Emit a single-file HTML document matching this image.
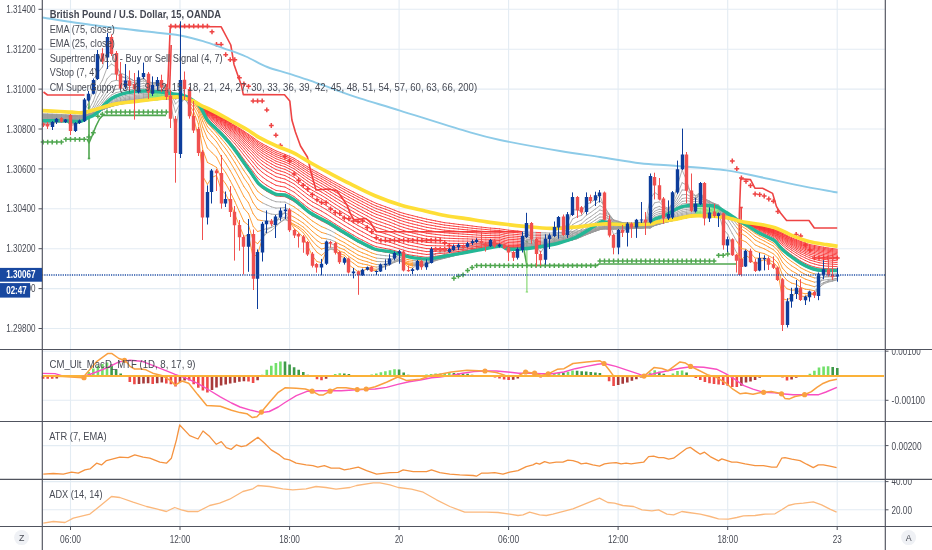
<!DOCTYPE html>
<html><head><meta charset="utf-8"><title>GBPUSD chart</title>
<style>html,body{margin:0;padding:0;background:#fff}body{width:932px;height:550px;overflow:hidden}</style>
</head><body>
<svg width="932" height="550" viewBox="0 0 932 550" style="display:block;font-family:'Liberation Sans',sans-serif">
<rect width="932" height="550" fill="#fff"/>
<path d="M70.5 0V526 M180.0 0V526 M289.6 0V526 M399.1 0V526 M508.6 0V526 M618.1 0V526 M727.7 0V526 M837.2 0V526 M42.0 9.3H885.0 M42.0 49.2H885.0 M42.0 89.1H885.0 M42.0 129.0H885.0 M42.0 168.9H885.0 M42.0 208.8H885.0 M42.0 248.7H885.0 M42.0 288.6H885.0 M42.0 328.5H885.0 M42.0 351.2H885.0 M42.0 400.3H885.0 M42.0 445.6H885.0 M42.0 481.6H885.0 M42.0 509.8H885.0" stroke="#e3ecf3" stroke-width="1.1" fill="none"/>
<path d="M43.5 92.0 L47.5 95.0 L84.5 95.0" stroke="#ee4444" stroke-width="1.6" fill="none" stroke-linejoin="round"/>
<path d="M166.5 97.0 L167.5 92.0 L170.3 26.5 L221.2 26.8 L230.8 45.0 L234.0 64.4 L241.5 85.8 L243.3 94.6 L284.5 94.8 L289.8 100.9 L291.9 120.0 L295.4 132.0 L300.5 146.0 L307.4 157.0 L310.9 171.8 L316.0 190.0 L328.2 189.0 L336.8 190.8 L342.0 197.7 L347.0 205.0 L350.4 213.6 L353.8 219.7 L365.9 218.5 L370.2 222.3 L376.3 231.8 L522.0 231.8" stroke="#ee4444" stroke-width="1.6" fill="none" stroke-linejoin="round"/>
<path d="M171.2 45.0 L169.5 92.0" stroke="#ee4444" stroke-width="1.6" fill="none" stroke-linejoin="round"/>
<path d="M65.0 116.2 L78.5 116.2" stroke="#ee4444" stroke-width="1.6" fill="none" stroke-linejoin="round"/>
<path d="M739.0 275.0 L739.3 215.0 L740.7 178.7 L750.5 179.6 L754.9 188.2 L762.6 188.2 L772.6 193.4 L776.4 206.4 L779.7 212.0 L786.6 220.5 L809.0 220.5 L814.3 228.0 L837.2 228.0" stroke="#ee4444" stroke-width="1.6" fill="none" stroke-linejoin="round"/>
<path d="M741.2 207.5 L741.0 275.0" stroke="#ee4444" stroke-width="1.6" fill="none" stroke-linejoin="round"/>
<path d="M739.8 207.5 L742.8 207.5" stroke="#ee4444" stroke-width="1.6" fill="none" stroke-linejoin="round"/>
<path d="M89.0 94.0 L89.0 158.5" stroke="#4fa64f" stroke-width="1.6" fill="none" stroke-linejoin="round"/>
<path d="M87.8 158.5 L90.2 158.5" stroke="#4fa64f" stroke-width="1.6" fill="none" stroke-linejoin="round"/>
<path d="M87.0 139.0 L89.0 143.0 L92.0 136.0 L96.0 126.0 L99.5 119.0 L102.6 115.4 L166.0 115.4" stroke="#4fa64f" stroke-width="1.6" fill="none" stroke-linejoin="round"/>
<path d="M524.0 250.0 L526.9 265.5 L597.0 265.5 L599.0 264.0 L736.0 264.0" stroke="#4fa64f" stroke-width="1.6" fill="none" stroke-linejoin="round"/>
<path d="M526.9 241.5V292M525.7 292h2.4" stroke="#7fd66a" stroke-width="1.1" fill="none"/>
<circle cx="89" cy="108" r="1.4" fill="#4fa64f"/>
<circle cx="526.9" cy="242" r="1.4" fill="#4fa64f"/>
<path d="M168.5 26.2h4.8M170.9 23.8v4.8M173.1 26.2h4.8M175.5 23.8v4.8M177.6 26.2h4.8M180.0 23.8v4.8M182.2 26.2h4.8M184.6 23.8v4.8M186.8 26.2h4.8M189.2 23.8v4.8M191.3 26.2h4.8M193.7 23.8v4.8M195.9 26.2h4.8M198.3 23.8v4.8M200.5 26.2h4.8M202.9 23.8v4.8M205.0 26.2h4.8M207.4 23.8v4.8M209.6 31.8h4.8M212.0 29.4v4.8M214.1 44.4h4.8M216.5 42.0v4.8M218.7 44.4h4.8M221.1 42.0v4.8M223.3 54.7h4.8M225.7 52.3v4.8M227.8 59.7h4.8M230.2 57.3v4.8M232.4 59.7h4.8M234.8 57.3v4.8M237.0 77.7h4.8M239.4 75.3v4.8M241.5 84.0h4.8M243.9 81.6v4.8M246.1 86.3h4.8M248.5 83.9v4.8M250.7 100.9h4.8M253.1 98.5v4.8M255.2 100.9h4.8M257.6 98.5v4.8M259.8 100.9h4.8M262.2 98.5v4.8M264.4 109.9h4.8M266.8 107.5v4.8M268.9 125.5h4.8M271.3 123.1v4.8M273.5 135.2h4.8M275.9 132.8v4.8M278.0 145.6h4.8M280.4 143.2v4.8M282.6 156.6h4.8M285.0 154.2v4.8M287.2 161.0h4.8M289.6 158.6v4.8M291.7 173.9h4.8M294.1 171.5v4.8M296.3 180.5h4.8M298.7 178.1v4.8M300.9 185.3h4.8M303.3 182.9v4.8M305.4 189.0h4.8M307.8 186.6v4.8M310.0 194.6h4.8M312.4 192.2v4.8M314.6 199.8h4.8M317.0 197.4v4.8M319.1 202.6h4.8M321.5 200.2v4.8M323.7 202.6h4.8M326.1 200.2v4.8M328.2 209.0h4.8M330.6 206.6v4.8M332.8 212.5h4.8M335.2 210.1v4.8M337.4 213.5h4.8M339.8 211.1v4.8M341.9 218.0h4.8M344.3 215.6v4.8M346.5 218.8h4.8M348.9 216.4v4.8M351.1 220.9h4.8M353.5 218.5v4.8M355.6 221.4h4.8M358.0 219.0v4.8M360.2 220.9h4.8M362.6 218.5v4.8M364.8 227.5h4.8M367.2 225.1v4.8M369.3 231.8h4.8M371.7 229.4v4.8M373.9 237.8h4.8M376.3 235.4v4.8M378.5 240.4h4.8M380.9 238.0v4.8M383.0 240.4h4.8M385.4 238.0v4.8M387.6 240.4h4.8M390.0 238.0v4.8M392.1 240.4h4.8M394.5 238.0v4.8M396.7 240.4h4.8M399.1 238.0v4.8M401.3 240.4h4.8M403.7 238.0v4.8M405.8 240.4h4.8M408.2 238.0v4.8M410.4 240.4h4.8M412.8 238.0v4.8M415.0 240.4h4.8M417.4 238.0v4.8M419.5 240.4h4.8M421.9 238.0v4.8M424.1 240.4h4.8M426.5 238.0v4.8M428.7 240.4h4.8M431.1 238.0v4.8M433.2 240.4h4.8M435.6 238.0v4.8M437.8 240.4h4.8M440.2 238.0v4.8M442.3 242.7h4.8M444.7 240.3v4.8M446.9 245.6h4.8M449.3 243.2v4.8M729.9 161.0h4.8M732.3 158.6v4.8M734.4 168.7h4.8M736.8 166.3v4.8M739.0 177.9h4.8M741.4 175.5v4.8M743.6 181.3h4.8M746.0 178.9v4.8M748.1 185.6h4.8M750.5 183.2v4.8M752.7 194.0h4.8M755.1 191.6v4.8M757.3 194.6h4.8M759.7 192.2v4.8M761.8 196.0h4.8M764.2 193.6v4.8M766.4 199.0h4.8M768.8 196.6v4.8M771.0 201.2h4.8M773.4 198.8v4.8M775.5 211.5h4.8M777.9 209.1v4.8M793.8 234.5h4.8M796.2 232.1v4.8M798.3 236.0h4.8M800.7 233.6v4.8M802.9 245.0h4.8M805.3 242.6v4.8M807.5 250.0h4.8M809.9 247.6v4.8M812.0 257.9h4.8M814.4 255.5v4.8M816.6 257.9h4.8M819.0 255.5v4.8M821.2 257.9h4.8M823.6 255.5v4.8M825.7 257.9h4.8M828.1 255.5v4.8M830.3 257.9h4.8M832.7 255.5v4.8M834.9 257.9h4.8M837.3 255.5v4.8" stroke="#ee4444" stroke-width="1.5" fill="none"/><path d="M433.2 249.5h4.8M435.6 247.1v4.8M437.8 249.5h4.8M440.2 247.1v4.8M442.3 249.5h4.8M444.7 247.1v4.8" stroke="#ee4444" stroke-width="1.5" fill="none"/><path d="M40.7 142.1h4.8M43.1 139.7v4.8M45.3 142.1h4.8M47.7 139.7v4.8M49.8 142.1h4.8M52.2 139.7v4.8M54.4 142.1h4.8M56.8 139.7v4.8M59.0 142.1h4.8M61.4 139.7v4.8M63.5 139.3h4.8M65.9 136.9v4.8M68.1 139.3h4.8M70.5 136.9v4.8M72.7 139.3h4.8M75.1 136.9v4.8M77.2 139.3h4.8M79.6 136.9v4.8M81.8 139.3h4.8M84.2 136.9v4.8M86.4 137.0h4.8M88.8 134.6v4.8M90.9 132.8h4.8M93.3 130.4v4.8M95.5 116.2h4.8M97.9 113.8v4.8M100.0 114.2h4.8M102.4 111.8v4.8M104.6 112.0h4.8M107.0 109.6v4.8M109.2 112.0h4.8M111.6 109.6v4.8M113.7 112.0h4.8M116.1 109.6v4.8M118.3 112.0h4.8M120.7 109.6v4.8M122.9 112.0h4.8M125.3 109.6v4.8M127.4 112.0h4.8M129.8 109.6v4.8M132.0 112.0h4.8M134.4 109.6v4.8M136.6 112.0h4.8M139.0 109.6v4.8M141.1 112.0h4.8M143.5 109.6v4.8M145.7 112.0h4.8M148.1 109.6v4.8M150.3 112.0h4.8M152.7 109.6v4.8M154.8 112.0h4.8M157.2 109.6v4.8M159.4 112.0h4.8M161.8 109.6v4.8M163.9 112.0h4.8M166.3 109.6v4.8M451.5 278.3h4.8M453.9 275.9v4.8M456.0 276.2h4.8M458.4 273.8v4.8M460.6 274.8h4.8M463.0 272.4v4.8M465.2 270.4h4.8M467.6 268.0v4.8M469.7 267.5h4.8M472.1 265.1v4.8M474.3 265.6h4.8M476.7 263.2v4.8M478.9 265.6h4.8M481.3 263.2v4.8M483.4 265.6h4.8M485.8 263.2v4.8M488.0 265.6h4.8M490.4 263.2v4.8M492.6 265.6h4.8M495.0 263.2v4.8M497.1 265.6h4.8M499.5 263.2v4.8M501.7 265.6h4.8M504.1 263.2v4.8M506.2 265.6h4.8M508.6 263.2v4.8M510.8 265.6h4.8M513.2 263.2v4.8M515.4 265.6h4.8M517.8 263.2v4.8M519.9 265.6h4.8M522.3 263.2v4.8M524.5 265.6h4.8M526.9 263.2v4.8M529.1 265.6h4.8M531.5 263.2v4.8M533.6 265.6h4.8M536.0 263.2v4.8M538.2 265.6h4.8M540.6 263.2v4.8M542.8 265.6h4.8M545.2 263.2v4.8M547.3 265.6h4.8M549.7 263.2v4.8M551.9 265.6h4.8M554.3 263.2v4.8M556.4 265.6h4.8M558.8 263.2v4.8M561.0 265.6h4.8M563.4 263.2v4.8M565.6 265.6h4.8M568.0 263.2v4.8M570.1 265.6h4.8M572.5 263.2v4.8M574.7 265.6h4.8M577.1 263.2v4.8M579.3 265.6h4.8M581.7 263.2v4.8M583.8 265.6h4.8M586.2 263.2v4.8M588.4 265.6h4.8M590.8 263.2v4.8M593.0 265.6h4.8M595.4 263.2v4.8M597.5 260.9h4.8M599.9 258.5v4.8M602.1 260.9h4.8M604.5 258.5v4.8M606.7 260.9h4.8M609.1 258.5v4.8M611.2 260.9h4.8M613.6 258.5v4.8M615.8 260.9h4.8M618.2 258.5v4.8M620.3 260.9h4.8M622.7 258.5v4.8M624.9 260.9h4.8M627.3 258.5v4.8M629.5 260.9h4.8M631.9 258.5v4.8M634.0 260.9h4.8M636.4 258.5v4.8M638.6 260.9h4.8M641.0 258.5v4.8M643.2 260.9h4.8M645.6 258.5v4.8M647.7 260.9h4.8M650.1 258.5v4.8M652.3 260.9h4.8M654.7 258.5v4.8M656.9 260.9h4.8M659.3 258.5v4.8M661.4 260.9h4.8M663.8 258.5v4.8M666.0 260.9h4.8M668.4 258.5v4.8M670.5 260.9h4.8M672.9 258.5v4.8M675.1 260.9h4.8M677.5 258.5v4.8M679.7 260.9h4.8M682.1 258.5v4.8M684.2 260.9h4.8M686.6 258.5v4.8M688.8 260.9h4.8M691.2 258.5v4.8M693.4 260.9h4.8M695.8 258.5v4.8M697.9 260.9h4.8M700.3 258.5v4.8M702.5 260.9h4.8M704.9 258.5v4.8M707.1 260.9h4.8M709.5 258.5v4.8M711.6 260.9h4.8M714.0 258.5v4.8M716.2 255.3h4.8M718.6 252.9v4.8M720.8 255.3h4.8M723.2 252.9v4.8M725.3 254.0h4.8M727.7 251.6v4.8" stroke="#4fa64f" stroke-width="1.5" fill="none"/>
<path d="M43.1 124.3L47.7 125.4M47.7 125.4L52.2 123.7M52.2 123.7L56.8 121.2M56.8 121.2L61.4 121.5M61.4 121.5L65.9 120.5M65.9 120.5L70.5 125.7M70.5 125.7L75.1 124.4M75.1 124.4L79.6 122.4M79.6 122.4L84.2 110.9M84.2 110.9L88.8 102.3M88.8 102.3L93.3 91.1M93.3 91.1L97.9 72.6M97.9 72.6L102.4 67.0M102.4 67.0L107.0 52.0M107.0 52.0L111.6 53.0M111.6 53.0L116.1 63.8M116.1 63.8L120.7 76.1M120.7 76.1L125.3 78.2M125.3 78.2L129.8 82.1M129.8 82.1L134.4 85.5M134.4 85.5L139.0 81.4M139.0 81.4L143.5 77.2M143.5 77.2L148.1 85.0M148.1 85.0L152.7 85.1M152.7 85.1L157.2 82.5M157.2 82.5L161.8 85.1M161.8 85.1L166.3 91.2M166.3 91.2L170.9 104.9M170.9 104.9L175.5 128.8M175.5 128.8L180.0 104.4M180.0 104.4L184.6 96.8M184.6 96.8L189.2 106.6M262.2 239.1L266.8 230.0M266.8 230.0L271.3 227.1M271.3 227.1L275.9 221.8M275.9 221.8L280.4 216.1M280.4 216.1L285.0 212.8M285.0 212.8L289.6 221.5M326.1 252.0L330.6 247.8M330.6 247.8L335.2 250.3M376.3 270.6L380.9 267.6M380.9 267.6L385.4 265.6M385.4 265.6L390.0 262.1M390.0 262.1L394.5 257.6M394.5 257.6L399.1 254.5M399.1 254.5L403.7 262.6M412.8 268.1L417.4 264.6M421.9 265.9L426.5 264.2M426.5 264.2L431.1 256.7M431.1 256.7L435.6 253.7M435.6 253.7L440.2 252.3M440.2 252.3L444.7 251.6M444.7 251.6L449.3 250.3M449.3 250.3L453.9 248.1M453.9 248.1L458.4 246.4M458.4 246.4L463.0 246.9M463.0 246.9L467.6 245.1M467.6 245.1L472.1 243.2M472.1 243.2L476.7 241.5M476.7 241.5L481.3 242.4M481.3 242.4L485.8 244.4M485.8 244.4L490.4 242.2M490.4 242.2L495.0 244.3M495.0 244.3L499.5 244.3M499.5 244.3L504.1 246.3M504.1 246.3L508.6 249.4M508.6 249.4L513.2 253.5M513.2 253.5L517.8 251.2M517.8 251.2L522.3 243.7M522.3 243.7L526.9 233.4M526.9 233.4L531.5 236.5M531.5 236.5L536.0 245.3M536.0 245.3L540.6 252.7M540.6 252.7L545.2 245.7M545.2 245.7L549.7 240.5M549.7 240.5L554.3 233.7M554.3 233.7L558.8 225.4M558.8 225.4L563.4 230.2M563.4 230.2L568.0 222.2M568.0 222.2L572.5 209.7M572.5 209.7L577.1 210.0M577.1 210.0L581.7 211.2M581.7 211.2L586.2 204.1M586.2 204.1L590.8 202.6M590.8 202.6L595.4 198.9M595.4 198.9L599.9 195.6M599.9 195.6L604.5 207.7M604.5 207.7L609.1 221.6M609.1 221.6L613.6 234.6M613.6 234.6L618.2 232.3M618.2 232.3L622.7 232.4M622.7 232.4L627.3 227.9M627.3 227.9L631.9 227.7M631.9 227.7L636.4 223.7M636.4 223.7L641.0 221.6M641.0 221.6L645.6 222.1M645.6 222.1L650.1 199.1M650.1 199.1L654.7 192.4M654.7 192.4L659.3 195.9M659.3 195.9L663.8 207.1M663.8 207.1L668.4 210.5M668.4 210.5L672.9 201.3M672.9 201.3L677.5 185.2M677.5 185.2L682.1 169.9M682.1 169.9L686.6 180.4M686.6 180.4L691.2 195.5M691.2 195.5L695.8 199.7M695.8 199.7L700.3 191.4M700.3 191.4L704.9 204.9M704.9 204.9L709.5 208.7M709.5 208.7L714.0 212.3M714.0 212.3L718.6 212.9M718.6 212.9L723.2 229.1M723.2 229.1L727.7 234.2M727.7 234.2L732.3 244.7M732.3 244.7L736.8 252.8M814.4 294.8L819.0 284.3M819.0 284.3L823.6 276.8M823.6 276.8L828.1 276.0M828.1 276.0L832.7 276.7M832.7 276.7L837.3 275.7M43.1 123.4L47.7 124.2M47.7 124.2L52.2 123.6M52.2 123.6L56.8 122.2M56.8 122.2L61.4 122.0M61.4 122.0L65.9 121.4M65.9 121.4L70.5 124.1M70.5 124.1L75.1 123.7M75.1 123.7L79.6 122.8M79.6 122.8L84.2 116.1M84.2 116.1L88.8 109.6M88.8 109.6L93.3 101.3M93.3 101.3L97.9 87.9M97.9 87.9L102.4 80.2M102.4 80.2L107.0 68.0M107.0 68.0L111.6 64.0M111.6 64.0L116.1 67.0M116.1 67.0L120.7 73.0M120.7 73.0L125.3 75.1M125.3 75.1L129.8 78.1M129.8 78.1L134.4 81.2M134.4 81.2L139.0 80.1M139.0 80.1L143.5 78.2M143.5 78.2L148.1 82.4M148.1 82.4L152.7 83.2M152.7 83.2L157.2 82.4M157.2 82.4L161.8 84.1M161.8 84.1L166.3 87.9M166.3 87.9L170.9 96.6M170.9 96.6L175.5 112.3M175.5 112.3L180.0 103.2M180.0 103.2L184.6 99.3M184.6 99.3L189.2 104.3M262.2 238.1L266.8 233.2M266.8 233.2L271.3 230.7M271.3 230.7L275.9 226.7M275.9 226.7L280.4 222.0M280.4 222.0L285.0 218.3M285.0 218.3L289.6 221.7M326.1 251.4L330.6 249.2M330.6 249.2L335.2 250.3M376.3 269.3L380.9 267.9M380.9 267.9L385.4 266.7M385.4 266.7L390.0 264.4M390.0 264.4L394.5 261.2M394.5 261.2L399.1 258.6M399.1 258.6L403.7 262.1M412.8 266.1L417.4 264.7M421.9 265.4L426.5 264.7M426.5 264.7L431.1 260.2M431.1 260.2L435.6 257.6M435.6 257.6L440.2 255.6M440.2 255.6L444.7 254.3M444.7 254.3L449.3 252.7M449.3 252.7L453.9 250.8M453.9 250.8L458.4 249.1M458.4 249.1L463.0 248.5M463.0 248.5L467.6 247.0M467.6 247.0L472.1 245.4M472.1 245.4L476.7 243.8M476.7 243.8L481.3 243.6M481.3 243.6L485.8 244.4M485.8 244.4L490.4 243.1M490.4 243.1L495.0 243.9M495.0 243.9L499.5 243.9M499.5 243.9L504.1 245.3M504.1 245.3L508.6 247.4M508.6 247.4L513.2 250.3M513.2 250.3L517.8 249.9M517.8 249.9L522.3 246.0M522.3 246.0L526.9 239.6M526.9 239.6L531.5 239.7M531.5 239.7L536.0 243.7M536.0 243.7L540.6 248.3M540.6 248.3L545.2 245.5M545.2 245.5L549.7 242.5M549.7 242.5L554.3 238.1M554.3 238.1L558.8 232.2M558.8 232.2L563.4 232.9M563.4 232.9L568.0 227.6M568.0 227.6L572.5 219.1M572.5 219.1L577.1 216.6M577.1 216.6L581.7 215.4M581.7 215.4L586.2 210.2M586.2 210.2L590.8 207.5M590.8 207.5L595.4 204.0M595.4 204.0L599.9 200.7M599.9 200.7L604.5 206.1M604.5 206.1L609.1 214.5M609.1 214.5L613.6 223.8M613.6 223.8L618.2 225.6M618.2 225.6L622.7 227.5M622.7 227.5L627.3 226.3M627.3 226.3L631.9 226.6M631.9 226.6L636.4 224.6M636.4 224.6L641.0 223.2M641.0 223.2L645.6 222.9M645.6 222.9L650.1 209.9M650.1 209.9L654.7 202.8M654.7 202.8L659.3 201.9M659.3 201.9L663.8 206.4M663.8 206.4L668.4 208.3M668.4 208.3L672.9 203.6M672.9 203.6L677.5 193.8M677.5 193.8L682.1 182.7M682.1 182.7L686.6 185.1M686.6 185.1L691.2 192.4M691.2 192.4L695.8 195.6M695.8 195.6L700.3 192.2M700.3 192.2L704.9 199.6M704.9 199.6L709.5 203.2M709.5 203.2L714.0 206.9M714.0 206.9L718.6 208.8M718.6 208.8L723.2 219.2M723.2 219.2L727.7 225.0M727.7 225.0L732.3 233.7M732.3 233.7L736.8 241.4M814.4 293.8L819.0 288.1M819.0 288.1L823.6 282.8M823.6 282.8L828.1 280.7M828.1 280.7L832.7 279.7M832.7 279.7L837.3 278.2M43.1 122.8L47.7 123.4M47.7 123.4L52.2 123.1M52.2 123.1L56.8 122.2M56.8 122.2L61.4 122.1M61.4 122.1L65.9 121.7M65.9 121.7L70.5 123.4M70.5 123.4L75.1 123.3M75.1 123.3L79.6 122.7M79.6 122.7L84.2 118.0M84.2 118.0L88.8 113.1M88.8 113.1L93.3 106.7M93.3 106.7L97.9 96.4M97.9 96.4L102.4 89.2M102.4 89.2L107.0 78.9M107.0 78.9L111.6 74.0M111.6 74.0L116.1 74.0M116.1 74.0L120.7 76.7M120.7 76.7L125.3 77.3M125.3 77.3L129.8 79.0M129.8 79.0L134.4 80.9M134.4 80.9L139.0 80.3M139.0 80.3L143.5 79.0M143.5 79.0L148.1 81.8M148.1 81.8L152.7 82.6M152.7 82.6L157.2 82.4M157.2 82.4L161.8 83.6M161.8 83.6L166.3 86.5M166.3 86.5L170.9 92.7M170.9 92.7L175.5 104.0M175.5 104.0L180.0 99.5M180.0 99.5L184.6 97.7M184.6 97.7L189.2 101.6M262.2 230.2L266.8 228.4M266.8 228.4L271.3 227.6M271.3 227.6L275.9 225.4M275.9 225.4L280.4 222.3M280.4 222.3L285.0 219.6M285.0 219.6L289.6 221.6M326.1 247.7L330.6 247.0M330.6 247.0L335.2 248.3M376.3 267.1L380.9 266.5M380.9 266.5L385.4 265.9M385.4 265.9L390.0 264.5M390.0 264.5L394.5 262.4M394.5 262.4L399.1 260.5M399.1 260.5L403.7 262.6M412.8 265.4L417.4 264.6M421.9 265.1L426.5 264.7M426.5 264.7L431.1 261.6M431.1 261.6L435.6 259.5M435.6 259.5L440.2 257.7M440.2 257.7L444.7 256.3M444.7 256.3L449.3 254.8M449.3 254.8L453.9 253.0M453.9 253.0L458.4 251.4M458.4 251.4L463.0 250.5M463.0 250.5L467.6 249.0M467.6 249.0L472.1 247.5M472.1 247.5L476.7 246.0M476.7 246.0L481.3 245.4M481.3 245.4L485.8 245.4M485.8 245.4L490.4 244.3M490.4 244.3L495.0 244.5M495.0 244.5L499.5 244.3M499.5 244.3L504.1 245.3M504.1 245.3L508.6 246.9M508.6 246.9L513.2 248.9M513.2 248.9L517.8 248.9M517.8 248.9L522.3 246.5M522.3 246.5L526.9 242.2M526.9 242.2L531.5 241.7M531.5 241.7L536.0 244.0M536.0 244.0L540.6 246.9M540.6 246.9L545.2 245.2M545.2 245.2L549.7 243.2M549.7 243.2L554.3 240.0M554.3 240.0L558.8 235.6M558.8 235.6L563.4 235.3M563.4 235.3L568.0 231.2M568.0 231.2L572.5 224.7M572.5 224.7L577.1 222.0M577.1 222.0L581.7 219.9M581.7 219.9L586.2 215.4M586.2 215.4L590.8 212.4M590.8 212.4L595.4 209.0M595.4 209.0L599.9 205.6M599.9 205.6L604.5 208.3M604.5 208.3L609.1 213.8M609.1 213.8L613.6 220.3M613.6 220.3L618.2 222.2M618.2 222.2L622.7 224.2M622.7 224.2L627.3 224.0M627.3 224.0L631.9 224.6M631.9 224.6L636.4 223.7M636.4 223.7L641.0 222.9M641.0 222.9L645.6 222.7M645.6 222.7L650.1 214.0M650.1 214.0L654.7 208.1M654.7 208.1L659.3 206.4M659.3 206.4L663.8 208.4M663.8 208.4L668.4 209.1M668.4 209.1L672.9 205.5M672.9 205.5L677.5 198.4M677.5 198.4L682.1 190.0M682.1 190.0L686.6 190.2M686.6 190.2L691.2 194.2M691.2 194.2L695.8 196.2M695.8 196.2L700.3 193.9M700.3 193.9L704.9 198.6M704.9 198.6L709.5 201.3M709.5 201.3L714.0 204.2M714.0 204.2L718.6 206.2M718.6 206.2L723.2 214.0M723.2 214.0L727.7 219.2M727.7 219.2L732.3 226.4M732.3 226.4L736.8 233.2M814.4 290.8L819.0 287.5M819.0 287.5L823.6 284.0M823.6 284.0L828.1 282.2M828.1 282.2L832.7 281.1M832.7 281.1L837.3 279.8M43.1 122.2L47.7 122.7M47.7 122.7L52.2 122.6M52.2 122.6L56.8 122.0M56.8 122.0L61.4 121.9M61.4 121.9L65.9 121.7M65.9 121.7L70.5 122.9M70.5 122.9L75.1 122.9M75.1 122.9L79.6 122.5M79.6 122.5L84.2 118.9M84.2 118.9L88.8 115.0M88.8 115.0L93.3 109.9M93.3 109.9L97.9 101.7M97.9 101.7L102.4 95.2M102.4 95.2L107.0 86.5M107.0 86.5L111.6 81.5M111.6 81.5L116.1 80.3M116.1 80.3L120.7 81.2M120.7 81.2L125.3 81.0M125.3 81.0L129.8 81.6M129.8 81.6L134.4 82.7M134.4 82.7L139.0 82.0M139.0 82.0L143.5 80.9M143.5 80.9L148.1 82.8M148.1 82.8L152.7 83.4M152.7 83.4L157.2 83.3M157.2 83.3L161.8 84.2M161.8 84.2L166.3 86.4M166.3 86.4L170.9 91.0M170.9 91.0L175.5 99.3M175.5 99.3L180.0 96.8M180.0 96.8L184.6 96.1M184.6 96.1L189.2 99.5M262.2 220.7L266.8 220.9M266.8 220.9L271.3 221.3M271.3 221.3L275.9 220.7M275.9 220.7L280.4 218.9M280.4 218.9L285.0 217.2M285.0 217.2L289.6 219.1M326.1 243.4L330.6 243.7M330.6 243.7L335.2 245.3M376.3 264.5L380.9 264.4M380.9 264.4L385.4 264.2M385.4 264.2L390.0 263.4M390.0 263.4L394.5 262.1M394.5 262.1L399.1 260.9M399.1 260.9L403.7 262.5M412.8 264.7L417.4 264.3M421.9 264.7L426.5 264.5M426.5 264.5L431.1 262.2M431.1 262.2L435.6 260.4M435.6 260.4L440.2 258.9M440.2 258.9L444.7 257.6M444.7 257.6L449.3 256.2M449.3 256.2L453.9 254.6M453.9 254.6L458.4 253.1M458.4 253.1L463.0 252.1M463.0 252.1L467.6 250.7M467.6 250.7L472.1 249.3M472.1 249.3L476.7 247.8M476.7 247.8L481.3 247.0M481.3 247.0L485.8 246.7M485.8 246.7L490.4 245.6M490.4 245.6L495.0 245.4M495.0 245.4L499.5 245.0M499.5 245.0L504.1 245.9M504.1 245.9L508.6 247.2M508.6 247.2L513.2 248.6M513.2 248.6L517.8 248.6M517.8 248.6L522.3 247.0M522.3 247.0L526.9 243.8M526.9 243.8L531.5 243.3M531.5 243.3L536.0 244.6M536.0 244.6L540.6 246.5M540.6 246.5L545.2 245.2M545.2 245.2L549.7 243.6M549.7 243.6L554.3 241.2M554.3 241.2L558.8 237.8M558.8 237.8L563.4 237.1M563.4 237.1L568.0 233.7M568.0 233.7L572.5 228.7M572.5 228.7L577.1 226.0M577.1 226.0L581.7 223.7M581.7 223.7L586.2 219.6M586.2 219.6L590.8 216.6M590.8 216.6L595.4 213.3M595.4 213.3L599.9 210.0M599.9 210.0L604.5 211.4M604.5 211.4L609.1 215.1M609.1 215.1L613.6 219.7M613.6 219.7L618.2 221.2M618.2 221.2L622.7 222.8M622.7 222.8L627.3 222.9M627.3 222.9L631.9 223.5M631.9 223.5L636.4 223.0M636.4 223.0L641.0 222.5M641.0 222.5L645.6 222.4M645.6 222.4L650.1 216.3M650.1 216.3L654.7 211.2M654.7 211.2L659.3 209.3M659.3 209.3L663.8 210.2M663.8 210.2L668.4 210.1M668.4 210.1L672.9 207.1M672.9 207.1L677.5 201.5M677.5 201.5L682.1 194.8M682.1 194.8L686.6 194.4M686.6 194.4L691.2 196.8M691.2 196.8L695.8 197.8M695.8 197.8L700.3 196.1M700.3 196.1L704.9 199.2M704.9 199.2L709.5 201.1M709.5 201.1L714.0 203.4M714.0 203.4L718.6 205.2M718.6 205.2L723.2 211.3M723.2 211.3L727.7 215.8M727.7 215.8L732.3 221.9M732.3 221.9L736.8 227.8M814.4 286.7L819.0 284.9M819.0 284.9L823.6 282.6M823.6 282.6L828.1 281.5M828.1 281.5L832.7 280.7M832.7 280.7L837.3 279.6M43.1 121.7L47.7 122.1M47.7 122.1L52.2 122.0M52.2 122.0L56.8 121.7M56.8 121.7L61.4 121.6M61.4 121.6L65.9 121.5M65.9 121.5L70.5 122.4M70.5 122.4L75.1 122.5M75.1 122.5L79.6 122.2M79.6 122.2L84.2 119.4M84.2 119.4L88.8 116.0M88.8 116.0L93.3 112.0M93.3 112.0L97.9 105.3M97.9 105.3L102.4 99.3M102.4 99.3L107.0 91.9M107.0 91.9L111.6 87.2M111.6 87.2L116.1 85.4M116.1 85.4L120.7 85.3M120.7 85.3L125.3 84.5M125.3 84.5L129.8 84.6M129.8 84.6L134.4 85.0M134.4 85.0L139.0 84.3M139.0 84.3L143.5 83.3M143.5 83.3L148.1 84.6M148.1 84.6L152.7 85.0M152.7 85.0L157.2 84.9M157.2 84.9L161.8 85.6M161.8 85.6L166.3 87.3M166.3 87.3L170.9 90.7M170.9 90.7L175.5 96.7M175.5 96.7L180.0 95.4M180.0 95.4L184.6 95.3M184.6 95.3L189.2 98.2M262.2 211.3L266.8 212.7M266.8 212.7L271.3 214.1M271.3 214.1L275.9 214.6M275.9 214.6L280.4 213.8M280.4 213.8L285.0 212.9M285.0 212.9L289.6 214.9M326.1 238.8L330.6 239.8M330.6 239.8L335.2 241.7M376.3 261.4L380.9 261.7M380.9 261.7L385.4 261.8M385.4 261.8L390.0 261.5M390.0 261.5L394.5 260.9M394.5 260.9L399.1 260.4M399.1 260.4L403.7 261.7M412.8 263.7L417.4 263.5M421.9 263.9L426.5 263.9M426.5 263.9L431.1 262.1M431.1 262.1L435.6 260.7M435.6 260.7L440.2 259.4M440.2 259.4L444.7 258.2M444.7 258.2L449.3 257.0M449.3 257.0L453.9 255.5M453.9 255.5L458.4 254.2M458.4 254.2L463.0 253.2M463.0 253.2L467.6 251.9M467.6 251.9L472.1 250.6M472.1 250.6L476.7 249.3M476.7 249.3L481.3 248.4M481.3 248.4L485.8 247.8M485.8 247.8L490.4 246.7M490.4 246.7L495.0 246.3M495.0 246.3L499.5 245.7M499.5 245.7L504.1 246.6M504.1 246.6L508.6 247.8M508.6 247.8L513.2 248.7M513.2 248.7L517.8 248.7M517.8 248.7L522.3 247.5M522.3 247.5L526.9 245.2M526.9 245.2L531.5 244.6M531.5 244.6L536.0 245.3M536.0 245.3L540.6 246.5M540.6 246.5L545.2 245.4M545.2 245.4L549.7 244.0M549.7 244.0L554.3 242.1M554.3 242.1L558.8 239.5M558.8 239.5L563.4 238.5M563.4 238.5L568.0 235.7M568.0 235.7L572.5 231.7M572.5 231.7L577.1 229.2M577.1 229.2L581.7 226.7M581.7 226.7L586.2 223.1M586.2 223.1L590.8 220.1M590.8 220.1L595.4 216.9M595.4 216.9L599.9 213.8M599.9 213.8L604.5 214.3M604.5 214.3L609.1 217.1M609.1 217.1L613.6 220.3M613.6 220.3L618.2 221.4M618.2 221.4L622.7 222.6M622.7 222.6L627.3 222.7M627.3 222.7L631.9 223.2M631.9 223.2L636.4 222.9M636.4 222.9L641.0 222.6M641.0 222.6L645.6 222.4M645.6 222.4L650.1 218.0M650.1 218.0L654.7 213.4M654.7 213.4L659.3 211.6M659.3 211.6L663.8 211.7M663.8 211.7L668.4 211.1M668.4 211.1L672.9 208.3M672.9 208.3L677.5 203.8M677.5 203.8L682.1 198.5M682.1 198.5L686.6 197.8M686.6 197.8L691.2 199.2M691.2 199.2L695.8 199.8M695.8 199.8L700.3 198.4M700.3 198.4L704.9 200.4M704.9 200.4L709.5 201.7M709.5 201.7L714.0 203.5M714.0 203.5L718.6 205.1M718.6 205.1L723.2 210.1M723.2 210.1L727.7 214.0M727.7 214.0L732.3 219.1M732.3 219.1L736.8 224.2M814.4 282.2L819.0 281.5M819.0 281.5L823.6 280.1M823.6 280.1L828.1 279.5M828.1 279.5L832.7 279.0M832.7 279.0L837.3 278.3M43.1 121.2L47.7 121.5M47.7 121.5L52.2 121.4M52.2 121.4L56.8 121.2M56.8 121.2L61.4 121.2M61.4 121.2L65.9 121.3M65.9 121.3L70.5 122.0M70.5 122.0L75.1 122.0M75.1 122.0L79.6 121.9M79.6 121.9L84.2 119.5M84.2 119.5L88.8 116.6M88.8 116.6L93.3 113.4M93.3 113.4L97.9 107.8M97.9 107.8L102.4 102.3M102.4 102.3L107.0 95.9M107.0 95.9L111.6 91.5M111.6 91.5L116.1 89.4M116.1 89.4L120.7 88.8M120.7 88.8L125.3 87.6M125.3 87.6L129.8 87.3M129.8 87.3L134.4 87.3M134.4 87.3L139.0 86.7M139.0 86.7L143.5 85.8M143.5 85.8L148.1 86.6M148.1 86.6L152.7 86.9M152.7 86.9L157.2 86.9M157.2 86.9L161.8 87.4M161.8 87.4L166.3 88.7M166.3 88.7L170.9 91.2M170.9 91.2L175.5 95.3M175.5 95.3L180.0 94.7M180.0 94.7L184.6 95.0M184.6 95.0L189.2 97.7M262.2 202.7L266.8 204.9M266.8 204.9L271.3 206.8M271.3 206.8L275.9 208.1M275.9 208.1L280.4 207.9M280.4 207.9L285.0 207.6M285.0 207.6L289.6 209.8M326.1 233.7L330.6 235.3M330.6 235.3L335.2 237.6M376.3 258.1L380.9 258.5M380.9 258.5L385.4 258.9M385.4 258.9L390.0 259.0M390.0 259.0L394.5 259.0M394.5 259.0L399.1 259.0M399.1 259.0L403.7 260.3M412.8 262.2L417.4 262.3M421.9 262.7L426.5 262.9M426.5 262.9L431.1 261.5M431.1 261.5L435.6 260.3M435.6 260.3L440.2 259.2M440.2 259.2L444.7 258.2M444.7 258.2L449.3 257.1M449.3 257.1L453.9 255.9M453.9 255.9L458.4 254.7M458.4 254.7L463.0 253.7M463.0 253.7L467.6 252.5M467.6 252.5L472.1 251.4M472.1 251.4L476.7 250.2M476.7 250.2L481.3 249.3M481.3 249.3L485.8 248.6M485.8 248.6L490.4 247.5M490.4 247.5L495.0 246.9M495.0 246.9L499.5 246.2M499.5 246.2L504.1 247.3M504.1 247.3L508.6 248.4M508.6 248.4L513.2 248.9M513.2 248.9L517.8 248.8M517.8 248.8L522.3 248.0M522.3 248.0L526.9 246.4M526.9 246.4L531.5 245.8M531.5 245.8L536.0 246.0M536.0 246.0L540.6 246.6M540.6 246.6L545.2 245.6M545.2 245.6L549.7 244.4M549.7 244.4L554.3 242.8M554.3 242.8L558.8 240.8M558.8 240.8L563.4 239.6M563.4 239.6L568.0 237.3M568.0 237.3L572.5 234.1M572.5 234.1L577.1 231.9M577.1 231.9L581.7 229.3M581.7 229.3L586.2 226.0M586.2 226.0L590.8 223.1M590.8 223.1L595.4 220.0M595.4 220.0L599.9 217.1M599.9 217.1L604.5 217.0M604.5 217.0L609.1 219.1M609.1 219.1L613.6 221.3M613.6 221.3L618.2 222.2M618.2 222.2L622.7 223.0M622.7 223.0L627.3 223.0M627.3 223.0L631.9 223.3M631.9 223.3L636.4 223.1M636.4 223.1L641.0 222.9M641.0 222.9L645.6 222.7M645.6 222.7L650.1 219.6M650.1 219.6L654.7 215.3M654.7 215.3L659.3 213.5M659.3 213.5L663.8 213.0M663.8 213.0L668.4 211.9M668.4 211.9L672.9 209.4M672.9 209.4L677.5 205.7M677.5 205.7L682.1 201.5M682.1 201.5L686.6 200.7M686.6 200.7L691.2 201.5M691.2 201.5L695.8 201.7M695.8 201.7L700.3 200.7M700.3 200.7L704.9 201.9M704.9 201.9L709.5 202.7M709.5 202.7L714.0 204.2M714.0 204.2L718.6 205.6M718.6 205.6L723.2 209.7M723.2 209.7L727.7 213.2M727.7 213.2L732.3 217.5M732.3 217.5L736.8 221.9M814.4 277.9L819.0 277.9M819.0 277.9L823.6 277.2M823.6 277.2L828.1 276.9M828.1 276.9L832.7 276.6M832.7 276.6L837.3 276.2M43.1 120.7L47.7 120.9M47.7 120.9L52.2 120.9M52.2 120.9L56.8 120.8M56.8 120.8L61.4 120.8M61.4 120.8L65.9 120.9M65.9 120.9L70.5 121.5M70.5 121.5L75.1 121.6M75.1 121.6L79.6 121.5M79.6 121.5L84.2 119.5M84.2 119.5L88.8 116.9M88.8 116.9L93.3 114.4M93.3 114.4L97.9 109.7M97.9 109.7L102.4 104.6M102.4 104.6L107.0 98.9M107.0 98.9L111.6 94.9M111.6 94.9L116.1 92.6M116.1 92.6L120.7 91.6M120.7 91.6L125.3 90.2M125.3 90.2L129.8 89.7M129.8 89.7L134.4 89.4M134.4 89.4L139.0 88.8M139.0 88.8L143.5 88.1M143.5 88.1L148.1 88.6M148.1 88.6L152.7 88.9M152.7 88.9L157.2 89.0M157.2 89.0L161.8 89.4M161.8 89.4L166.3 90.4M166.3 90.4L170.9 92.0M170.9 92.0L175.5 94.6M175.5 94.6L180.0 94.6M180.0 94.6L184.6 95.2M184.6 95.2L189.2 97.7M262.2 195.0L266.8 197.7M266.8 197.7L271.3 200.0M271.3 200.0L275.9 201.7M275.9 201.7L280.4 202.0M280.4 202.0L285.0 202.1M285.0 202.1L289.6 204.4M326.1 228.5L330.6 230.6M330.6 230.6L335.2 233.1M376.3 254.4L380.9 255.1M380.9 255.1L385.4 255.7M385.4 255.7L390.0 256.1M390.0 256.1L394.5 256.6M394.5 256.6L399.1 257.2M399.1 257.2L403.7 258.4M412.8 260.4L417.4 260.6M421.9 261.1L426.5 261.4M426.5 261.4L431.1 260.4M431.1 260.4L435.6 259.4M435.6 259.4L440.2 258.5M440.2 258.5L444.7 257.7M444.7 257.7L449.3 256.7M449.3 256.7L453.9 255.6M453.9 255.6L458.4 254.6M458.4 254.6L463.0 253.7M463.0 253.7L467.6 252.7M467.6 252.7L472.1 251.7M472.1 251.7L476.7 250.6M476.7 250.6L481.3 249.7M481.3 249.7L485.8 248.9M485.8 248.9L490.4 248.0M490.4 248.0L495.0 247.2M495.0 247.2L499.5 246.4M499.5 246.4L504.1 247.6M504.1 247.6L508.6 248.8M508.6 248.8L513.2 249.0M513.2 249.0L517.8 248.9M517.8 248.9L522.3 248.5M522.3 248.5L526.9 247.4M526.9 247.4L531.5 246.8M531.5 246.8L536.0 246.7M536.0 246.7L540.6 246.7M540.6 246.7L545.2 245.8M545.2 245.8L549.7 244.7M549.7 244.7L554.3 243.4M554.3 243.4L558.8 241.9M558.8 241.9L563.4 240.6M563.4 240.6L568.0 238.6M568.0 238.6L572.5 236.1M572.5 236.1L577.1 234.1M577.1 234.1L581.7 231.5M581.7 231.5L586.2 228.4M586.2 228.4L590.8 225.6M590.8 225.6L595.4 222.7M595.4 222.7L599.9 219.8M599.9 219.8L604.5 219.4M604.5 219.4L609.1 221.0M609.1 221.0L613.6 222.5M613.6 222.5L618.2 223.1M618.2 223.1L622.7 223.6M622.7 223.6L627.3 223.6M627.3 223.6L631.9 223.8M631.9 223.8L636.4 223.7M636.4 223.7L641.0 223.5M641.0 223.5L645.6 223.2M645.6 223.2L650.1 221.3M650.1 221.3L654.7 217.0M654.7 217.0L659.3 215.3M659.3 215.3L663.8 214.3M663.8 214.3L668.4 212.8M668.4 212.8L672.9 210.4M672.9 210.4L677.5 207.4M677.5 207.4L682.1 204.0M682.1 204.0L686.6 203.3M686.6 203.3L691.2 203.6M691.2 203.6L695.8 203.6M695.8 203.6L700.3 203.0M700.3 203.0L704.9 203.5M704.9 203.5L709.5 203.9M709.5 203.9L714.0 205.1M714.0 205.1L718.6 206.4M718.6 206.4L723.2 209.9M723.2 209.9L727.7 213.0M727.7 213.0L732.3 216.7M732.3 216.7L736.8 220.5M814.4 273.8L819.0 274.4M819.0 274.4L823.6 274.1M823.6 274.1L828.1 274.1M828.1 274.1L832.7 274.0M832.7 274.0L837.3 273.8M43.1 119.0L47.7 119.2M47.7 119.2L52.2 119.3M52.2 119.3L56.8 119.4M56.8 119.4L61.4 119.5M61.4 119.5L65.9 119.8M65.9 119.8L70.5 120.2M70.5 120.2L75.1 120.4M75.1 120.4L79.6 120.5M79.6 120.5L84.2 118.8M84.2 118.8L88.8 116.5M88.8 116.5L93.3 114.6M93.3 114.6L97.9 110.8M97.9 110.8L102.4 105.9M102.4 105.9L107.0 101.0M107.0 101.0L111.6 97.3M111.6 97.3L116.1 95.0M116.1 95.0L120.7 93.6M120.7 93.6L125.3 92.1M125.3 92.1L129.8 91.4M129.8 91.4L134.4 91.0M134.4 91.0L139.0 90.6M139.0 90.6L143.5 90.0M143.5 90.0L148.1 90.4M166.3 92.1L170.9 93.0M170.9 93.0L175.5 94.2M175.5 94.2L180.0 94.7M180.0 94.7L184.6 95.6M184.6 95.6L189.2 98.0M189.2 98.0L193.7 101.0M193.7 101.0L198.3 105.1M522.3 248.7L526.9 248.2M526.9 248.2L531.5 247.6M531.5 247.6L536.0 247.1M540.6 246.7L545.2 245.8M545.2 245.8L549.7 244.9M549.7 244.9L554.3 243.9M554.3 243.9L558.8 242.8M558.8 242.8L563.4 241.3M563.4 241.3L568.0 239.6M568.0 239.6L572.5 237.8M572.5 237.8L577.1 236.0M577.1 236.0L581.7 233.3M581.7 233.3L586.2 230.4M586.2 230.4L590.8 227.7M590.8 227.7L595.4 224.9M595.4 224.9L599.9 222.2M599.9 222.2L604.5 221.5M604.5 221.5L609.1 222.8M609.1 222.8L613.6 223.6M613.6 223.6L618.2 224.0M618.2 224.0L622.7 224.3M622.7 224.3L627.3 224.3M627.3 224.3L631.9 224.3M631.9 224.3L636.4 224.3M636.4 224.3L641.0 224.2M641.0 224.2L645.6 223.7M645.6 223.7L650.1 222.8M650.1 222.8L654.7 218.6M654.7 218.6L659.3 217.0M659.3 217.0L663.8 215.4M663.8 215.4L668.4 213.6M668.4 213.6L672.9 211.3M672.9 211.3L677.5 208.8M677.5 208.8L682.1 206.3M682.1 206.3L686.6 205.6M686.6 205.6L691.2 205.5M691.2 205.5L695.8 205.4M718.6 207.5L723.2 210.3M723.2 210.3L727.7 213.2M727.7 213.2L732.3 216.4M732.3 216.4L736.8 219.7M736.8 219.7L741.4 222.5M741.4 222.5L746.0 225.2M43.1 118.6L47.7 118.7M47.7 118.7L52.2 118.8M52.2 118.8L56.8 119.0M56.8 119.0L61.4 119.1M61.4 119.1L65.9 119.5M65.9 119.5L70.5 119.8M70.5 119.8L75.1 120.0M75.1 120.0L79.6 120.1M79.6 120.1L84.2 118.6M84.2 118.6L88.8 116.5M88.8 116.5L93.3 114.9M93.3 114.9L97.9 111.7M97.9 111.7L102.4 107.0M102.4 107.0L107.0 102.7M107.0 102.7L111.6 99.3M111.6 99.3L116.1 97.0M116.1 97.0L120.7 95.5M120.7 95.5L125.3 94.0M125.3 94.0L129.8 93.2M129.8 93.2L134.4 92.7M134.4 92.7L139.0 92.3M139.0 92.3L143.5 91.8M143.5 91.8L148.1 92.0M166.3 93.3L170.9 93.9M170.9 93.9L175.5 94.3M175.5 94.3L180.0 95.0M180.0 95.0L184.6 96.0M184.6 96.0L189.2 98.2M189.2 98.2L193.7 100.9M193.7 100.9L198.3 104.7M522.3 248.6L526.9 248.4M526.9 248.4L531.5 247.8M531.5 247.8L536.0 247.2M540.6 246.6L545.2 245.9M545.2 245.9L549.7 245.0M549.7 245.0L554.3 244.1M554.3 244.1L558.8 243.3M558.8 243.3L563.4 241.8M563.4 241.8L568.0 240.3M568.0 240.3L572.5 238.9M572.5 238.9L577.1 237.2M577.1 237.2L581.7 234.6M581.7 234.6L586.2 232.0M586.2 232.0L590.8 229.3M590.8 229.3L595.4 226.7M595.4 226.7L599.9 224.2M599.9 224.2L604.5 223.3M604.5 223.3L609.1 224.4M609.1 224.4L613.6 224.8M613.6 224.8L618.2 225.1M618.2 225.1L622.7 225.2M622.7 225.2L627.3 225.2M627.3 225.2L631.9 225.1M631.9 225.1L636.4 225.1M636.4 225.1L641.0 225.0M641.0 225.0L645.6 224.5M645.6 224.5L650.1 224.1M650.1 224.1L654.7 220.0M654.7 220.0L659.3 218.4M659.3 218.4L663.8 216.7M663.8 216.7L668.4 214.7M668.4 214.7L672.9 212.5M672.9 212.5L677.5 210.4M677.5 210.4L682.1 208.3M682.1 208.3L686.6 207.6M686.6 207.6L691.2 207.3M691.2 207.3L695.8 207.1M718.6 208.5L723.2 211.0M723.2 211.0L727.7 213.6M727.7 213.6L732.3 216.4M732.3 216.4L736.8 219.3M736.8 219.3L741.4 221.7M741.4 221.7L746.0 224.2M43.1 118.2L47.7 118.3M47.7 118.3L52.2 118.5M52.2 118.5L56.8 118.6M56.8 118.6L61.4 118.8M61.4 118.8L65.9 119.1M65.9 119.1L70.5 119.4M70.5 119.4L75.1 119.6M75.1 119.6L79.6 119.7M79.6 119.7L84.2 118.4M84.2 118.4L88.8 116.5M88.8 116.5L93.3 115.1M93.3 115.1L97.9 112.2M97.9 112.2L102.4 107.9M102.4 107.9L107.0 104.0M107.0 104.0L111.6 100.9M111.6 100.9L116.1 98.6M116.1 98.6L120.7 97.1M120.7 97.1L125.3 95.6M125.3 95.6L129.8 94.8M129.8 94.8L134.4 94.3M134.4 94.3L139.0 93.8M139.0 93.8L143.5 93.3M143.5 93.3L148.1 93.3M166.3 94.2L170.9 94.6M170.9 94.6L175.5 94.6M175.5 94.6L180.0 95.3M180.0 95.3L184.6 96.4M184.6 96.4L189.2 98.4M189.2 98.4L193.7 100.9M193.7 100.9L198.3 104.3M522.3 248.3L526.9 248.1M526.9 248.1L531.5 247.7M531.5 247.7L536.0 247.1M540.6 246.4L545.2 245.7M545.2 245.7L549.7 245.0M549.7 245.0L554.3 244.2M554.3 244.2L558.8 243.5M558.8 243.5L563.4 242.1M563.4 242.1L568.0 240.8M568.0 240.8L572.5 239.5M572.5 239.5L577.1 238.0M577.1 238.0L581.7 235.5M581.7 235.5L586.2 233.1M586.2 233.1L590.8 230.6M590.8 230.6L595.4 228.2M595.4 228.2L599.9 225.8M599.9 225.8L604.5 224.9M604.5 224.9L609.1 225.8M609.1 225.8L613.6 226.0M613.6 226.0L618.2 226.2M618.2 226.2L622.7 226.2M622.7 226.2L627.3 226.1M627.3 226.1L631.9 226.0M631.9 226.0L636.4 225.9M636.4 225.9L641.0 225.8M641.0 225.8L645.6 225.3M645.6 225.3L650.1 225.0M650.1 225.0L654.7 221.3M654.7 221.3L659.3 219.7M659.3 219.7L663.8 217.9M663.8 217.9L668.4 216.0M668.4 216.0L672.9 213.9M672.9 213.9L677.5 212.0M677.5 212.0L682.1 210.1M682.1 210.1L686.6 209.4M686.6 209.4L691.2 208.9M691.2 208.9L695.8 208.6M718.6 209.6L723.2 211.8M723.2 211.8L727.7 214.1M727.7 214.1L732.3 216.6M732.3 216.6L736.8 219.1M736.8 219.1L741.4 221.3M741.4 221.3L746.0 223.7M43.1 117.8L47.7 117.9M47.7 117.9L52.2 118.1M52.2 118.1L56.8 118.3M56.8 118.3L61.4 118.4M61.4 118.4L65.9 118.8M65.9 118.8L70.5 119.0M70.5 119.0L75.1 119.2M75.1 119.2L79.6 119.3M79.6 119.3L84.2 118.2M84.2 118.2L88.8 116.4M88.8 116.4L93.3 115.1M93.3 115.1L97.9 112.5M97.9 112.5L102.4 108.6M102.4 108.6L107.0 105.0M107.0 105.0L111.6 102.1M111.6 102.1L116.1 99.9M116.1 99.9L120.7 98.4M120.7 98.4L125.3 97.0M125.3 97.0L129.8 96.2M129.8 96.2L134.4 95.6M134.4 95.6L139.0 95.1M139.0 95.1L143.5 94.6M143.5 94.6L148.1 94.5M166.3 95.1L170.9 95.2M170.9 95.2L175.5 95.0M175.5 95.0L180.0 95.7M180.0 95.7L184.6 96.8M184.6 96.8L189.2 98.7M189.2 98.7L193.7 101.0M193.7 101.0L198.3 104.2M522.3 247.6L526.9 247.6M526.9 247.6L531.5 247.2M531.5 247.2L536.0 246.6M540.6 246.0L545.2 245.4M545.2 245.4L549.7 244.8M549.7 244.8L554.3 244.1M554.3 244.1L558.8 243.5M558.8 243.5L563.4 242.1M563.4 242.1L568.0 240.9M568.0 240.9L572.5 239.9M572.5 239.9L577.1 238.5M577.1 238.5L581.7 236.1M581.7 236.1L586.2 233.9M586.2 233.9L590.8 231.6M590.8 231.6L595.4 229.3M595.4 229.3L599.9 227.1M599.9 227.1L604.5 226.2M604.5 226.2L609.1 226.9M609.1 226.9L613.6 227.0M613.6 227.0L618.2 227.1M618.2 227.1L622.7 227.0M622.7 227.0L627.3 226.9M627.3 226.9L631.9 226.8M631.9 226.8L636.4 226.7M636.4 226.7L641.0 226.5M641.0 226.5L645.6 226.0M645.6 226.0L650.1 225.9M650.1 225.9L654.7 222.3M654.7 222.3L659.3 220.8M659.3 220.8L663.8 219.1M663.8 219.1L668.4 217.2M668.4 217.2L672.9 215.2M672.9 215.2L677.5 213.4M677.5 213.4L682.1 211.8M682.1 211.8L686.6 211.0M686.6 211.0L691.2 210.4M691.2 210.4L695.8 210.1M718.6 210.7L723.2 212.6M723.2 212.6L727.7 214.7M727.7 214.7L732.3 216.9M732.3 216.9L736.8 219.2M736.8 219.2L741.4 221.2M741.4 221.2L746.0 223.3M43.1 117.4L47.7 117.6M47.7 117.6L52.2 117.7M52.2 117.7L56.8 117.9M56.8 117.9L61.4 118.0M61.4 118.0L65.9 118.4M65.9 118.4L70.5 118.6M70.5 118.6L75.1 118.8M75.1 118.8L79.6 119.0M79.6 119.0L84.2 117.9M84.2 117.9L88.8 116.3M88.8 116.3L93.3 115.1M93.3 115.1L97.9 112.7M97.9 112.7L102.4 109.0M102.4 109.0L107.0 105.8M107.0 105.8L111.6 103.1M111.6 103.1L116.1 101.0M116.1 101.0L120.7 99.6M120.7 99.6L125.3 98.2M125.3 98.2L129.8 97.4M129.8 97.4L134.4 96.7M134.4 96.7L139.0 96.2M139.0 96.2L143.5 95.7M143.5 95.7L148.1 95.6M166.3 95.8L170.9 95.8M170.9 95.8L175.5 95.4M175.5 95.4L180.0 96.1M180.0 96.1L184.6 97.2M184.6 97.2L189.2 98.9M189.2 98.9L193.7 101.1M193.7 101.1L198.3 104.1M522.3 246.8L526.9 246.9M526.9 246.9L531.5 246.6M531.5 246.6L536.0 246.0M540.6 245.4L545.2 244.9M545.2 244.9L549.7 244.4M549.7 244.4L554.3 243.8M554.3 243.8L558.8 243.2M558.8 243.2L563.4 241.9M563.4 241.9L568.0 240.9M568.0 240.9L572.5 240.0M572.5 240.0L577.1 238.7M577.1 238.7L581.7 236.5M581.7 236.5L586.2 234.4M586.2 234.4L590.8 232.3M590.8 232.3L595.4 230.2M595.4 230.2L599.9 228.1M599.9 228.1L604.5 227.2M604.5 227.2L609.1 227.8M609.1 227.8L613.6 227.7M613.6 227.7L618.2 227.8M618.2 227.8L622.7 227.7M622.7 227.7L627.3 227.6M627.3 227.6L631.9 227.4M631.9 227.4L636.4 227.3M636.4 227.3L641.0 227.1M641.0 227.1L645.6 226.6M645.6 226.6L650.1 226.6M650.1 226.6L654.7 223.3M654.7 223.3L659.3 221.7M659.3 221.7L663.8 220.1M663.8 220.1L668.4 218.2M668.4 218.2L672.9 216.4M672.9 216.4L677.5 214.7M677.5 214.7L682.1 213.2M682.1 213.2L686.6 212.4M686.6 212.4L691.2 211.7M691.2 211.7L695.8 211.3M718.6 211.8L723.2 213.4M723.2 213.4L727.7 215.3M727.7 215.3L732.3 217.3M732.3 217.3L736.8 219.4M736.8 219.4L741.4 221.2M741.4 221.2L746.0 223.2M43.1 117.1L47.7 117.2M47.7 117.2L52.2 117.3M52.2 117.3L56.8 117.5M56.8 117.5L61.4 117.7M61.4 117.7L65.9 118.1M65.9 118.1L70.5 118.3M70.5 118.3L75.1 118.5M75.1 118.5L79.6 118.6M79.6 118.6L84.2 117.7M84.2 117.7L88.8 116.1M88.8 116.1L93.3 115.0M93.3 115.0L97.9 112.8M97.9 112.8L102.4 109.4M102.4 109.4L107.0 106.4M107.0 106.4L111.6 103.9M111.6 103.9L116.1 101.9M116.1 101.9L120.7 100.5M120.7 100.5L125.3 99.2M125.3 99.2L129.8 98.4M129.8 98.4L134.4 97.7M134.4 97.7L139.0 97.2M139.0 97.2L143.5 96.7M143.5 96.7L148.1 96.5M166.3 96.5L170.9 96.4M170.9 96.4L175.5 95.8M175.5 95.8L180.0 96.5M180.0 96.5L184.6 97.6M184.6 97.6L189.2 99.2M189.2 99.2L193.7 101.3M193.7 101.3L198.3 104.1M522.3 245.8L526.9 245.9M526.9 245.9L531.5 245.7M531.5 245.7L536.0 245.2M540.6 244.6L545.2 244.2M545.2 244.2L549.7 243.8M549.7 243.8L554.3 243.2M554.3 243.2L558.8 242.8M558.8 242.8L563.4 241.6M563.4 241.6L568.0 240.6M568.0 240.6L572.5 239.8M572.5 239.8L577.1 238.6M577.1 238.6L581.7 236.6M581.7 236.6L586.2 234.7M586.2 234.7L590.8 232.7M590.8 232.7L595.4 230.8M595.4 230.8L599.9 228.8M599.9 228.8L604.5 228.0M604.5 228.0L609.1 228.4M609.1 228.4L613.6 228.3M613.6 228.3L618.2 228.4M618.2 228.4L622.7 228.3M622.7 228.3L627.3 228.1M627.3 228.1L631.9 227.9M631.9 227.9L636.4 227.8M636.4 227.8L641.0 227.6M641.0 227.6L645.6 227.1M645.6 227.1L650.1 227.1M650.1 227.1L654.7 224.0M654.7 224.0L659.3 222.5M659.3 222.5L663.8 220.9M663.8 220.9L668.4 219.1M668.4 219.1L672.9 217.4M672.9 217.4L677.5 215.9M677.5 215.9L682.1 214.4M682.1 214.4L686.6 213.6M686.6 213.6L691.2 212.9M691.2 212.9L695.8 212.5M718.6 212.7L723.2 214.2M723.2 214.2L727.7 215.9M727.7 215.9L732.3 217.8M732.3 217.8L736.8 219.7M736.8 219.7L741.4 221.3M741.4 221.3L746.0 223.2M43.1 116.7L47.7 116.8M47.7 116.8L52.2 117.0M52.2 117.0L56.8 117.2M56.8 117.2L61.4 117.3M61.4 117.3L65.9 117.7M65.9 117.7L70.5 117.9M70.5 117.9L75.1 118.1M75.1 118.1L79.6 118.2M79.6 118.2L84.2 117.4M84.2 117.4L88.8 115.9M88.8 115.9L93.3 114.8M93.3 114.8L97.9 112.8M97.9 112.8L102.4 109.6M102.4 109.6L107.0 106.9M107.0 106.9L111.6 104.6M111.6 104.6L116.1 102.7M116.1 102.7L120.7 101.3M120.7 101.3L125.3 100.0M125.3 100.0L129.8 99.2M129.8 99.2L134.4 98.6M134.4 98.6L139.0 98.1M139.0 98.1L143.5 97.6M143.5 97.6L148.1 97.3M166.3 97.0L170.9 96.8M170.9 96.8L175.5 96.2M175.5 96.2L180.0 96.9M180.0 96.9L184.6 98.0M184.6 98.0L189.2 99.5M189.2 99.5L193.7 101.5M193.7 101.5L198.3 104.2M522.3 244.6L526.9 244.8M526.9 244.8L531.5 244.6M531.5 244.6L536.0 244.2M540.6 243.7L545.2 243.4M545.2 243.4L549.7 243.0M549.7 243.0L554.3 242.5M554.3 242.5L558.8 242.1M558.8 242.1L563.4 241.0M563.4 241.0L568.0 240.1M568.0 240.1L572.5 239.4M572.5 239.4L577.1 238.4M577.1 238.4L581.7 236.5M581.7 236.5L586.2 234.7M586.2 234.7L590.8 232.9M590.8 232.9L595.4 231.1M595.4 231.1L599.9 229.3M599.9 229.3L604.5 228.5M604.5 228.5L609.1 228.9M609.1 228.9L613.6 228.7M613.6 228.7L618.2 228.8M618.2 228.8L622.7 228.6M622.7 228.6L627.3 228.5M627.3 228.5L631.9 228.3M631.9 228.3L636.4 228.2M636.4 228.2L641.0 228.0M641.0 228.0L645.6 227.5M645.6 227.5L650.1 227.5M650.1 227.5L654.7 224.6M654.7 224.6L659.3 223.2M659.3 223.2L663.8 221.6M663.8 221.6L668.4 219.9M668.4 219.9L672.9 218.2M672.9 218.2L677.5 216.8M677.5 216.8L682.1 215.5M682.1 215.5L686.6 214.7M686.6 214.7L691.2 213.9M691.2 213.9L695.8 213.5M718.6 213.6L723.2 214.9M723.2 214.9L727.7 216.5M727.7 216.5L732.3 218.2M732.3 218.2L736.8 220.0M736.8 220.0L741.4 221.5M741.4 221.5L746.0 223.2M43.1 116.3L47.7 116.4M47.7 116.4L52.2 116.6M52.2 116.6L56.8 116.8M56.8 116.8L61.4 117.0M61.4 117.0L65.9 117.3M65.9 117.3L70.5 117.5M70.5 117.5L75.1 117.7M75.1 117.7L79.6 117.9M79.6 117.9L84.2 117.1M84.2 117.1L88.8 115.7M88.8 115.7L93.3 114.7M93.3 114.7L97.9 112.7M97.9 112.7L102.4 109.8M102.4 109.8L107.0 107.3M107.0 107.3L111.6 105.1M111.6 105.1L116.1 103.3M116.1 103.3L120.7 102.0M120.7 102.0L125.3 100.7M125.3 100.7L129.8 100.0M129.8 100.0L134.4 99.3M134.4 99.3L139.0 98.8M139.0 98.8L143.5 98.3M143.5 98.3L148.1 98.0M166.3 97.5L170.9 97.3M170.9 97.3L175.5 96.5M175.5 96.5L180.0 97.2M180.0 97.2L184.6 98.3M184.6 98.3L189.2 99.8M189.2 99.8L193.7 101.7M193.7 101.7L198.3 104.3M522.3 243.2L526.9 243.5M526.9 243.5L531.5 243.4M531.5 243.4L536.0 243.0M540.6 242.6L545.2 242.3M545.2 242.3L549.7 242.1M549.7 242.1L554.3 241.6M554.3 241.6L558.8 241.3M558.8 241.3L563.4 240.3M563.4 240.3L568.0 239.5M568.0 239.5L572.5 238.9M572.5 238.9L577.1 237.9M577.1 237.9L581.7 236.1M581.7 236.1L586.2 234.6M586.2 234.6L590.8 232.9M590.8 232.9L595.4 231.2M595.4 231.2L599.9 229.6M599.9 229.6L604.5 228.8M604.5 228.8L609.1 229.1M609.1 229.1L613.6 229.0M613.6 229.0L618.2 229.0M618.2 229.0L622.7 228.8M622.7 228.8L627.3 228.7M627.3 228.7L631.9 228.5M631.9 228.5L636.4 228.4M636.4 228.4L641.0 228.2M641.0 228.2L645.6 227.7M645.6 227.7L650.1 227.8M650.1 227.8L654.7 225.0M654.7 225.0L659.3 223.7M659.3 223.7L663.8 222.1M663.8 222.1L668.4 220.5M668.4 220.5L672.9 219.0M672.9 219.0L677.5 217.6M677.5 217.6L682.1 216.4M682.1 216.4L686.6 215.5M686.6 215.5L691.2 214.7M691.2 214.7L695.8 214.3M718.6 214.4L723.2 215.5M723.2 215.5L727.7 217.0M727.7 217.0L732.3 218.6M732.3 218.6L736.8 220.2M736.8 220.2L741.4 221.7M741.4 221.7L746.0 223.3M43.1 116.0L47.7 116.1M47.7 116.1L52.2 116.3M52.2 116.3L56.8 116.5M56.8 116.5L61.4 116.6M61.4 116.6L65.9 117.0M65.9 117.0L70.5 117.1M70.5 117.1L75.1 117.3M75.1 117.3L79.6 117.5M79.6 117.5L84.2 116.9M84.2 116.9L88.8 115.5M88.8 115.5L93.3 114.4M93.3 114.4L97.9 112.6M97.9 112.6L102.4 109.9M102.4 109.9L107.0 107.6M107.0 107.6L111.6 105.5M111.6 105.5L116.1 103.8M116.1 103.8L120.7 102.5M120.7 102.5L125.3 101.4M125.3 101.4L129.8 100.6M129.8 100.6L134.4 99.9M134.4 99.9L139.0 99.4M139.0 99.4L143.5 99.0M143.5 99.0L148.1 98.6M166.3 97.9L170.9 97.6M170.9 97.6L175.5 96.9M175.5 96.9L180.0 97.5M180.0 97.5L184.6 98.6M184.6 98.6L189.2 100.0M189.2 100.0L193.7 101.8M193.7 101.8L198.3 104.4M522.3 241.8L526.9 242.1M526.9 242.1L531.5 242.0M531.5 242.0L536.0 241.7M540.6 241.4L545.2 241.2M545.2 241.2L549.7 241.0M549.7 241.0L554.3 240.6M554.3 240.6L558.8 240.3M558.8 240.3L563.4 239.4M563.4 239.4L568.0 238.7M568.0 238.7L572.5 238.2M572.5 238.2L577.1 237.3M577.1 237.3L581.7 235.7M581.7 235.7L586.2 234.2M586.2 234.2L590.8 232.6M590.8 232.6L595.4 231.1M595.4 231.1L599.9 229.6M599.9 229.6L604.5 228.9M604.5 228.9L609.1 229.2M609.1 229.2L613.6 229.0M613.6 229.0L618.2 229.0M618.2 229.0L622.7 228.9M622.7 228.9L627.3 228.8M627.3 228.8L631.9 228.6M631.9 228.6L636.4 228.4M636.4 228.4L641.0 228.3M641.0 228.3L645.6 227.8M645.6 227.8L650.1 227.9M650.1 227.9L654.7 225.3M654.7 225.3L659.3 224.0M659.3 224.0L663.8 222.5M663.8 222.5L668.4 221.0M668.4 221.0L672.9 219.5M672.9 219.5L677.5 218.3M677.5 218.3L682.1 217.1M682.1 217.1L686.6 216.3M686.6 216.3L691.2 215.4M691.2 215.4L695.8 215.0M718.6 215.1L723.2 216.1M723.2 216.1L727.7 217.4M727.7 217.4L732.3 219.0M732.3 219.0L736.8 220.5M736.8 220.5L741.4 221.8M741.4 221.8L746.0 223.3M43.1 115.6L47.7 115.7M47.7 115.7L52.2 115.9M52.2 115.9L56.8 116.1M56.8 116.1L61.4 116.3M61.4 116.3L65.9 116.6M65.9 116.6L70.5 116.8M70.5 116.8L75.1 117.0M75.1 117.0L79.6 117.1M79.6 117.1L84.2 116.6M84.2 116.6L88.8 115.2M88.8 115.2L93.3 114.2M93.3 114.2L97.9 112.5M97.9 112.5L102.4 109.9M102.4 109.9L107.0 107.8M107.0 107.8L111.6 105.8M111.6 105.8L116.1 104.2M116.1 104.2L120.7 103.0M120.7 103.0L125.3 101.9M125.3 101.9L129.8 101.1M129.8 101.1L134.4 100.5M134.4 100.5L139.0 100.0M139.0 100.0L143.5 99.5M143.5 99.5L148.1 99.1M166.3 98.3L170.9 97.9M170.9 97.9L175.5 97.1M175.5 97.1L180.0 97.7M180.0 97.7L184.6 98.8M184.6 98.8L189.2 100.2M189.2 100.2L193.7 102.0M193.7 102.0L198.3 104.5M522.3 240.2L526.9 240.6M526.9 240.6L531.5 240.6M531.5 240.6L536.0 240.4M540.6 240.1L545.2 240.0M545.2 240.0L549.7 239.8M549.7 239.8L554.3 239.5M554.3 239.5L558.8 239.2M558.8 239.2L563.4 238.4M563.4 238.4L568.0 237.8M568.0 237.8L572.5 237.3M572.5 237.3L577.1 236.5M577.1 236.5L581.7 235.0M581.7 235.0L586.2 233.7M586.2 233.7L590.8 232.3M590.8 232.3L595.4 230.9M595.4 230.9L599.9 229.5M599.9 229.5L604.5 228.8M604.5 228.8L609.1 229.1M609.1 229.1L613.6 228.9M613.6 228.9L618.2 228.9M618.2 228.9L622.7 228.8M622.7 228.8L627.3 228.7M627.3 228.7L631.9 228.5M631.9 228.5L636.4 228.4M636.4 228.4L641.0 228.2M641.0 228.2L645.6 227.8M645.6 227.8L650.1 227.9M650.1 227.9L654.7 225.5M654.7 225.5L659.3 224.2M659.3 224.2L663.8 222.8M663.8 222.8L668.4 221.3M668.4 221.3L672.9 220.0M672.9 220.0L677.5 218.8M677.5 218.8L682.1 217.7M682.1 217.7L686.6 216.8M686.6 216.8L691.2 215.9M691.2 215.9L695.8 215.6M718.6 215.7L723.2 216.6M723.2 216.6L727.7 217.8M727.7 217.8L732.3 219.2M732.3 219.2L736.8 220.7M736.8 220.7L741.4 222.0M741.4 222.0L746.0 223.4M43.1 115.3L47.7 115.4M47.7 115.4L52.2 115.5M52.2 115.5L56.8 115.7M56.8 115.7L61.4 115.9M61.4 115.9L65.9 116.2M65.9 116.2L70.5 116.4M70.5 116.4L75.1 116.6M75.1 116.6L79.6 116.8M79.6 116.8L84.2 116.3M84.2 116.3L88.8 114.9M88.8 114.9L93.3 113.9M93.3 113.9L97.9 112.3M97.9 112.3L102.4 109.9M102.4 109.9L107.0 107.9M107.0 107.9L111.6 106.1M111.6 106.1L116.1 104.5M116.1 104.5L120.7 103.4M120.7 103.4L125.3 102.3M125.3 102.3L129.8 101.6M129.8 101.6L134.4 101.0M134.4 101.0L139.0 100.5M139.0 100.5L143.5 100.0M143.5 100.0L148.1 99.6M166.3 98.5L170.9 98.1M170.9 98.1L175.5 97.4M175.5 97.4L180.0 97.9M180.0 97.9L184.6 99.1M184.6 99.1L189.2 100.4M189.2 100.4L193.7 102.1M193.7 102.1L198.3 104.5M522.3 238.6L526.9 239.0M526.9 239.0L531.5 239.0M531.5 239.0L536.0 238.9M540.6 238.7L545.2 238.6M545.2 238.6L549.7 238.6M549.7 238.6L554.3 238.3M554.3 238.3L558.8 238.0M558.8 238.0L563.4 237.3M563.4 237.3L568.0 236.7M568.0 236.7L572.5 236.3M572.5 236.3L577.1 235.6M577.1 235.6L581.7 234.2M581.7 234.2L586.2 233.0M586.2 233.0L590.8 231.7M590.8 231.7L595.4 230.5M595.4 230.5L599.9 229.2M599.9 229.2L604.5 228.6M604.5 228.6L609.1 228.8M609.1 228.8L613.6 228.7M613.6 228.7L618.2 228.7M618.2 228.7L622.7 228.6M622.7 228.6L627.3 228.5M627.3 228.5L631.9 228.3M631.9 228.3L636.4 228.2M636.4 228.2L641.0 228.0M641.0 228.0L645.6 227.7M645.6 227.7L650.1 227.8M650.1 227.8L654.7 225.5M654.7 225.5L659.3 224.2M659.3 224.2L663.8 222.9M663.8 222.9L668.4 221.6M668.4 221.6L672.9 220.3M672.9 220.3L677.5 219.2M677.5 219.2L682.1 218.1M682.1 218.1L686.6 217.2M686.6 217.2L691.2 216.4M691.2 216.4L695.8 216.0M718.6 216.2L723.2 217.0M723.2 217.0L727.7 218.1M727.7 218.1L732.3 219.5M732.3 219.5L736.8 220.9M736.8 220.9L741.4 222.1M741.4 222.1L746.0 223.4M43.1 114.9L47.7 115.0M47.7 115.0L52.2 115.2M52.2 115.2L56.8 115.4M56.8 115.4L61.4 115.6M61.4 115.6L65.9 115.9M65.9 115.9L70.5 116.1M70.5 116.1L75.1 116.2M75.1 116.2L79.6 116.4M79.6 116.4L84.2 115.9M84.2 115.9L88.8 114.7M88.8 114.7L93.3 113.6M93.3 113.6L97.9 112.1M97.9 112.1L102.4 109.8M102.4 109.8L107.0 108.0M107.0 108.0L111.6 106.2M111.6 106.2L116.1 104.8M116.1 104.8L120.7 103.7M120.7 103.7L125.3 102.7M125.3 102.7L129.8 102.0M129.8 102.0L134.4 101.4M134.4 101.4L139.0 100.9M139.0 100.9L143.5 100.4M143.5 100.4L148.1 99.9M166.3 98.7L170.9 98.3M170.9 98.3L175.5 97.6M175.5 97.6L180.0 98.1M180.0 98.1L184.6 99.2M184.6 99.2L189.2 100.5M189.2 100.5L193.7 102.2M193.7 102.2L198.3 104.6M522.3 236.9L526.9 237.3M526.9 237.3L531.5 237.4M531.5 237.4L536.0 237.3M540.6 237.2L545.2 237.3M545.2 237.3L549.7 237.3M549.7 237.3L554.3 237.0M554.3 237.0L558.8 236.8M558.8 236.8L563.4 236.1M563.4 236.1L568.0 235.6M568.0 235.6L572.5 235.2M572.5 235.2L577.1 234.6M577.1 234.6L581.7 233.4M581.7 233.4L586.2 232.3M586.2 232.3L590.8 231.1M590.8 231.1L595.4 229.9M595.4 229.9L599.9 228.8M599.9 228.8L604.5 228.2M604.5 228.2L609.1 228.4M609.1 228.4L613.6 228.3M613.6 228.3L618.2 228.3M618.2 228.3L622.7 228.3M622.7 228.3L627.3 228.2M627.3 228.2L631.9 228.1M631.9 228.1L636.4 227.9M636.4 227.9L641.0 227.8M641.0 227.8L645.6 227.4M645.6 227.4L650.1 227.5M650.1 227.5L654.7 225.4M654.7 225.4L659.3 224.2M659.3 224.2L663.8 222.9M663.8 222.9L668.4 221.7M668.4 221.7L672.9 220.5M672.9 220.5L677.5 219.4M677.5 219.4L682.1 218.4M682.1 218.4L686.6 217.5M686.6 217.5L691.2 216.6M691.2 216.6L695.8 216.3M718.6 216.5L723.2 217.3M723.2 217.3L727.7 218.3M727.7 218.3L732.3 219.6M732.3 219.6L736.8 221.0M736.8 221.0L741.4 222.1M741.4 222.1L746.0 223.4M43.1 114.5L47.7 114.7M47.7 114.7L52.2 114.8M52.2 114.8L56.8 115.0M56.8 115.0L61.4 115.2M61.4 115.2L65.9 115.5M65.9 115.5L70.5 115.7M70.5 115.7L75.1 115.9M75.1 115.9L79.6 116.1M79.6 116.1L84.2 115.6M84.2 115.6L88.8 114.4M88.8 114.4L93.3 113.3M93.3 113.3L97.9 111.8M97.9 111.8L102.4 109.7M102.4 109.7L107.0 108.0M107.0 108.0L111.6 106.4M111.6 106.4L116.1 105.0M116.1 105.0L120.7 104.0M120.7 104.0L125.3 103.0M125.3 103.0L129.8 102.3M129.8 102.3L134.4 101.7M134.4 101.7L139.0 101.2M139.0 101.2L143.5 100.7M143.5 100.7L148.1 100.2M166.3 98.9L170.9 98.5M170.9 98.5L175.5 97.8M175.5 97.8L180.0 98.3M180.0 98.3L184.6 99.4M184.6 99.4L189.2 100.6M189.2 100.6L193.7 102.3M193.7 102.3L198.3 104.7M522.3 235.1L526.9 235.6M526.9 235.6L531.5 235.7M531.5 235.7L536.0 235.7M540.6 235.7L545.2 235.8M545.2 235.8L549.7 235.9M549.7 235.9L554.3 235.7M554.3 235.7L558.8 235.4M558.8 235.4L563.4 234.8M563.4 234.8L568.0 234.4M568.0 234.4L572.5 234.0M572.5 234.0L577.1 233.5M577.1 233.5L581.7 232.4M581.7 232.4L586.2 231.4M586.2 231.4L590.8 230.3M590.8 230.3L595.4 229.3M595.4 229.3L599.9 228.3M599.9 228.3L604.5 227.8M604.5 227.8L609.1 227.9M609.1 227.9L613.6 227.9M613.6 227.9L618.2 227.9M618.2 227.9L622.7 227.8M622.7 227.8L627.3 227.8M627.3 227.8L631.9 227.7M631.9 227.7L636.4 227.5M636.4 227.5L641.0 227.4M641.0 227.4L645.6 227.1M645.6 227.1L650.1 227.1M650.1 227.1L654.7 225.2M654.7 225.2L659.3 224.0M659.3 224.0L663.8 222.9M663.8 222.9L668.4 221.7M668.4 221.7L672.9 220.6M672.9 220.6L677.5 219.6M677.5 219.6L682.1 218.6M682.1 218.6L686.6 217.7M686.6 217.7L691.2 216.8M691.2 216.8L695.8 216.5M718.6 216.8L723.2 217.5M723.2 217.5L727.7 218.4M727.7 218.4L732.3 219.7M732.3 219.7L736.8 221.0M736.8 221.0L741.4 222.2M741.4 222.2L746.0 223.3M43.1 114.2L47.7 114.3M47.7 114.3L52.2 114.5M52.2 114.5L56.8 114.7M56.8 114.7L61.4 114.9M61.4 114.9L65.9 115.1M65.9 115.1L70.5 115.3M70.5 115.3L75.1 115.5M75.1 115.5L79.6 115.7M79.6 115.7L84.2 115.3M84.2 115.3L88.8 114.1M88.8 114.1L93.3 113.0M93.3 113.0L97.9 111.5M97.9 111.5L102.4 109.6M102.4 109.6L107.0 108.0M107.0 108.0L111.6 106.4M111.6 106.4L116.1 105.1M116.1 105.1L120.7 104.2M120.7 104.2L125.3 103.3M125.3 103.3L129.8 102.6M129.8 102.6L134.4 102.0M134.4 102.0L139.0 101.5M139.0 101.5L143.5 101.0M143.5 101.0L148.1 100.5M166.3 99.0L170.9 98.6M170.9 98.6L175.5 97.9M175.5 97.9L180.0 98.4M180.0 98.4L184.6 99.5M184.6 99.5L189.2 100.7M189.2 100.7L193.7 102.4M193.7 102.4L198.3 104.8M522.3 233.4L526.9 233.8M526.9 233.8L531.5 234.0M531.5 234.0L536.0 234.1M540.6 234.1L545.2 234.3M545.2 234.3L549.7 234.4M549.7 234.4L554.3 234.2M554.3 234.2L558.8 234.0M558.8 234.0L563.4 233.5M563.4 233.5L568.0 233.1M568.0 233.1L572.5 232.8M572.5 232.8L577.1 232.3M577.1 232.3L581.7 231.3M581.7 231.3L586.2 230.4M586.2 230.4L590.8 229.5M590.8 229.5L595.4 228.6M595.4 228.6L599.9 227.6M599.9 227.6L604.5 227.2M604.5 227.2L609.1 227.4M609.1 227.4L613.6 227.3M613.6 227.3L618.2 227.3M618.2 227.3L622.7 227.3M622.7 227.3L627.3 227.3M627.3 227.3L631.9 227.2M631.9 227.2L636.4 227.1M636.4 227.1L641.0 226.9M641.0 226.9L645.6 226.6M645.6 226.6L650.1 226.7M650.1 226.7L654.7 224.9M654.7 224.9L659.3 223.7M659.3 223.7L663.8 222.7M663.8 222.7L668.4 221.6M668.4 221.6L672.9 220.6M672.9 220.6L677.5 219.6M677.5 219.6L682.1 218.6M682.1 218.6L686.6 217.7M686.6 217.7L691.2 216.8M691.2 216.8L695.8 216.6M718.6 217.0L723.2 217.6M723.2 217.6L727.7 218.5M727.7 218.5L732.3 219.7M732.3 219.7L736.8 221.0M736.8 221.0L741.4 222.1M741.4 222.1L746.0 223.2M43.1 113.8L47.7 114.0M47.7 114.0L52.2 114.1M52.2 114.1L56.8 114.3M56.8 114.3L61.4 114.5M61.4 114.5L65.9 114.8M65.9 114.8L70.5 115.0M70.5 115.0L75.1 115.1M75.1 115.1L79.6 115.3M79.6 115.3L84.2 115.0M84.2 115.0L88.8 113.8M88.8 113.8L93.3 112.7M93.3 112.7L97.9 111.2M97.9 111.2L102.4 109.5M102.4 109.5L107.0 107.9M107.0 107.9L111.6 106.5M111.6 106.5L116.1 105.2M116.1 105.2L120.7 104.3M120.7 104.3L125.3 103.5M125.3 103.5L129.8 102.8M129.8 102.8L134.4 102.2M134.4 102.2L139.0 101.7M139.0 101.7L143.5 101.2M143.5 101.2L148.1 100.7M166.3 99.0L170.9 98.6M170.9 98.6L175.5 98.0M175.5 98.0L180.0 98.4M180.0 98.4L184.6 99.6M184.6 99.6L189.2 100.8M189.2 100.8L193.7 102.4M193.7 102.4L198.3 104.8M522.3 231.6L526.9 232.0M526.9 232.0L531.5 232.3M531.5 232.3L536.0 232.4M540.6 232.6L545.2 232.8M545.2 232.8L549.7 233.0M549.7 233.0L554.3 232.8M554.3 232.8L558.8 232.6M558.8 232.6L563.4 232.1M563.4 232.1L568.0 231.8M568.0 231.8L572.5 231.5M572.5 231.5L577.1 231.0M577.1 231.0L581.7 230.2M581.7 230.2L586.2 229.4M586.2 229.4L590.8 228.6M590.8 228.6L595.4 227.7M595.4 227.7L599.9 226.9M599.9 226.9L604.5 226.5M604.5 226.5L609.1 226.7M609.1 226.7L613.6 226.7M613.6 226.7L618.2 226.7M618.2 226.7L622.7 226.7M622.7 226.7L627.3 226.8M627.3 226.8L631.9 226.6M631.9 226.6L636.4 226.5M636.4 226.5L641.0 226.4M641.0 226.4L645.6 226.1M645.6 226.1L650.1 226.1M650.1 226.1L654.7 224.4M654.7 224.4L659.3 223.3M659.3 223.3L663.8 222.4M663.8 222.4L668.4 221.4M668.4 221.4L672.9 220.5M672.9 220.5L677.5 219.5M677.5 219.5L682.1 218.6M682.1 218.6L686.6 217.7M686.6 217.7L691.2 216.8M691.2 216.8L695.8 216.5M718.6 217.1L723.2 217.6M723.2 217.6L727.7 218.5M727.7 218.5L732.3 219.7M732.3 219.7L736.8 220.9M736.8 220.9L741.4 222.0M741.4 222.0L746.0 223.1" stroke="#9a9a9a" stroke-width="0.8" fill="none" stroke-linecap="round"/>
<path d="M148.1 90.4L152.7 90.6M152.7 90.6L157.2 90.9M157.2 90.9L161.8 91.2M161.8 91.2L166.3 92.1M695.8 205.4L700.3 205.1M700.3 205.1L704.9 205.1M704.9 205.1L709.5 205.2M709.5 205.2L714.0 206.2M714.0 206.2L718.6 207.5M148.1 92.0L152.7 92.2M152.7 92.2L157.2 92.4M157.2 92.4L161.8 92.7M161.8 92.7L166.3 93.3M695.8 207.1L700.3 206.9M700.3 206.9L704.9 206.7M704.9 206.7L709.5 206.5M709.5 206.5L714.0 207.4M714.0 207.4L718.6 208.5M148.1 93.3L152.7 93.4M152.7 93.4L157.2 93.6M157.2 93.6L161.8 93.7M161.8 93.7L166.3 94.2M695.8 208.6L700.3 208.5M700.3 208.5L704.9 208.1M704.9 208.1L709.5 207.9M709.5 207.9L714.0 208.6M714.0 208.6L718.6 209.6M148.1 94.5L152.7 94.6M152.7 94.6L157.2 94.6M157.2 94.6L161.8 94.7M161.8 94.7L166.3 95.1M695.8 210.1L700.3 210.0M700.3 210.0L704.9 209.5M704.9 209.5L709.5 209.2M709.5 209.2L714.0 209.8M714.0 209.8L718.6 210.7M148.1 95.6L152.7 95.5M152.7 95.5L157.2 95.6M157.2 95.6L161.8 95.6M161.8 95.6L166.3 95.8M695.8 211.3L700.3 211.3M700.3 211.3L704.9 210.7M704.9 210.7L709.5 210.4M709.5 210.4L714.0 210.9M714.0 210.9L718.6 211.8M148.1 96.5L152.7 96.4M152.7 96.4L157.2 96.4M157.2 96.4L161.8 96.3M161.8 96.3L166.3 96.5M695.8 212.5L700.3 212.4M700.3 212.4L704.9 211.9M704.9 211.9L709.5 211.5M709.5 211.5L714.0 212.0M714.0 212.0L718.6 212.7M148.1 97.3L152.7 97.2M152.7 97.2L157.2 97.1M157.2 97.1L161.8 97.0M161.8 97.0L166.3 97.0M695.8 213.5L700.3 213.4M700.3 213.4L704.9 212.9M704.9 212.9L709.5 212.5M709.5 212.5L714.0 212.9M714.0 212.9L718.6 213.6M148.1 98.0L152.7 97.8M152.7 97.8L157.2 97.7M157.2 97.7L161.8 97.5M161.8 97.5L166.3 97.5M695.8 214.3L700.3 214.3M700.3 214.3L704.9 213.7M704.9 213.7L709.5 213.4M709.5 213.4L714.0 213.8M714.0 213.8L718.6 214.4M148.1 98.6L152.7 98.4M152.7 98.4L157.2 98.2M157.2 98.2L161.8 98.0M161.8 98.0L166.3 97.9M695.8 215.0L700.3 215.0M700.3 215.0L704.9 214.5M704.9 214.5L709.5 214.1M709.5 214.1L714.0 214.5M714.0 214.5L718.6 215.1M148.1 99.1L152.7 98.8M152.7 98.8L157.2 98.6M157.2 98.6L161.8 98.4M161.8 98.4L166.3 98.3M695.8 215.6L700.3 215.6M700.3 215.6L704.9 215.1M704.9 215.1L709.5 214.8M709.5 214.8L714.0 215.1M714.0 215.1L718.6 215.7M148.1 99.6L152.7 99.2M152.7 99.2L157.2 99.0M157.2 99.0L161.8 98.7M161.8 98.7L166.3 98.5M695.8 216.0L700.3 216.0M700.3 216.0L704.9 215.5M704.9 215.5L709.5 215.3M709.5 215.3L714.0 215.6M714.0 215.6L718.6 216.2M148.1 99.9L152.7 99.6M152.7 99.6L157.2 99.3M157.2 99.3L161.8 98.9M161.8 98.9L166.3 98.7M695.8 216.3L700.3 216.3M700.3 216.3L704.9 215.9M704.9 215.9L709.5 215.7M709.5 215.7L714.0 216.0M714.0 216.0L718.6 216.5M148.1 100.2L152.7 99.8M152.7 99.8L157.2 99.5M157.2 99.5L161.8 99.1M161.8 99.1L166.3 98.9M695.8 216.5L700.3 216.5M700.3 216.5L704.9 216.1M704.9 216.1L709.5 215.9M709.5 215.9L714.0 216.3M714.0 216.3L718.6 216.8M148.1 100.5L152.7 100.0M152.7 100.0L157.2 99.7M157.2 99.7L161.8 99.3M161.8 99.3L166.3 99.0M695.8 216.6L700.3 216.6M700.3 216.6L704.9 216.3M704.9 216.3L709.5 216.1M709.5 216.1L714.0 216.5M714.0 216.5L718.6 217.0M148.1 100.7L152.7 100.2M152.7 100.2L157.2 99.8M157.2 99.8L161.8 99.4M161.8 99.4L166.3 99.0M695.8 216.5L700.3 216.5M700.3 216.5L704.9 216.3M704.9 216.3L709.5 216.2M709.5 216.2L714.0 216.6M714.0 216.6L718.6 217.1" stroke="#7be57b" stroke-width="1.0" fill="none" stroke-linecap="round"/>
<path d="M198.3 105.1L202.9 112.3M202.9 112.3L207.4 120.7M207.4 120.7L212.0 125.3M212.0 125.3L216.5 129.9M216.5 129.9L221.1 134.8M221.1 134.8L225.7 139.8M225.7 139.8L230.2 145.3M230.2 145.3L234.8 151.3M234.8 151.3L239.4 157.9M239.4 157.9L243.9 164.5M243.9 164.5L248.5 170.9M248.5 170.9L253.1 177.6M253.1 177.6L257.6 184.1M257.6 184.1L262.2 188.2M262.2 188.2L266.8 191.3M266.8 191.3L271.3 193.7M271.3 193.7L275.9 195.9M275.9 195.9L280.4 196.4M280.4 196.4L285.0 196.7M285.0 196.7L289.6 199.0M289.6 199.0L294.1 201.5M294.1 201.5L298.7 205.1M298.7 205.1L303.3 208.8M303.3 208.8L307.8 212.4M307.8 212.4L312.4 215.8M312.4 215.8L317.0 218.3M317.0 218.3L321.5 220.8M321.5 220.8L326.1 223.1M326.1 223.1L330.6 225.7M330.6 225.7L335.2 228.5M335.2 228.5L339.8 231.4M339.8 231.4L344.3 234.0M344.3 234.0L348.9 236.8M348.9 236.8L353.5 239.6M353.5 239.6L358.0 242.2M358.0 242.2L362.6 244.5M362.6 244.5L367.2 246.7M367.2 246.7L371.7 248.9M371.7 248.9L376.3 250.6M376.3 250.6L380.9 251.4M380.9 251.4L385.4 252.1M385.4 252.1L390.0 252.8M390.0 252.8L394.5 253.8M394.5 253.8L399.1 254.9M399.1 254.9L403.7 256.2M403.7 256.2L408.2 257.5M408.2 257.5L412.8 258.2M412.8 258.2L417.4 258.6M417.4 258.6L421.9 259.2M421.9 259.2L426.5 259.6M426.5 259.6L431.1 258.9M431.1 258.9L435.6 258.1M435.6 258.1L440.2 257.4M440.2 257.4L444.7 256.6M444.7 256.6L449.3 255.8M449.3 255.8L453.9 254.9M453.9 254.9L458.4 254.0M458.4 254.0L463.0 253.2M463.0 253.2L467.6 252.3M467.6 252.3L472.1 251.5M472.1 251.5L476.7 250.6M476.7 250.6L481.3 249.7M481.3 249.7L485.8 248.9M485.8 248.9L490.4 247.9M490.4 247.9L495.0 247.1M495.0 247.1L499.5 246.2M499.5 246.2L504.1 247.7M504.1 247.7L508.6 249.0M508.6 249.0L513.2 249.0M513.2 249.0L517.8 248.9M517.8 248.9L522.3 248.7M536.0 247.1L540.6 246.7M746.0 225.2L750.5 228.1M750.5 228.1L755.1 231.2M755.1 231.2L759.7 233.8M759.7 233.8L764.2 236.1M764.2 236.1L768.8 238.4M768.8 238.4L773.4 240.7M773.4 240.7L777.9 245.2M777.9 245.2L782.5 250.3M782.5 250.3L787.0 254.5M787.0 254.5L791.6 257.9M791.6 257.9L796.2 261.1M796.2 261.1L800.7 264.2M800.7 264.2L805.3 266.6M805.3 266.6L809.9 268.7M809.9 268.7L814.4 270.2M814.4 270.2L819.0 271.1M819.0 271.1L823.6 271.3M823.6 271.3L828.1 271.4M828.1 271.4L832.7 271.4M832.7 271.4L837.3 271.3M198.3 104.7L202.9 110.8M202.9 110.8L207.4 118.6M207.4 118.6L212.0 123.0M212.0 123.0L216.5 127.4M216.5 127.4L221.1 131.8M221.1 131.8L225.7 136.4M225.7 136.4L230.2 141.6M230.2 141.6L234.8 147.1M234.8 147.1L239.4 153.2M239.4 153.2L243.9 159.4M243.9 159.4L248.5 165.6M248.5 165.6L253.1 171.7M253.1 171.7L257.6 177.9M257.6 177.9L262.2 182.1M262.2 182.1L266.8 185.4M266.8 185.4L271.3 188.0M271.3 188.0L275.9 190.4M275.9 190.4L280.4 191.1M280.4 191.1L285.0 191.7M285.0 191.7L289.6 194.1M289.6 194.1L294.1 196.6M294.1 196.6L298.7 200.3M298.7 200.3L303.3 204.0M303.3 204.0L307.8 207.6M307.8 207.6L312.4 210.8M312.4 210.8L317.0 213.3M317.0 213.3L321.5 215.7M321.5 215.7L326.1 218.3M326.1 218.3L330.6 221.1M330.6 221.1L335.2 224.0M335.2 224.0L339.8 226.9M339.8 226.9L344.3 229.7M344.3 229.7L348.9 232.5M348.9 232.5L353.5 235.2M353.5 235.2L358.0 237.9M358.0 237.9L362.6 240.2M362.6 240.2L367.2 242.6M367.2 242.6L371.7 244.9M371.7 244.9L376.3 246.7M376.3 246.7L380.9 247.6M380.9 247.6L385.4 248.5M385.4 248.5L390.0 249.4M390.0 249.4L394.5 250.6M394.5 250.6L399.1 252.0M399.1 252.0L403.7 253.4M403.7 253.4L408.2 254.7M408.2 254.7L412.8 255.4M412.8 255.4L417.4 256.1M417.4 256.1L421.9 256.7M421.9 256.7L426.5 257.3M426.5 257.3L431.1 256.8M431.1 256.8L435.6 256.2M435.6 256.2L440.2 255.7M440.2 255.7L444.7 255.1M444.7 255.1L449.3 254.4M449.3 254.4L453.9 253.7M453.9 253.7L458.4 253.0M458.4 253.0L463.0 252.2M463.0 252.2L467.6 251.5M467.6 251.5L472.1 250.8M472.1 250.8L476.7 250.1M476.7 250.1L481.3 249.3M481.3 249.3L485.8 248.5M485.8 248.5L490.4 247.7M490.4 247.7L495.0 246.9M495.0 246.9L499.5 246.1M499.5 246.1L504.1 247.6M504.1 247.6L508.6 248.8M508.6 248.8L513.2 248.7M513.2 248.7L517.8 248.7M517.8 248.7L522.3 248.6M536.0 247.2L540.6 246.6M746.0 224.2L750.5 226.9M750.5 226.9L755.1 229.7M755.1 229.7L759.7 232.1M759.7 232.1L764.2 234.3M764.2 234.3L768.8 236.6M768.8 236.6L773.4 238.8M773.4 238.8L777.9 243.1M777.9 243.1L782.5 247.6M782.5 247.6L787.0 251.5M787.0 251.5L791.6 254.9M791.6 254.9L796.2 258.0M796.2 258.0L800.7 261.0M800.7 261.0L805.3 263.4M805.3 263.4L809.9 265.5M809.9 265.5L814.4 266.9M814.4 266.9L819.0 268.0M819.0 268.0L823.6 268.4M823.6 268.4L828.1 268.7M828.1 268.7L832.7 268.8M832.7 268.8L837.3 268.9M198.3 104.3L202.9 109.8M202.9 109.8L207.4 117.0M207.4 117.0L212.0 121.1M212.0 121.1L216.5 125.3M216.5 125.3L221.1 129.3M221.1 129.3L225.7 133.6M225.7 133.6L230.2 138.5M230.2 138.5L234.8 143.6M234.8 143.6L239.4 149.3M239.4 149.3L243.9 155.1M243.9 155.1L248.5 161.0M248.5 161.0L253.1 166.7M253.1 166.7L257.6 172.7M257.6 172.7L262.2 176.8M262.2 176.8L266.8 180.2M266.8 180.2L271.3 182.8M271.3 182.8L275.9 185.3M275.9 185.3L280.4 186.3M280.4 186.3L285.0 187.1M285.0 187.1L289.6 189.6M289.6 189.6L294.1 192.1M294.1 192.1L298.7 195.8M298.7 195.8L303.3 199.5M303.3 199.5L307.8 203.1M307.8 203.1L312.4 206.2M312.4 206.2L317.0 208.6M317.0 208.6L321.5 211.1M321.5 211.1L326.1 213.8M326.1 213.8L330.6 216.7M330.6 216.7L335.2 219.7M335.2 219.7L339.8 222.6M339.8 222.6L344.3 225.5M344.3 225.5L348.9 228.2M348.9 228.2L353.5 230.9M353.5 230.9L358.0 233.6M358.0 233.6L362.6 236.0M362.6 236.0L367.2 238.4M367.2 238.4L371.7 240.8M371.7 240.8L376.3 242.7M376.3 242.7L380.9 243.7M380.9 243.7L385.4 244.8M385.4 244.8L390.0 245.9M390.0 245.9L394.5 247.3M394.5 247.3L399.1 248.8M399.1 248.8L403.7 250.2M403.7 250.2L408.2 251.6M408.2 251.6L412.8 252.4M412.8 252.4L417.4 253.1M417.4 253.1L421.9 253.8M421.9 253.8L426.5 254.5M426.5 254.5L431.1 254.2M431.1 254.2L435.6 253.9M435.6 253.9L440.2 253.5M440.2 253.5L444.7 253.1M444.7 253.1L449.3 252.6M449.3 252.6L453.9 252.0M453.9 252.0L458.4 251.5M458.4 251.5L463.0 250.9M463.0 250.9L467.6 250.4M467.6 250.4L472.1 249.8M472.1 249.8L476.7 249.2M476.7 249.2L481.3 248.6M481.3 248.6L485.8 247.9M485.8 247.9L490.4 247.2M490.4 247.2L495.0 246.5M495.0 246.5L499.5 245.7M499.5 245.7L504.1 247.2M504.1 247.2L508.6 248.4M508.6 248.4L513.2 248.2M513.2 248.2L517.8 248.2M517.8 248.2L522.3 248.3M536.0 247.1L540.6 246.4M746.0 223.7L750.5 226.1M750.5 226.1L755.1 228.6M755.1 228.6L759.7 230.9M759.7 230.9L764.2 233.0M764.2 233.0L768.8 235.1M768.8 235.1L773.4 237.2M773.4 237.2L777.9 241.2M777.9 241.2L782.5 245.3M782.5 245.3L787.0 249.0M787.0 249.0L791.6 252.3M791.6 252.3L796.2 255.3M796.2 255.3L800.7 258.2M800.7 258.2L805.3 260.5M805.3 260.5L809.9 262.6M809.9 262.6L814.4 264.0M814.4 264.0L819.0 265.2M819.0 265.2L823.6 265.8M823.6 265.8L828.1 266.2M828.1 266.2L832.7 266.4M832.7 266.4L837.3 266.6M198.3 104.2L202.9 109.1M202.9 109.1L207.4 115.7M207.4 115.7L212.0 119.6M212.0 119.6L216.5 123.5M216.5 123.5L221.1 127.3M221.1 127.3L225.7 131.3M225.7 131.3L230.2 135.9M230.2 135.9L234.8 140.7M234.8 140.7L239.4 146.0M239.4 146.0L243.9 151.4M243.9 151.4L248.5 157.0M248.5 157.0L253.1 162.3M253.1 162.3L257.6 168.0M257.6 168.0L262.2 172.2M262.2 172.2L266.8 175.5M266.8 175.5L271.3 178.1M271.3 178.1L275.9 180.7M275.9 180.7L280.4 181.9M280.4 181.9L285.0 182.9M285.0 182.9L289.6 185.4M289.6 185.4L294.1 187.9M294.1 187.9L298.7 191.6M298.7 191.6L303.3 195.2M303.3 195.2L307.8 198.7M307.8 198.7L312.4 201.9M312.4 201.9L317.0 204.3M317.0 204.3L321.5 206.8M321.5 206.8L326.1 209.5M326.1 209.5L330.6 212.5M330.6 212.5L335.2 215.5M335.2 215.5L339.8 218.4M339.8 218.4L344.3 221.3M344.3 221.3L348.9 224.0M348.9 224.0L353.5 226.8M353.5 226.8L358.0 229.5M358.0 229.5L362.6 231.9M362.6 231.9L367.2 234.4M367.2 234.4L371.7 236.8M371.7 236.8L376.3 238.7M376.3 238.7L380.9 239.9M380.9 239.9L385.4 241.1M385.4 241.1L390.0 242.3M390.0 242.3L394.5 243.8M394.5 243.8L399.1 245.5M399.1 245.5L403.7 246.9M403.7 246.9L408.2 248.3M408.2 248.3L412.8 249.2M412.8 249.2L417.4 250.0M417.4 250.0L421.9 250.8M421.9 250.8L426.5 251.6M426.5 251.6L431.1 251.5M431.1 251.5L435.6 251.3M435.6 251.3L440.2 251.1M440.2 251.1L444.7 250.9M444.7 250.9L449.3 250.5M449.3 250.5L453.9 250.1M453.9 250.1L458.4 249.8M458.4 249.8L463.0 249.3M463.0 249.3L467.6 248.9M467.6 248.9L472.1 248.5M472.1 248.5L476.7 248.0M476.7 248.0L481.3 247.5M481.3 247.5L485.8 246.9M485.8 246.9L490.4 246.4M490.4 246.4L495.0 245.8M495.0 245.8L499.5 245.1M499.5 245.1L504.1 246.5M504.1 246.5L508.6 247.6M508.6 247.6L513.2 247.5M513.2 247.5L517.8 247.5M517.8 247.5L522.3 247.6M536.0 246.6L540.6 246.0M746.0 223.3L750.5 225.6M750.5 225.6L755.1 227.8M755.1 227.8L759.7 230.0M759.7 230.0L764.2 231.9M764.2 231.9L768.8 233.9M768.8 233.9L773.4 235.9M773.4 235.9L777.9 239.7M777.9 239.7L782.5 243.5M782.5 243.5L787.0 246.9M787.0 246.9L791.6 250.1M791.6 250.1L796.2 253.0M796.2 253.0L800.7 255.8M800.7 255.8L805.3 258.0M805.3 258.0L809.9 260.1M809.9 260.1L814.4 261.4M814.4 261.4L819.0 262.7M819.0 262.7L823.6 263.4M823.6 263.4L828.1 263.9M828.1 263.9L832.7 264.2M832.7 264.2L837.3 264.5M198.3 104.1L202.9 108.5M202.9 108.5L207.4 114.7M207.4 114.7L212.0 118.3M212.0 118.3L216.5 122.0M216.5 122.0L221.1 125.6M221.1 125.6L225.7 129.4M225.7 129.4L230.2 133.7M230.2 133.7L234.8 138.2M234.8 138.2L239.4 143.2M239.4 143.2L243.9 148.2M243.9 148.2L248.5 153.6M248.5 153.6L253.1 158.6M253.1 158.6L257.6 164.0M257.6 164.0L262.2 168.0M262.2 168.0L266.8 171.3M266.8 171.3L271.3 174.0M271.3 174.0L275.9 176.6M275.9 176.6L280.4 177.9M280.4 177.9L285.0 179.1M285.0 179.1L289.6 181.5M289.6 181.5L294.1 184.0M294.1 184.0L298.7 187.7M298.7 187.7L303.3 191.3M303.3 191.3L307.8 194.7M307.8 194.7L312.4 197.8M312.4 197.8L317.0 200.2M317.0 200.2L321.5 202.7M321.5 202.7L326.1 205.5M326.1 205.5L330.6 208.5M330.6 208.5L335.2 211.5M335.2 211.5L339.8 214.5M339.8 214.5L344.3 217.3M344.3 217.3L348.9 220.0M348.9 220.0L353.5 222.8M353.5 222.8L358.0 225.5M358.0 225.5L362.6 227.9M362.6 227.9L367.2 230.4M367.2 230.4L371.7 232.9M371.7 232.9L376.3 234.8M376.3 234.8L380.9 236.1M380.9 236.1L385.4 237.4M385.4 237.4L390.0 238.7M390.0 238.7L394.5 240.4M394.5 240.4L399.1 242.1M399.1 242.1L403.7 243.6M403.7 243.6L408.2 245.0M408.2 245.0L412.8 245.9M412.8 245.9L417.4 246.8M417.4 246.8L421.9 247.7M421.9 247.7L426.5 248.6M426.5 248.6L431.1 248.6M431.1 248.6L435.6 248.6M435.6 248.6L440.2 248.6M440.2 248.6L444.7 248.5M444.7 248.5L449.3 248.3M449.3 248.3L453.9 248.0M453.9 248.0L458.4 247.8M458.4 247.8L463.0 247.5M463.0 247.5L467.6 247.2M467.6 247.2L472.1 246.9M472.1 246.9L476.7 246.6M476.7 246.6L481.3 246.2M481.3 246.2L485.8 245.7M485.8 245.7L490.4 245.3M490.4 245.3L495.0 244.8M495.0 244.8L499.5 244.2M499.5 244.2L504.1 245.6M504.1 245.6L508.6 246.6M508.6 246.6L513.2 246.6M513.2 246.6L517.8 246.6M517.8 246.6L522.3 246.8M536.0 246.0L540.6 245.4M746.0 223.2L750.5 225.2M750.5 225.2L755.1 227.3M755.1 227.3L759.7 229.3M759.7 229.3L764.2 231.1M764.2 231.1L768.8 233.0M768.8 233.0L773.4 234.9M773.4 234.9L777.9 238.4M777.9 238.4L782.5 241.9M782.5 241.9L787.0 245.2M787.0 245.2L791.6 248.2M791.6 248.2L796.2 251.0M796.2 251.0L800.7 253.7M800.7 253.7L805.3 255.8M805.3 255.8L809.9 257.9M809.9 257.9L814.4 259.2M814.4 259.2L819.0 260.5M819.0 260.5L823.6 261.2M823.6 261.2L828.1 261.8M828.1 261.8L832.7 262.2M832.7 262.2L837.3 262.6M198.3 104.1L202.9 108.2M202.9 108.2L207.4 113.9M207.4 113.9L212.0 117.3M212.0 117.3L216.5 120.8M216.5 120.8L221.1 124.2M221.1 124.2L225.7 127.8M225.7 127.8L230.2 131.8M230.2 131.8L234.8 136.1M234.8 136.1L239.4 140.8M239.4 140.8L243.9 145.5M243.9 145.5L248.5 150.6M248.5 150.6L253.1 155.2M253.1 155.2L257.6 160.5M257.6 160.5L262.2 164.4M262.2 164.4L266.8 167.6M266.8 167.6L271.3 170.2M271.3 170.2L275.9 172.9M275.9 172.9L280.4 174.3M280.4 174.3L285.0 175.6M285.0 175.6L289.6 178.0M289.6 178.0L294.1 180.5M294.1 180.5L298.7 184.0M298.7 184.0L303.3 187.6M303.3 187.6L307.8 191.0M307.8 191.0L312.4 194.0M312.4 194.0L317.0 196.4M317.0 196.4L321.5 198.9M321.5 198.9L326.1 201.8M326.1 201.8L330.6 204.7M330.6 204.7L335.2 207.8M335.2 207.8L339.8 210.7M339.8 210.7L344.3 213.5M344.3 213.5L348.9 216.2M348.9 216.2L353.5 219.0M353.5 219.0L358.0 221.6M358.0 221.6L362.6 224.1M362.6 224.1L367.2 226.6M367.2 226.6L371.7 229.1M371.7 229.1L376.3 231.1M376.3 231.1L380.9 232.4M380.9 232.4L385.4 233.8M385.4 233.8L390.0 235.2M390.0 235.2L394.5 236.9M394.5 236.9L399.1 238.8M399.1 238.8L403.7 240.2M403.7 240.2L408.2 241.6M408.2 241.6L412.8 242.6M412.8 242.6L417.4 243.6M417.4 243.6L421.9 244.5M421.9 244.5L426.5 245.5M426.5 245.5L431.1 245.7M431.1 245.7L435.6 245.8M435.6 245.8L440.2 245.9M440.2 245.9L444.7 246.0M444.7 246.0L449.3 245.9M449.3 245.9L453.9 245.8M453.9 245.8L458.4 245.6M458.4 245.6L463.0 245.5M463.0 245.5L467.6 245.3M467.6 245.3L472.1 245.1M472.1 245.1L476.7 245.0M476.7 245.0L481.3 244.7M481.3 244.7L485.8 244.3M485.8 244.3L490.4 244.0M490.4 244.0L495.0 243.6M495.0 243.6L499.5 243.2M499.5 243.2L504.1 244.4M504.1 244.4L508.6 245.5M508.6 245.5L513.2 245.4M513.2 245.4L517.8 245.5M517.8 245.5L522.3 245.8M536.0 245.2L540.6 244.6M746.0 223.2L750.5 225.0M750.5 225.0L755.1 226.9M755.1 226.9L759.7 228.7M759.7 228.7L764.2 230.5M764.2 230.5L768.8 232.2M768.8 232.2L773.4 234.0M773.4 234.0L777.9 237.3M777.9 237.3L782.5 240.6M782.5 240.6L787.0 243.7M787.0 243.7L791.6 246.6M791.6 246.6L796.2 249.3M796.2 249.3L800.7 251.9M800.7 251.9L805.3 253.9M805.3 253.9L809.9 255.9M809.9 255.9L814.4 257.2M814.4 257.2L819.0 258.5M819.0 258.5L823.6 259.3M823.6 259.3L828.1 259.9M828.1 259.9L832.7 260.3M832.7 260.3L837.3 260.8M198.3 104.2L202.9 107.9M202.9 107.9L207.4 113.2M207.4 113.2L212.0 116.4M212.0 116.4L216.5 119.8M216.5 119.8L221.1 123.0M221.1 123.0L225.7 126.4M225.7 126.4L230.2 130.2M230.2 130.2L234.8 134.2M234.8 134.2L239.4 138.7M239.4 138.7L243.9 143.1M243.9 143.1L248.5 147.9M248.5 147.9L253.1 152.3M253.1 152.3L257.6 157.3M257.6 157.3L262.2 161.1M262.2 161.1L266.8 164.2M266.8 164.2L271.3 166.9M271.3 166.9L275.9 169.5M275.9 169.5L280.4 171.0M280.4 171.0L285.0 172.4M285.0 172.4L289.6 174.7M289.6 174.7L294.1 177.2M294.1 177.2L298.7 180.7M298.7 180.7L303.3 184.2M303.3 184.2L307.8 187.5M307.8 187.5L312.4 190.4M312.4 190.4L317.0 192.9M317.0 192.9L321.5 195.4M321.5 195.4L326.1 198.2M326.1 198.2L330.6 201.2M330.6 201.2L335.2 204.2M335.2 204.2L339.8 207.1M339.8 207.1L344.3 209.9M344.3 209.9L348.9 212.6M348.9 212.6L353.5 215.3M353.5 215.3L358.0 217.9M358.0 217.9L362.6 220.4M362.6 220.4L367.2 222.9M367.2 222.9L371.7 225.4M371.7 225.4L376.3 227.4M376.3 227.4L380.9 228.9M380.9 228.9L385.4 230.3M385.4 230.3L390.0 231.8M390.0 231.8L394.5 233.6M394.5 233.6L399.1 235.4M399.1 235.4L403.7 236.9M403.7 236.9L408.2 238.3M408.2 238.3L412.8 239.4M412.8 239.4L417.4 240.4M417.4 240.4L421.9 241.4M421.9 241.4L426.5 242.4M426.5 242.4L431.1 242.7M431.1 242.7L435.6 243.0M435.6 243.0L440.2 243.2M440.2 243.2L444.7 243.4M444.7 243.4L449.3 243.4M449.3 243.4L453.9 243.4M453.9 243.4L458.4 243.4M458.4 243.4L463.0 243.3M463.0 243.3L467.6 243.3M467.6 243.3L472.1 243.2M472.1 243.2L476.7 243.2M476.7 243.2L481.3 243.0M481.3 243.0L485.8 242.7M485.8 242.7L490.4 242.6M490.4 242.6L495.0 242.2M495.0 242.2L499.5 241.9M499.5 241.9L504.1 243.1M504.1 243.1L508.6 244.1M508.6 244.1L513.2 244.1M513.2 244.1L517.8 244.3M517.8 244.3L522.3 244.6M536.0 244.2L540.6 243.7M746.0 223.2L750.5 224.9M750.5 224.9L755.1 226.6M755.1 226.6L759.7 228.3M759.7 228.3L764.2 230.0M764.2 230.0L768.8 231.6M768.8 231.6L773.4 233.3M773.4 233.3L777.9 236.4M777.9 236.4L782.5 239.4M782.5 239.4L787.0 242.4M787.0 242.4L791.6 245.2M791.6 245.2L796.2 247.8M796.2 247.8L800.7 250.3M800.7 250.3L805.3 252.3M805.3 252.3L809.9 254.2M809.9 254.2L814.4 255.4M814.4 255.4L819.0 256.7M819.0 256.7L823.6 257.5M823.6 257.5L828.1 258.2M828.1 258.2L832.7 258.6M832.7 258.6L837.3 259.2M198.3 104.3L202.9 107.7M202.9 107.7L207.4 112.6M207.4 112.6L212.0 115.7M212.0 115.7L216.5 118.9M216.5 118.9L221.1 121.9M221.1 121.9L225.7 125.3M225.7 125.3L230.2 128.9M230.2 128.9L234.8 132.7M234.8 132.7L239.4 136.8M239.4 136.8L243.9 141.0M243.9 141.0L248.5 145.6M248.5 145.6L253.1 149.8M253.1 149.8L257.6 154.5M257.6 154.5L262.2 158.1M262.2 158.1L266.8 161.2M266.8 161.2L271.3 163.8M271.3 163.8L275.9 166.4M275.9 166.4L280.4 168.0M280.4 168.0L285.0 169.4M285.0 169.4L289.6 171.7M289.6 171.7L294.1 174.1M294.1 174.1L298.7 177.6M298.7 177.6L303.3 181.0M303.3 181.0L307.8 184.3M307.8 184.3L312.4 187.2M312.4 187.2L317.0 189.6M317.0 189.6L321.5 192.1M321.5 192.1L326.1 194.9M326.1 194.9L330.6 197.9M330.6 197.9L335.2 200.8M335.2 200.8L339.8 203.7M339.8 203.7L344.3 206.5M344.3 206.5L348.9 209.2M348.9 209.2L353.5 211.8M353.5 211.8L358.0 214.4M358.0 214.4L362.6 216.9M362.6 216.9L367.2 219.4M367.2 219.4L371.7 221.9M371.7 221.9L376.3 223.9M376.3 223.9L380.9 225.4M380.9 225.4L385.4 226.9M385.4 226.9L390.0 228.5M390.0 228.5L394.5 230.3M394.5 230.3L399.1 232.2M399.1 232.2L403.7 233.7M403.7 233.7L408.2 235.1M408.2 235.1L412.8 236.1M412.8 236.1L417.4 237.2M417.4 237.2L421.9 238.2M421.9 238.2L426.5 239.3M426.5 239.3L431.1 239.7M431.1 239.7L435.6 240.1M435.6 240.1L440.2 240.4M440.2 240.4L444.7 240.7M444.7 240.7L449.3 240.9M449.3 240.9L453.9 241.0M453.9 241.0L458.4 241.1M458.4 241.1L463.0 241.1M463.0 241.1L467.6 241.1M467.6 241.1L472.1 241.2M472.1 241.2L476.7 241.2M476.7 241.2L481.3 241.2M481.3 241.2L485.8 241.0M485.8 241.0L490.4 241.0M490.4 241.0L495.0 240.7M495.0 240.7L499.5 240.5M499.5 240.5L504.1 241.7M504.1 241.7L508.6 242.6M508.6 242.6L513.2 242.7M513.2 242.7L517.8 242.9M517.8 242.9L522.3 243.2M536.0 243.0L540.6 242.6M746.0 223.3L750.5 224.8M750.5 224.8L755.1 226.3M755.1 226.3L759.7 227.9M759.7 227.9L764.2 229.5M764.2 229.5L768.8 231.1M768.8 231.1L773.4 232.7M773.4 232.7L777.9 235.5M777.9 235.5L782.5 238.4M782.5 238.4L787.0 241.3M787.0 241.3L791.6 244.0M791.6 244.0L796.2 246.5M796.2 246.5L800.7 248.8M800.7 248.8L805.3 250.8M805.3 250.8L809.9 252.7M809.9 252.7L814.4 253.8M814.4 253.8L819.0 255.1M819.0 255.1L823.6 255.9M823.6 255.9L828.1 256.6M828.1 256.6L832.7 257.1M832.7 257.1L837.3 257.6M198.3 104.4L202.9 107.6M202.9 107.6L207.4 112.1M207.4 112.1L212.0 115.1M212.0 115.1L216.5 118.2M216.5 118.2L221.1 121.0M221.1 121.0L225.7 124.2M225.7 124.2L230.2 127.7M230.2 127.7L234.8 131.3M234.8 131.3L239.4 135.2M239.4 135.2L243.9 139.1M243.9 139.1L248.5 143.5M248.5 143.5L253.1 147.4M253.1 147.4L257.6 152.0M257.6 152.0L262.2 155.5M262.2 155.5L266.8 158.5M266.8 158.5L271.3 161.0M271.3 161.0L275.9 163.6M275.9 163.6L280.4 165.2M280.4 165.2L285.0 166.7M285.0 166.7L289.6 169.0M289.6 169.0L294.1 171.4M294.1 171.4L298.7 174.7M298.7 174.7L303.3 178.1M303.3 178.1L307.8 181.3M307.8 181.3L312.4 184.1M312.4 184.1L317.0 186.5M317.0 186.5L321.5 189.0M321.5 189.0L326.1 191.9M326.1 191.9L330.6 194.8M330.6 194.8L335.2 197.7M335.2 197.7L339.8 200.5M339.8 200.5L344.3 203.3M344.3 203.3L348.9 205.9M348.9 205.9L353.5 208.5M353.5 208.5L358.0 211.1M358.0 211.1L362.6 213.5M362.6 213.5L367.2 216.0M367.2 216.0L371.7 218.5M371.7 218.5L376.3 220.6M376.3 220.6L380.9 222.1M380.9 222.1L385.4 223.7M385.4 223.7L390.0 225.3M390.0 225.3L394.5 227.1M394.5 227.1L399.1 229.0M399.1 229.0L403.7 230.5M403.7 230.5L408.2 231.9M408.2 231.9L412.8 233.0M412.8 233.0L417.4 234.1M417.4 234.1L421.9 235.1M421.9 235.1L426.5 236.2M426.5 236.2L431.1 236.7M431.1 236.7L435.6 237.2M435.6 237.2L440.2 237.7M440.2 237.7L444.7 238.1M444.7 238.1L449.3 238.3M449.3 238.3L453.9 238.5M453.9 238.5L458.4 238.7M458.4 238.7L463.0 238.8M463.0 238.8L467.6 238.9M467.6 238.9L472.1 239.1M472.1 239.1L476.7 239.2M476.7 239.2L481.3 239.3M481.3 239.3L485.8 239.2M485.8 239.2L490.4 239.3M490.4 239.3L495.0 239.1M495.0 239.1L499.5 239.0M499.5 239.0L504.1 240.1M504.1 240.1L508.6 241.0M508.6 241.0L513.2 241.1M513.2 241.1L517.8 241.4M517.8 241.4L522.3 241.8M536.0 241.7L540.6 241.4M746.0 223.3L750.5 224.7M750.5 224.7L755.1 226.1M755.1 226.1L759.7 227.6M759.7 227.6L764.2 229.1M764.2 229.1L768.8 230.6M768.8 230.6L773.4 232.2M773.4 232.2L777.9 234.8M777.9 234.8L782.5 237.5M782.5 237.5L787.0 240.3M787.0 240.3L791.6 242.9M791.6 242.9L796.2 245.3M796.2 245.3L800.7 247.5M800.7 247.5L805.3 249.4M805.3 249.4L809.9 251.3M809.9 251.3L814.4 252.4M814.4 252.4L819.0 253.6M819.0 253.6L823.6 254.5M823.6 254.5L828.1 255.1M828.1 255.1L832.7 255.7M832.7 255.7L837.3 256.2M198.3 104.5L202.9 107.5M202.9 107.5L207.4 111.7M207.4 111.7L212.0 114.5M212.0 114.5L216.5 117.5M216.5 117.5L221.1 120.3M221.1 120.3L225.7 123.3M225.7 123.3L230.2 126.6M230.2 126.6L234.8 130.0M234.8 130.0L239.4 133.7M239.4 133.7L243.9 137.5M243.9 137.5L248.5 141.6M248.5 141.6L253.1 145.4M253.1 145.4L257.6 149.7M257.6 149.7L262.2 153.1M262.2 153.1L266.8 156.0M266.8 156.0L271.3 158.5M271.3 158.5L275.9 161.1M275.9 161.1L280.4 162.7M280.4 162.7L285.0 164.2M285.0 164.2L289.6 166.5M289.6 166.5L294.1 168.8M294.1 168.8L298.7 172.1M298.7 172.1L303.3 175.3M303.3 175.3L307.8 178.5M307.8 178.5L312.4 181.3M312.4 181.3L317.0 183.7M317.0 183.7L321.5 186.2M321.5 186.2L326.1 189.0M326.1 189.0L330.6 191.9M330.6 191.9L335.2 194.7M335.2 194.7L339.8 197.5M339.8 197.5L344.3 200.2M344.3 200.2L348.9 202.8M348.9 202.8L353.5 205.4M353.5 205.4L358.0 207.9M358.0 207.9L362.6 210.4M362.6 210.4L367.2 212.8M367.2 212.8L371.7 215.3M371.7 215.3L376.3 217.4M376.3 217.4L380.9 219.0M380.9 219.0L385.4 220.5M385.4 220.5L390.0 222.2M390.0 222.2L394.5 224.0M394.5 224.0L399.1 225.9M399.1 225.9L403.7 227.4M403.7 227.4L408.2 228.8M408.2 228.8L412.8 229.9M412.8 229.9L417.4 231.0M417.4 231.0L421.9 232.1M421.9 232.1L426.5 233.2M426.5 233.2L431.1 233.8M431.1 233.8L435.6 234.4M435.6 234.4L440.2 234.9M440.2 234.9L444.7 235.4M444.7 235.4L449.3 235.7M449.3 235.7L453.9 236.0M453.9 236.0L458.4 236.2M458.4 236.2L463.0 236.5M463.0 236.5L467.6 236.7M467.6 236.7L472.1 236.9M472.1 236.9L476.7 237.2M476.7 237.2L481.3 237.3M481.3 237.3L485.8 237.4M485.8 237.4L490.4 237.5M490.4 237.5L495.0 237.4M495.0 237.4L499.5 237.4M499.5 237.4L504.1 238.5M504.1 238.5L508.6 239.3M508.6 239.3L513.2 239.5M513.2 239.5L517.8 239.8M517.8 239.8L522.3 240.2M536.0 240.4L540.6 240.1M746.0 223.4L750.5 224.7M750.5 224.7L755.1 226.0M755.1 226.0L759.7 227.3M759.7 227.3L764.2 228.7M764.2 228.7L768.8 230.2M768.8 230.2L773.4 231.7M773.4 231.7L777.9 234.1M777.9 234.1L782.5 236.7M782.5 236.7L787.0 239.4M787.0 239.4L791.6 241.9M791.6 241.9L796.2 244.2M796.2 244.2L800.7 246.3M800.7 246.3L805.3 248.2M805.3 248.2L809.9 250.0M809.9 250.0L814.4 251.0M814.4 251.0L819.0 252.2M819.0 252.2L823.6 253.1M823.6 253.1L828.1 253.8M828.1 253.8L832.7 254.3M832.7 254.3L837.3 254.9M198.3 104.5L202.9 107.4M202.9 107.4L207.4 111.3M207.4 111.3L212.0 114.0M212.0 114.0L216.5 116.9M216.5 116.9L221.1 119.6M221.1 119.6L225.7 122.5M225.7 122.5L230.2 125.7M230.2 125.7L234.8 128.9M234.8 128.9L239.4 132.4M239.4 132.4L243.9 136.0M243.9 136.0L248.5 139.8M248.5 139.8L253.1 143.5M253.1 143.5L257.6 147.6M257.6 147.6L262.2 150.9M262.2 150.9L266.8 153.7M266.8 153.7L271.3 156.2M271.3 156.2L275.9 158.7M275.9 158.7L280.4 160.4M280.4 160.4L285.0 162.0M285.0 162.0L289.6 164.1M289.6 164.1L294.1 166.4M294.1 166.4L298.7 169.6M298.7 169.6L303.3 172.8M303.3 172.8L307.8 175.9M307.8 175.9L312.4 178.6M312.4 178.6L317.0 181.0M317.0 181.0L321.5 183.5M321.5 183.5L326.1 186.3M326.1 186.3L330.6 189.1M330.6 189.1L335.2 191.9M335.2 191.9L339.8 194.6M339.8 194.6L344.3 197.4M344.3 197.4L348.9 199.9M348.9 199.9L353.5 202.5M353.5 202.5L358.0 205.0M358.0 205.0L362.6 207.4M362.6 207.4L367.2 209.8M367.2 209.8L371.7 212.2M371.7 212.2L376.3 214.3M376.3 214.3L380.9 215.9M380.9 215.9L385.4 217.5M385.4 217.5L390.0 219.2M390.0 219.2L394.5 221.0M394.5 221.0L399.1 222.9M399.1 222.9L403.7 224.4M403.7 224.4L408.2 225.8M408.2 225.8L412.8 226.9M412.8 226.9L417.4 228.0M417.4 228.0L421.9 229.1M421.9 229.1L426.5 230.2M426.5 230.2L431.1 230.9M431.1 230.9L435.6 231.6M435.6 231.6L440.2 232.2M440.2 232.2L444.7 232.8M444.7 232.8L449.3 233.1M449.3 233.1L453.9 233.5M453.9 233.5L458.4 233.8M458.4 233.8L463.0 234.1M463.0 234.1L467.6 234.4M467.6 234.4L472.1 234.7M472.1 234.7L476.7 235.0M476.7 235.0L481.3 235.3M481.3 235.3L485.8 235.4M485.8 235.4L490.4 235.6M490.4 235.6L495.0 235.7M495.0 235.7L499.5 235.7M499.5 235.7L504.1 236.7M504.1 236.7L508.6 237.6M508.6 237.6L513.2 237.8M513.2 237.8L517.8 238.1M517.8 238.1L522.3 238.6M536.0 238.9L540.6 238.7M746.0 223.4L750.5 224.6M750.5 224.6L755.1 225.8M755.1 225.8L759.7 227.0M759.7 227.0L764.2 228.4M764.2 228.4L768.8 229.8M768.8 229.8L773.4 231.2M773.4 231.2L777.9 233.4M777.9 233.4L782.5 235.9M782.5 235.9L787.0 238.5M787.0 238.5L791.6 241.0M791.6 241.0L796.2 243.2M796.2 243.2L800.7 245.2M800.7 245.2L805.3 247.0M805.3 247.0L809.9 248.8M809.9 248.8L814.4 249.8M814.4 249.8L819.0 250.9M819.0 250.9L823.6 251.8M823.6 251.8L828.1 252.5M828.1 252.5L832.7 253.1M832.7 253.1L837.3 253.7M198.3 104.6L202.9 107.3M202.9 107.3L207.4 111.0M207.4 111.0L212.0 113.6M212.0 113.6L216.5 116.3M216.5 116.3L221.1 118.9M221.1 118.9L225.7 121.8M225.7 121.8L230.2 124.8M230.2 124.8L234.8 127.9M234.8 127.9L239.4 131.3M239.4 131.3L243.9 134.6M243.9 134.6L248.5 138.3M248.5 138.3L253.1 141.8M253.1 141.8L257.6 145.7M257.6 145.7L262.2 148.9M262.2 148.9L266.8 151.6M266.8 151.6L271.3 154.0M271.3 154.0L275.9 156.5M275.9 156.5L280.4 158.2M280.4 158.2L285.0 159.8M285.0 159.8L289.6 162.0M289.6 162.0L294.1 164.2M294.1 164.2L298.7 167.3M298.7 167.3L303.3 170.4M303.3 170.4L307.8 173.4M307.8 173.4L312.4 176.2M312.4 176.2L317.0 178.6M317.0 178.6L321.5 181.1M321.5 181.1L326.1 183.8M326.1 183.8L330.6 186.6M330.6 186.6L335.2 189.3M335.2 189.3L339.8 192.0M339.8 192.0L344.3 194.6M344.3 194.6L348.9 197.2M348.9 197.2L353.5 199.7M353.5 199.7L358.0 202.1M358.0 202.1L362.6 204.5M362.6 204.5L367.2 206.9M367.2 206.9L371.7 209.3M371.7 209.3L376.3 211.4M376.3 211.4L380.9 213.0M380.9 213.0L385.4 214.6M385.4 214.6L390.0 216.3M390.0 216.3L394.5 218.1M394.5 218.1L399.1 220.0M399.1 220.0L403.7 221.5M403.7 221.5L408.2 222.8M408.2 222.8L412.8 224.0M412.8 224.0L417.4 225.1M417.4 225.1L421.9 226.2M421.9 226.2L426.5 227.3M426.5 227.3L431.1 228.1M431.1 228.1L435.6 228.8M435.6 228.8L440.2 229.5M440.2 229.5L444.7 230.2M444.7 230.2L449.3 230.6M449.3 230.6L453.9 231.0M453.9 231.0L458.4 231.4M458.4 231.4L463.0 231.8M463.0 231.8L467.6 232.2M467.6 232.2L472.1 232.5M472.1 232.5L476.7 232.9M476.7 232.9L481.3 233.2M481.3 233.2L485.8 233.5M485.8 233.5L490.4 233.8M490.4 233.8L495.0 233.9M495.0 233.9L499.5 234.0M499.5 234.0L504.1 235.0M504.1 235.0L508.6 235.8M508.6 235.8L513.2 236.0M513.2 236.0L517.8 236.4M517.8 236.4L522.3 236.9M536.0 237.3L540.6 237.2M746.0 223.4L750.5 224.5M750.5 224.5L755.1 225.6M755.1 225.6L759.7 226.7M759.7 226.7L764.2 228.0M764.2 228.0L768.8 229.4M768.8 229.4L773.4 230.7M773.4 230.7L777.9 232.8M777.9 232.8L782.5 235.2M782.5 235.2L787.0 237.7M787.0 237.7L791.6 240.1M791.6 240.1L796.2 242.2M796.2 242.2L800.7 244.2M800.7 244.2L805.3 246.0M805.3 246.0L809.9 247.7M809.9 247.7L814.4 248.6M814.4 248.6L819.0 249.7M819.0 249.7L823.6 250.6M823.6 250.6L828.1 251.3M828.1 251.3L832.7 251.9M832.7 251.9L837.3 252.5M198.3 104.7L202.9 107.3M202.9 107.3L207.4 110.6M207.4 110.6L212.0 113.2M212.0 113.2L216.5 115.8M216.5 115.8L221.1 118.4M221.1 118.4L225.7 121.1M225.7 121.1L230.2 124.0M230.2 124.0L234.8 127.0M234.8 127.0L239.4 130.2M239.4 130.2L243.9 133.4M243.9 133.4L248.5 136.9M248.5 136.9L253.1 140.2M253.1 140.2L257.6 144.0M257.6 144.0L262.2 147.0M262.2 147.0L266.8 149.6M266.8 149.6L271.3 152.1M271.3 152.1L275.9 154.5M275.9 154.5L280.4 156.2M280.4 156.2L285.0 157.9M285.0 157.9L289.6 159.9M289.6 159.9L294.1 162.1M294.1 162.1L298.7 165.2M298.7 165.2L303.3 168.2M303.3 168.2L307.8 171.1M307.8 171.1L312.4 173.9M312.4 173.9L317.0 176.3M317.0 176.3L321.5 178.7M321.5 178.7L326.1 181.4M326.1 181.4L330.6 184.2M330.6 184.2L335.2 186.8M335.2 186.8L339.8 189.5M339.8 189.5L344.3 192.1M344.3 192.1L348.9 194.6M348.9 194.6L353.5 197.0M353.5 197.0L358.0 199.4M358.0 199.4L362.6 201.8M362.6 201.8L367.2 204.2M367.2 204.2L371.7 206.5M371.7 206.5L376.3 208.6M376.3 208.6L380.9 210.2M380.9 210.2L385.4 211.9M385.4 211.9L390.0 213.6M390.0 213.6L394.5 215.4M394.5 215.4L399.1 217.2M399.1 217.2L403.7 218.7M403.7 218.7L408.2 220.0M408.2 220.0L412.8 221.1M412.8 221.1L417.4 222.3M417.4 222.3L421.9 223.4M421.9 223.4L426.5 224.5M426.5 224.5L431.1 225.3M431.1 225.3L435.6 226.1M435.6 226.1L440.2 226.9M440.2 226.9L444.7 227.6M444.7 227.6L449.3 228.1M449.3 228.1L453.9 228.6M453.9 228.6L458.4 229.0M458.4 229.0L463.0 229.5M463.0 229.5L467.6 229.9M467.6 229.9L472.1 230.3M472.1 230.3L476.7 230.8M476.7 230.8L481.3 231.2M481.3 231.2L485.8 231.5M485.8 231.5L490.4 231.9M490.4 231.9L495.0 232.1M495.0 232.1L499.5 232.3M499.5 232.3L504.1 233.2M504.1 233.2L508.6 233.9M508.6 233.9L513.2 234.2M513.2 234.2L517.8 234.6M517.8 234.6L522.3 235.1M536.0 235.7L540.6 235.7M746.0 223.3L750.5 224.4M750.5 224.4L755.1 225.3M755.1 225.3L759.7 226.4M759.7 226.4L764.2 227.6M764.2 227.6L768.8 228.9M768.8 228.9L773.4 230.3M773.4 230.3L777.9 232.2M777.9 232.2L782.5 234.5M782.5 234.5L787.0 236.9M787.0 236.9L791.6 239.3M791.6 239.3L796.2 241.3M796.2 241.3L800.7 243.2M800.7 243.2L805.3 244.9M805.3 244.9L809.9 246.6M809.9 246.6L814.4 247.5M814.4 247.5L819.0 248.6M819.0 248.6L823.6 249.4M823.6 249.4L828.1 250.2M828.1 250.2L832.7 250.8M832.7 250.8L837.3 251.4M198.3 104.8L202.9 107.3M202.9 107.3L207.4 110.3M207.4 110.3L212.0 112.8M212.0 112.8L216.5 115.3M216.5 115.3L221.1 117.8M221.1 117.8L225.7 120.5M225.7 120.5L230.2 123.3M230.2 123.3L234.8 126.2M234.8 126.2L239.4 129.2M239.4 129.2L243.9 132.2M243.9 132.2L248.5 135.5M248.5 135.5L253.1 138.8M253.1 138.8L257.6 142.4M257.6 142.4L262.2 145.3M262.2 145.3L266.8 147.8M266.8 147.8L271.3 150.2M271.3 150.2L275.9 152.6M275.9 152.6L280.4 154.4M280.4 154.4L285.0 156.1M285.0 156.1L289.6 158.1M289.6 158.1L294.1 160.2M294.1 160.2L298.7 163.2M298.7 163.2L303.3 166.1M303.3 166.1L307.8 169.0M307.8 169.0L312.4 171.7M312.4 171.7L317.0 174.1M317.0 174.1L321.5 176.6M321.5 176.6L326.1 179.2M326.1 179.2L330.6 181.9M330.6 181.9L335.2 184.5M335.2 184.5L339.8 187.1M339.8 187.1L344.3 189.6M344.3 189.6L348.9 192.1M348.9 192.1L353.5 194.5M353.5 194.5L358.0 196.9M358.0 196.9L362.6 199.2M362.6 199.2L367.2 201.5M367.2 201.5L371.7 203.9M371.7 203.9L376.3 206.0M376.3 206.0L380.9 207.6M380.9 207.6L385.4 209.2M385.4 209.2L390.0 210.9M390.0 210.9L394.5 212.7M394.5 212.7L399.1 214.6M399.1 214.6L403.7 216.0M403.7 216.0L408.2 217.3M408.2 217.3L412.8 218.4M412.8 218.4L417.4 219.5M417.4 219.5L421.9 220.6M421.9 220.6L426.5 221.8M426.5 221.8L431.1 222.6M431.1 222.6L435.6 223.5M435.6 223.5L440.2 224.3M440.2 224.3L444.7 225.1M444.7 225.1L449.3 225.6M449.3 225.6L453.9 226.2M453.9 226.2L458.4 226.7M458.4 226.7L463.0 227.2M463.0 227.2L467.6 227.7M467.6 227.7L472.1 228.2M472.1 228.2L476.7 228.7M476.7 228.7L481.3 229.1M481.3 229.1L485.8 229.5M485.8 229.5L490.4 230.0M490.4 230.0L495.0 230.3M495.0 230.3L499.5 230.5M499.5 230.5L504.1 231.3M504.1 231.3L508.6 232.1M508.6 232.1L513.2 232.4M513.2 232.4L517.8 232.8M517.8 232.8L522.3 233.4M536.0 234.1L540.6 234.1M746.0 223.2L750.5 224.2M750.5 224.2L755.1 225.1M755.1 225.1L759.7 226.0M759.7 226.0L764.2 227.2M764.2 227.2L768.8 228.5M768.8 228.5L773.4 229.8M773.4 229.8L777.9 231.5M777.9 231.5L782.5 233.8M782.5 233.8L787.0 236.2M787.0 236.2L791.6 238.5M791.6 238.5L796.2 240.4M796.2 240.4L800.7 242.2M800.7 242.2L805.3 244.0M805.3 244.0L809.9 245.6M809.9 245.6L814.4 246.5M814.4 246.5L819.0 247.5M819.0 247.5L823.6 248.3M823.6 248.3L828.1 249.1M828.1 249.1L832.7 249.7M832.7 249.7L837.3 250.3M198.3 104.8L202.9 107.2M202.9 107.2L207.4 110.0M207.4 110.0L212.0 112.4M212.0 112.4L216.5 114.8M216.5 114.8L221.1 117.4M221.1 117.4L225.7 120.0M225.7 120.0L230.2 122.7M230.2 122.7L234.8 125.4M234.8 125.4L239.4 128.3M239.4 128.3L243.9 131.2M243.9 131.2L248.5 134.3M248.5 134.3L253.1 137.5M253.1 137.5L257.6 140.9M257.6 140.9L262.2 143.7M262.2 143.7L266.8 146.1M266.8 146.1L271.3 148.5M271.3 148.5L275.9 150.8M275.9 150.8L280.4 152.6M280.4 152.6L285.0 154.4M285.0 154.4L289.6 156.3M289.6 156.3L294.1 158.4M294.1 158.4L298.7 161.3M298.7 161.3L303.3 164.2M303.3 164.2L307.8 167.0M307.8 167.0L312.4 169.7M312.4 169.7L317.0 172.1M317.0 172.1L321.5 174.6M321.5 174.6L326.1 177.2M326.1 177.2L330.6 179.8M330.6 179.8L335.2 182.3M335.2 182.3L339.8 184.8M339.8 184.8L344.3 187.3M344.3 187.3L348.9 189.8M348.9 189.8L353.5 192.1M353.5 192.1L358.0 194.5M358.0 194.5L362.6 196.7M362.6 196.7L367.2 199.1M367.2 199.1L371.7 201.3M371.7 201.3L376.3 203.4M376.3 203.4L380.9 205.1M380.9 205.1L385.4 206.7M385.4 206.7L390.0 208.4M390.0 208.4L394.5 210.2M394.5 210.2L399.1 212.0M399.1 212.0L403.7 213.4M403.7 213.4L408.2 214.6M408.2 214.6L412.8 215.7M412.8 215.7L417.4 216.9M417.4 216.9L421.9 218.0M421.9 218.0L426.5 219.1M426.5 219.1L431.1 220.0M431.1 220.0L435.6 220.9M435.6 220.9L440.2 221.8M440.2 221.8L444.7 222.7M444.7 222.7L449.3 223.2M449.3 223.2L453.9 223.8M453.9 223.8L458.4 224.4M458.4 224.4L463.0 224.9M463.0 224.9L467.6 225.4M467.6 225.4L472.1 226.0M472.1 226.0L476.7 226.6M476.7 226.6L481.3 227.1M481.3 227.1L485.8 227.6M485.8 227.6L490.4 228.1M490.4 228.1L495.0 228.4M495.0 228.4L499.5 228.8M499.5 228.8L504.1 229.5M504.1 229.5L508.6 230.2M508.6 230.2L513.2 230.6M513.2 230.6L517.8 231.0M517.8 231.0L522.3 231.6M536.0 232.4L540.6 232.6M746.0 223.1L750.5 223.9M750.5 223.9L755.1 224.8M755.1 224.8L759.7 225.7M759.7 225.7L764.2 226.8M764.2 226.8L768.8 228.1M768.8 228.1L773.4 229.3M773.4 229.3L777.9 230.9M777.9 230.9L782.5 233.1M782.5 233.1L787.0 235.4M787.0 235.4L791.6 237.7M791.6 237.7L796.2 239.5M796.2 239.5L800.7 241.3M800.7 241.3L805.3 243.0M805.3 243.0L809.9 244.6M809.9 244.6L814.4 245.4M814.4 245.4L819.0 246.4M819.0 246.4L823.6 247.2M823.6 247.2L828.1 248.0M828.1 248.0L832.7 248.6M832.7 248.6L837.3 249.3" stroke="#f93434" stroke-width="0.9" fill="none" stroke-linecap="round"/>
<path d="M189.2 106.6L193.7 118.5M193.7 118.5L198.3 135.8M198.3 135.8L202.9 176.5M202.9 176.5L207.4 184.4M207.4 184.4L212.0 177.4M212.0 177.4L216.5 175.4M216.5 175.4L221.1 189.5M221.1 189.5L225.7 194.3M225.7 194.3L230.2 203.1M230.2 203.1L234.8 214.2M234.8 214.2L239.4 225.8M239.4 225.8L243.9 236.3M243.9 236.3L248.5 235.2M248.5 235.2L253.1 256.9M253.1 256.9L257.6 254.4M257.6 254.4L262.2 239.1M289.6 221.5L294.1 228.5M294.1 228.5L298.7 232.4M298.7 232.4L303.3 237.5M303.3 237.5L307.8 246.0M307.8 246.0L312.4 255.9M312.4 255.9L317.0 261.6M317.0 261.6L321.5 262.6M321.5 262.6L326.1 252.0M335.2 250.3L339.8 256.3M339.8 256.3L344.3 257.3M344.3 257.3L348.9 264.9M348.9 264.9L353.5 268.2M353.5 268.2L358.0 271.6M358.0 271.6L362.6 270.7M362.6 270.7L367.2 269.0M367.2 269.0L371.7 270.2M371.7 270.2L376.3 270.6M403.7 262.6L408.2 267.0M408.2 267.0L412.8 268.1M417.4 264.6L421.9 265.9M736.8 252.8L741.4 259.8M741.4 259.8L746.0 255.3M746.0 255.3L750.5 258.8M750.5 258.8L755.1 264.9M755.1 264.9L759.7 261.4M759.7 261.4L764.2 259.7M764.2 259.7L768.8 262.2M768.8 262.2L773.4 265.0M773.4 265.0L777.9 272.5M777.9 272.5L782.5 298.7M782.5 298.7L787.0 300.0M787.0 300.0L791.6 297.0M791.6 297.0L796.2 292.4M796.2 292.4L800.7 296.2M800.7 296.2L805.3 296.4M805.3 296.4L809.9 294.0M809.9 294.0L814.4 294.8M189.2 104.3L193.7 111.8M193.7 111.8L198.3 123.6M198.3 123.6L202.9 150.2M202.9 150.2L207.4 162.4M207.4 162.4L212.0 164.8M212.0 164.8L216.5 167.4M216.5 167.4L221.1 177.7M221.1 177.7L225.7 183.8M225.7 183.8L230.2 191.8M230.2 191.8L234.8 201.4M234.8 201.4L239.4 211.6M239.4 211.6L243.9 221.6M243.9 221.6L248.5 225.2M248.5 225.2L253.1 240.3M253.1 240.3L257.6 243.7M257.6 243.7L262.2 238.1M289.6 221.7L294.1 225.6M294.1 225.6L298.7 228.7M298.7 228.7L303.3 232.7M303.3 232.7L307.8 239.0M307.8 239.0L312.4 246.5M312.4 246.5L317.0 252.3M317.0 252.3L321.5 255.4M321.5 255.4L326.1 251.4M335.2 250.3L339.8 253.7M339.8 253.7L344.3 255.1M344.3 255.1L348.9 260.0M348.9 260.0L353.5 263.3M353.5 263.3L358.0 266.6M358.0 266.6L362.6 267.5M362.6 267.5L367.2 267.5M367.2 267.5L371.7 268.7M371.7 268.7L376.3 269.3M403.7 262.1L408.2 264.8M408.2 264.8L412.8 266.1M417.4 264.7L421.9 265.4M736.8 241.4L741.4 248.6M741.4 248.6L746.0 249.3M746.0 249.3L750.5 252.9M750.5 252.9L755.1 258.1M755.1 258.1L759.7 258.1M759.7 258.1L764.2 258.1M764.2 258.1L768.8 260.0M768.8 260.0L773.4 262.2M773.4 262.2L777.9 267.5M777.9 267.5L782.5 283.8M782.5 283.8L787.0 288.8M787.0 288.8L791.6 290.3M791.6 290.3L796.2 289.7M796.2 289.7L800.7 292.7M800.7 292.7L805.3 293.8M805.3 293.8L809.9 293.2M809.9 293.2L814.4 293.8M189.2 101.6L193.7 107.5M193.7 107.5L198.3 116.6M198.3 116.6L202.9 136.4M202.9 136.4L207.4 148.0M207.4 148.0L212.0 152.7M212.0 152.7L216.5 157.0M216.5 157.0L221.1 166.2M221.1 166.2L225.7 172.7M225.7 172.7L230.2 180.6M230.2 180.6L234.8 189.4M234.8 189.4L239.4 199.0M239.4 199.0L243.9 208.4M243.9 208.4L248.5 213.7M248.5 213.7L253.1 226.3M253.1 226.3L257.6 231.5M257.6 231.5L262.2 230.2M289.6 221.6L294.1 224.3M294.1 224.3L298.7 226.8M298.7 226.8L303.3 230.1M303.3 230.1L307.8 235.0M307.8 235.0L312.4 241.0M312.4 241.0L317.0 245.9M317.0 245.9L321.5 249.1M321.5 249.1L326.1 247.7M335.2 248.3L339.8 251.1M339.8 251.1L344.3 252.7M344.3 252.7L348.9 256.6M348.9 256.6L353.5 259.5M353.5 259.5L358.0 262.6M358.0 262.6L362.6 264.0M362.6 264.0L367.2 264.8M367.2 264.8L371.7 266.2M371.7 266.2L376.3 267.1M403.7 262.6L408.2 264.4M408.2 264.4L412.8 265.4M417.4 264.6L421.9 265.1M736.8 233.2L741.4 239.8M741.4 239.8L746.0 242.0M746.0 242.0L750.5 246.1M750.5 246.1L755.1 251.0M755.1 251.0L759.7 252.5M759.7 252.5L764.2 253.6M764.2 253.6L768.8 255.9M768.8 255.9L773.4 258.3M773.4 258.3L777.9 262.9M777.9 262.9L782.5 275.1M782.5 275.1L787.0 280.3M787.0 280.3L791.6 283.1M791.6 283.1L796.2 284.3M796.2 284.3L800.7 287.4M800.7 287.4L805.3 289.2M805.3 289.2L809.9 289.8M809.9 289.8L814.4 290.8M189.2 99.5L193.7 104.4M193.7 104.4L198.3 111.9M198.3 111.9L202.9 127.6M202.9 127.6L207.4 138.2M207.4 138.2L212.0 143.4M212.0 143.4L216.5 148.3M216.5 148.3L221.1 156.5M221.1 156.5L225.7 163.1M225.7 163.1L230.2 170.5M230.2 170.5L234.8 178.8M234.8 178.8L239.4 187.7M239.4 187.7L243.9 196.6M243.9 196.6L248.5 202.7M248.5 202.7L253.1 213.7M253.1 213.7L257.6 219.8M257.6 219.8L262.2 220.7M289.6 219.1L294.1 221.4M294.1 221.4L298.7 224.0M298.7 224.0L303.3 227.1M303.3 227.1L307.8 231.3M307.8 231.3L312.4 236.3M312.4 236.3L317.0 240.5M317.0 240.5L321.5 243.6M321.5 243.6L326.1 243.4M335.2 245.3L339.8 248.0M339.8 248.0L344.3 249.7M344.3 249.7L348.9 253.1M348.9 253.1L353.5 256.0M353.5 256.0L358.0 258.8M358.0 258.8L362.6 260.5M362.6 260.5L367.2 261.7M367.2 261.7L371.7 263.3M371.7 263.3L376.3 264.5M403.7 262.5L408.2 263.9M408.2 263.9L412.8 264.7M417.4 264.3L421.9 264.7M736.8 227.8L741.4 233.5M741.4 233.5L746.0 236.3M746.0 236.3L750.5 240.2M750.5 240.2L755.1 244.8M755.1 244.8L759.7 247.0M759.7 247.0L764.2 248.8M764.2 248.8L768.8 251.3M768.8 251.3L773.4 253.8M773.4 253.8L777.9 258.3M777.9 258.3L782.5 268.2M782.5 268.2L787.0 273.3M787.0 273.3L791.6 276.6M791.6 276.6L796.2 278.6M796.2 278.6L800.7 281.9M800.7 281.9L805.3 284.1M805.3 284.1L809.9 285.3M809.9 285.3L814.4 286.7M189.2 98.2L193.7 102.5M193.7 102.5L198.3 108.8M198.3 108.8L202.9 121.6M202.9 121.6L207.4 131.3M207.4 131.3L212.0 136.6M212.0 136.6L216.5 141.6M216.5 141.6L221.1 148.9M221.1 148.9L225.7 155.1M225.7 155.1L230.2 162.1M230.2 162.1L234.8 169.8M234.8 169.8L239.4 178.1M239.4 178.1L243.9 186.5M243.9 186.5L248.5 192.8M248.5 192.8L253.1 202.7M253.1 202.7L257.6 209.0M257.6 209.0L262.2 211.3M289.6 214.9L294.1 217.2M294.1 217.2L298.7 220.0M298.7 220.0L303.3 223.1M303.3 223.1L307.8 227.0M307.8 227.0L312.4 231.4M312.4 231.4L317.0 235.1M317.0 235.1L321.5 238.1M321.5 238.1L326.1 238.8M335.2 241.7L339.8 244.3M339.8 244.3L344.3 246.3M344.3 246.3L348.9 249.5M348.9 249.5L353.5 252.2M353.5 252.2L358.0 255.0M358.0 255.0L362.6 256.8M362.6 256.8L367.2 258.3M367.2 258.3L371.7 260.1M371.7 260.1L376.3 261.4M403.7 261.7L408.2 263.0M408.2 263.0L412.8 263.7M417.4 263.5L421.9 263.9M736.8 224.2L741.4 229.1M741.4 229.1L746.0 232.0M746.0 232.0L750.5 235.7M750.5 235.7L755.1 240.0M755.1 240.0L759.7 242.4M759.7 242.4L764.2 244.5M764.2 244.5L768.8 247.1M768.8 247.1L773.4 249.7M773.4 249.7L777.9 254.1M777.9 254.1L782.5 262.4M782.5 262.4L787.0 267.3M787.0 267.3L791.6 270.8M791.6 270.8L796.2 273.3M796.2 273.3L800.7 276.7M800.7 276.7L805.3 279.1M805.3 279.1L809.9 280.7M809.9 280.7L814.4 282.2M189.2 97.7L193.7 101.5M193.7 101.5L198.3 106.9M198.3 106.9L202.9 117.4M202.9 117.4L207.4 126.5M207.4 126.5L212.0 131.6M212.0 131.6L216.5 136.5M216.5 136.5L221.1 143.0M221.1 143.0L225.7 148.8M225.7 148.8L230.2 155.3M230.2 155.3L234.8 162.4M234.8 162.4L239.4 170.1M239.4 170.1L243.9 177.9M243.9 177.9L248.5 184.3M248.5 184.3L253.1 193.0M253.1 193.0L257.6 199.6M257.6 199.6L262.2 202.7M289.6 209.8L294.1 212.2M294.1 212.2L298.7 215.2M298.7 215.2L303.3 218.5M303.3 218.5L307.8 222.3M307.8 222.3L312.4 226.3M312.4 226.3L317.0 229.6M317.0 229.6L321.5 232.4M321.5 232.4L326.1 233.7M335.2 237.6L339.8 240.3M339.8 240.3L344.3 242.5M344.3 242.5L348.9 245.5M348.9 245.5L353.5 248.2M353.5 248.2L358.0 250.9M358.0 250.9L362.6 252.9M362.6 252.9L367.2 254.7M367.2 254.7L371.7 256.6M371.7 256.6L376.3 258.1M403.7 260.3L408.2 261.6M408.2 261.6L412.8 262.2M417.4 262.3L421.9 262.7M736.8 221.9L741.4 226.0M741.4 226.0L746.0 228.9M746.0 228.9L750.5 232.4M750.5 232.4L755.1 236.2M755.1 236.2L759.7 238.8M759.7 238.8L764.2 241.0M764.2 241.0L768.8 243.6M768.8 243.6L773.4 246.1M773.4 246.1L777.9 250.5M777.9 250.5L782.5 257.6M782.5 257.6L787.0 262.2M787.0 262.2L791.6 265.8M791.6 265.8L796.2 268.6M796.2 268.6L800.7 271.9M800.7 271.9L805.3 274.4M805.3 274.4L809.9 276.3M809.9 276.3L814.4 277.9M189.2 97.7L193.7 101.0M193.7 101.0L198.3 105.8M198.3 105.8L202.9 114.4M202.9 114.4L207.4 123.1M207.4 123.1L212.0 128.0M212.0 128.0L216.5 132.8M216.5 132.8L221.1 138.4M221.1 138.4L225.7 143.8M225.7 143.8L230.2 149.8M230.2 149.8L234.8 156.3M234.8 156.3L239.4 163.4M239.4 163.4L243.9 170.6M243.9 170.6L248.5 177.1M248.5 177.1L253.1 184.8M253.1 184.8L257.6 191.3M257.6 191.3L262.2 195.0M289.6 204.4L294.1 206.9M294.1 206.9L298.7 210.2M298.7 210.2L303.3 213.6M303.3 213.6L307.8 217.4M307.8 217.4L312.4 221.0M312.4 221.0L317.0 223.9M317.0 223.9L321.5 226.6M321.5 226.6L326.1 228.5M335.2 233.1L339.8 235.9M339.8 235.9L344.3 238.4M344.3 238.4L348.9 241.2M348.9 241.2L353.5 243.9M353.5 243.9L358.0 246.6M358.0 246.6L362.6 248.8M362.6 248.8L367.2 250.8M367.2 250.8L371.7 252.9M371.7 252.9L376.3 254.4M403.7 258.4L408.2 259.7M408.2 259.7L412.8 260.4M417.4 260.6L421.9 261.1M736.8 220.5L741.4 223.9M741.4 223.9L746.0 226.7M746.0 226.7L750.5 229.9M750.5 229.9L755.1 233.3M755.1 233.3L759.7 236.0M759.7 236.0L764.2 238.2M764.2 238.2L768.8 240.7M768.8 240.7L773.4 243.1M773.4 243.1L777.9 247.6M777.9 247.6L782.5 253.6M782.5 253.6L787.0 258.0M787.0 258.0L791.6 261.5M791.6 261.5L796.2 264.5M796.2 264.5L800.7 267.8M800.7 267.8L805.3 270.2M805.3 270.2L809.9 272.3M809.9 272.3L814.4 273.8" stroke="#ff9526" stroke-width="0.9" fill="none" stroke-linecap="round"/>
<path d="M42.0 120.7 C45.2 120.7 56.5 120.6 61.5 120.7 C66.5 120.8 69.0 121.2 72.2 121.3 C75.4 121.4 78.1 121.9 80.8 121.3 C83.5 120.7 86.2 118.5 88.3 117.5 C90.4 116.5 91.8 116.5 93.6 115.4 C95.4 114.3 97.2 112.8 99.0 111.0 C100.8 109.2 102.6 106.6 104.4 104.7 C106.2 102.8 107.9 101.2 109.7 99.8 C111.5 98.4 112.2 97.8 115.0 96.6 C117.8 95.4 121.6 93.7 126.4 92.8 C131.2 91.9 137.8 91.1 143.6 91.0 C149.4 90.9 156.4 91.5 161.0 92.0 C165.6 92.5 167.6 93.1 171.3 93.7 C175.0 94.3 180.0 94.4 183.4 95.4 C186.8 96.4 189.2 97.8 192.0 99.7 C194.8 101.6 197.4 103.2 200.0 106.6 C202.6 110.0 204.7 116.3 207.3 120.0 C210.0 123.7 213.0 125.7 215.9 128.6 C218.8 131.5 221.6 134.1 224.5 137.3 C227.4 140.5 230.3 143.9 233.2 147.6 C236.1 151.3 238.9 155.7 241.8 159.7 C244.7 163.7 247.5 167.8 250.4 171.8 C253.3 175.8 256.1 180.9 259.0 183.9 C261.9 186.9 264.8 188.3 267.7 190.0 C270.6 191.7 273.5 193.5 276.4 194.3 C279.3 195.1 282.1 194.2 285.0 195.0 C287.9 195.8 290.7 197.5 293.6 199.4 C296.5 201.3 299.4 204.1 302.3 206.4 C305.2 208.7 306.6 210.6 310.9 213.3 C315.2 216.0 323.3 219.7 328.2 222.5 C333.1 225.3 336.4 227.8 340.0 230.0 C343.6 232.2 347.1 234.3 350.0 236.0 C352.9 237.7 353.2 238.2 357.3 240.4 C361.4 242.6 368.8 247.1 374.5 249.0 C380.2 250.9 386.1 250.7 391.8 252.0 C397.6 253.3 403.2 255.7 409.0 256.9 C414.8 258.1 420.6 259.1 426.4 259.0 C432.2 258.9 437.9 257.3 443.6 256.4 C449.4 255.4 455.1 254.3 460.9 253.3 C466.7 252.3 471.7 251.4 478.2 250.2 C484.7 249.0 495.1 246.2 500.0 246.0 C504.9 245.8 503.2 248.6 507.3 249.0 C511.4 249.4 518.8 249.1 524.5 248.7 C530.2 248.3 536.0 247.4 541.8 246.5 C547.5 245.6 553.2 244.6 559.0 243.0 C564.8 241.4 570.6 239.7 576.4 237.0 C582.2 234.3 589.3 229.2 593.6 226.6 C597.9 224.0 599.6 222.0 602.3 221.5 C605.0 221.0 607.0 223.1 610.0 223.6 C613.0 224.1 615.0 224.3 620.0 224.5 C625.0 224.7 635.0 224.7 640.0 224.5 C645.0 224.3 647.7 224.3 650.0 223.5 C652.3 222.7 651.3 220.8 654.0 219.4 C656.7 218.0 661.1 217.2 666.0 215.0 C670.9 212.8 676.0 208.0 683.2 206.4 C690.4 204.8 703.2 205.3 709.0 205.5 C714.8 205.7 714.8 206.1 717.7 207.3 C720.6 208.5 723.2 210.5 726.4 212.5 C729.6 214.5 733.3 217.2 736.7 219.4 C740.1 221.6 743.6 223.3 747.0 225.4 C750.4 227.5 754.1 230.2 757.3 232.0 C760.4 233.8 763.0 234.9 765.9 236.3 C768.8 237.7 772.2 238.9 774.5 240.6 C776.8 242.3 778.0 244.7 779.7 246.6 C781.4 248.5 782.9 250.1 784.9 251.8 C786.9 253.5 789.2 255.1 791.8 257.0 C794.4 258.9 797.5 261.3 800.4 263.0 C803.3 264.7 806.1 266.2 809.0 267.4 C811.9 268.6 814.8 269.5 817.7 270.0 C820.6 270.5 823.1 270.4 826.4 270.5 C829.7 270.6 835.7 270.5 837.6 270.5" stroke="#24b796" stroke-width="3.4" fill="none" stroke-linejoin="round"/>
<path d="M42.0 110.6 C45.0 110.8 55.0 111.2 60.0 111.5 C65.0 111.8 68.2 112.0 72.0 112.2 C75.8 112.4 79.4 113.1 83.0 112.7 C86.6 112.3 90.0 111.0 93.6 110.0 C97.2 109.0 100.8 107.8 104.4 106.8 C108.0 105.8 111.4 104.8 115.0 104.1 C118.6 103.4 121.7 103.0 125.8 102.5 C129.9 102.0 134.1 101.6 139.8 100.9 C145.5 100.2 153.6 99.2 160.0 98.5 C166.4 97.8 172.7 96.7 178.0 97.0 C183.3 97.3 188.3 99.3 192.0 100.6 C195.7 101.9 196.2 103.0 200.0 104.9 C203.8 106.8 210.1 109.5 215.0 112.0 C219.9 114.5 224.4 117.1 229.7 120.0 C235.0 122.9 242.1 126.6 247.0 129.5 C251.9 132.4 254.1 134.6 259.0 137.3 C263.9 140.0 270.6 143.3 276.4 145.9 C282.2 148.5 287.9 150.0 293.6 152.8 C299.4 155.7 305.1 159.7 310.9 163.0 C316.7 166.3 321.7 169.0 328.2 172.4 C334.7 175.8 342.2 179.8 350.0 183.7 C357.8 187.6 366.4 192.1 375.0 195.7 C383.6 199.3 393.0 202.8 401.3 205.3 C409.6 207.9 417.7 209.3 425.0 211.0 C432.3 212.7 438.2 214.2 445.0 215.5 C451.8 216.8 458.5 217.5 466.0 218.6 C473.5 219.7 480.2 221.0 490.0 222.3 C499.8 223.6 514.4 225.3 524.5 226.3 C534.6 227.3 541.8 228.3 550.4 228.4 C559.0 228.5 567.8 227.7 576.4 227.0 C585.0 226.3 593.7 224.4 602.3 224.0 C610.9 223.6 620.2 224.6 628.2 224.6 C636.2 224.6 645.1 224.4 650.0 224.0 C654.9 223.6 653.2 222.8 657.3 222.0 C661.4 221.2 668.8 220.4 674.5 219.4 C680.2 218.4 686.0 216.5 691.8 215.9 C697.5 215.3 703.2 215.6 709.0 215.9 C714.8 216.2 720.6 216.6 726.4 217.6 C732.2 218.6 737.9 220.8 743.6 222.0 C749.4 223.2 755.1 223.3 760.9 224.5 C766.7 225.7 773.1 227.1 778.2 228.9 C783.4 230.7 786.7 233.3 791.8 235.4 C796.9 237.5 803.2 240.0 809.0 241.5 C814.8 243.0 821.6 243.8 826.4 244.6 C831.2 245.4 835.7 246.0 837.6 246.3" stroke="#fede36" stroke-width="3.7" fill="none" stroke-linejoin="round"/>
<path d="M42.0 17.5 C51.7 18.9 80.3 23.4 100.0 26.0 C119.7 28.6 146.4 31.4 160.0 33.0 C173.6 34.6 174.3 34.4 181.5 35.8 C188.7 37.2 195.8 39.1 203.0 41.2 C210.2 43.3 217.3 46.1 224.4 48.6 C231.5 51.1 238.7 53.4 245.8 56.5 C253.0 59.6 260.1 64.2 267.3 67.0 C274.5 69.8 281.7 71.3 288.8 73.6 C295.9 75.9 303.1 78.1 310.2 80.6 C317.3 83.1 323.4 85.4 331.7 88.4 C340.0 91.4 348.6 94.7 360.0 98.4 C371.4 102.1 382.3 105.1 400.0 110.6 C417.7 116.1 449.3 126.3 466.0 131.2 C482.7 136.1 484.3 136.7 500.0 140.0 C515.7 143.3 543.3 148.2 560.0 151.0 C576.7 153.8 586.7 155.0 600.0 157.0 C613.3 159.0 627.6 161.7 640.0 163.2 C652.4 164.7 660.1 164.6 674.5 165.8 C688.9 167.0 712.1 168.5 726.4 170.4 C740.6 172.3 747.7 174.5 760.0 177.0 C772.3 179.5 787.1 183.0 800.0 185.6 C812.9 188.2 831.2 191.3 837.5 192.5" stroke="#8dcbe8" stroke-width="1.9" fill="none"/>
<path d="M43.5 122.5V127.0M47.5 122.0V129.0M61.5 117.0V122.5M70.5 114.0V135.0M102.5 48.2V64.0M111.5 34.4V56.0M116.5 51.0V80.0M120.5 62.0V90.0M129.5 70.4V90.0M134.5 73.0V119.6M148.5 72.0V98.9M161.5 74.7V92.0M166.5 84.0V100.0M170.5 90.0V128.0M175.5 116.0V182.7M184.5 71.5V100.0M189.5 87.0V118.7M193.5 101.0V133.0M198.5 127.0V156.0M202.5 150.0V240.0M216.5 169.0V191.0M221.5 155.0V208.7M230.5 186.0V217.0M234.5 206.0V260.6M239.5 220.0V250.7M243.5 235.0V274.4M253.5 229.5V290.0M271.5 219.0V226.0M289.5 208.0V232.0M294.5 229.0V238.0M298.5 233.0V247.6M303.5 235.0V252.8M307.5 241.0V256.0M312.5 252.0V267.5M316.5 263.0V272.7M330.5 241.0V247.6M335.5 242.0V254.5M339.5 251.0V264.0M348.5 257.5V273.5M358.5 270.5V294.8M371.5 266.0V272.0M403.5 250.5V271.5M408.5 265.5V271.8M421.5 259.4V269.8M435.5 247.3V251.6M440.5 248.0V252.0M444.5 248.0V252.0M463.5 244.4V249.0M481.5 231.0V245.6M485.5 242.0V251.6M494.5 239.2V247.8M504.5 244.0V249.0M508.5 247.0V261.0M513.5 251.0V261.0M531.5 222.0V244.0M536.5 238.0V266.4M540.5 250.8V265.5M563.5 214.5V236.0M577.5 196.0V218.0M581.5 206.0V214.5M590.5 194.7V203.3M604.5 191.5V220.5M609.5 215.4V237.3M613.5 234.0V254.3M622.5 225.0V237.0M631.5 222.3V237.9M645.5 212.0V235.0M654.5 172.7V199.4M659.5 178.0V200.4M663.5 197.0V223.7M686.5 152.0V203.0M691.5 173.5V212.0M704.5 182.0V225.4M714.5 203.8V217.6M723.5 212.5V249.6M732.5 238.3V256.0M736.5 254.0V272.5M741.5 258.0V276.4M750.5 248.7V263.0M755.5 259.0V272.0M768.5 256.5V270.0M773.5 256.3V269.0M777.5 266.5V281.0M782.5 278.0V331.0M800.5 279.2V301.0M814.5 291.0V298.0M828.5 255.5V276.6M832.5 256.0V280.0" stroke="#f0504f" stroke-width="1" fill="none"/>
<path d="M52.5 121.0V130.0M56.5 118.0V124.0M65.5 119.0V123.0M75.5 122.0V132.0M79.5 119.5V124.0M84.5 98.0V122.0M88.5 91.0V101.5M93.5 78.5V94.5M97.5 50.0V80.0M107.5 33.0V69.0M125.5 64.0V89.0M138.5 70.4V93.5M143.5 62.6V79.0M152.5 76.4V96.0M157.5 77.0V90.0M180.5 21.3V158.0M207.5 185.4V224.5M211.5 169.0V203.5M225.5 191.5V207.0M248.5 219.0V271.8M257.5 249.4V309.0M262.5 222.0V261.5M266.5 210.4V233.0M275.5 215.0V238.0M280.5 207.9V220.8M285.5 203.9V219.0M321.5 258.9V275.3M326.5 240.5V265.0M344.5 257.0V264.6M353.5 268.0V278.4M362.5 268.6V276.0M367.5 266.5V270.5M376.5 270.6V275.0M380.5 263.5V272.0M385.5 259.4V269.8M389.5 254.2V265.5M394.5 251.6V260.3M399.5 250.0V263.7M412.5 268.0V274.0M417.5 260.0V270.5M426.5 259.4V269.8M431.5 247.0V263.5M449.5 248.0V253.0M453.5 244.4V250.8M458.5 243.3V250.0M467.5 242.0V247.5M472.5 239.5V245.0M476.5 238.2V243.0M490.5 239.0V247.0M499.5 243.5V247.5M517.5 247.4V259.5M522.5 231.8V252.5M526.5 212.8V238.0M545.5 234.4V264.6M549.5 233.5V249.0M554.5 221.5V237.0M558.5 216.0V238.7M567.5 212.0V237.9M572.5 192.4V216.0M586.5 192.4V214.5M595.5 191.7V206.0M599.5 190.0V202.5M618.5 229.0V254.3M627.5 222.3V246.5M636.5 218.9V237.9M641.5 202.0V223.0M650.5 173.5V223.5M668.5 200.4V220.0M672.5 191.0V219.0M677.5 160.6V194.0M682.5 128.6V170.0M695.5 197.8V212.5M700.5 182.0V205.0M709.5 207.3V222.0M718.5 212.5V227.0M727.5 236.6V252.0M745.5 249.6V267.0M759.5 253.0V271.3M764.5 255.3V270.4M787.5 298.2V327.5M791.5 287.8V307.7M796.5 280.0V299.0M805.5 295.6V305.0M809.5 290.7V301.6M818.5 272.5V300.2M823.5 260.2V279.2M837.5 267.6V281.7" stroke="#0d3d9b" stroke-width="1" fill="none"/>
<path d="M41.8 123.5h3.4V125.5h-3.4zM45.8 124.0h3.4V126.5h-3.4zM59.8 118.0h3.4V121.8h-3.4zM68.8 115.0h3.4V131.0h-3.4zM100.8 53.2h3.4V61.4h-3.4zM109.8 37.0h3.4V54.0h-3.4zM114.8 53.0h3.4V74.6h-3.4zM118.8 74.0h3.4V88.5h-3.4zM127.8 80.4h3.4V86.0h-3.4zM132.8 84.0h3.4V89.0h-3.4zM146.8 73.8h3.4V92.8h-3.4zM159.8 80.0h3.4V87.6h-3.4zM164.8 87.6h3.4V97.1h-3.4zM168.8 95.4h3.4V118.7h-3.4zM173.8 118.7h3.4V153.0h-3.4zM182.8 79.8h3.4V89.0h-3.4zM187.8 89.0h3.4V116.3h-3.4zM191.8 116.0h3.4V130.4h-3.4zM196.8 129.0h3.4V153.0h-3.4zM200.8 151.7h3.4V217.4h-3.4zM214.8 170.4h3.4V173.3h-3.4zM219.8 173.0h3.4V203.5h-3.4zM228.8 199.0h3.4V212.0h-3.4zM232.8 211.8h3.4V225.3h-3.4zM237.8 225.0h3.4V237.3h-3.4zM241.8 237.0h3.4V246.8h-3.4zM251.8 234.0h3.4V278.7h-3.4zM269.8 220.8h3.4V224.3h-3.4zM287.8 209.6h3.4V230.3h-3.4zM292.8 230.0h3.4V235.5h-3.4zM296.8 234.0h3.4V236.4h-3.4zM301.8 236.4h3.4V242.5h-3.4zM305.8 242.0h3.4V254.5h-3.4zM310.8 253.7h3.4V265.8h-3.4zM314.8 264.0h3.4V267.5h-3.4zM328.8 242.0h3.4V243.5h-3.4zM333.8 243.0h3.4V252.8h-3.4zM337.8 252.0h3.4V262.3h-3.4zM346.8 258.4h3.4V272.5h-3.4zM356.8 271.5h3.4V275.0h-3.4zM369.8 266.8h3.4V271.5h-3.4zM401.8 251.6h3.4V270.6h-3.4zM406.8 270.0h3.4V271.3h-3.4zM419.8 261.0h3.4V267.2h-3.4zM433.8 249.0h3.4V250.8h-3.4zM438.8 249.0h3.4V250.8h-3.4zM442.8 249.5h3.4V250.8h-3.4zM461.8 246.0h3.4V247.3h-3.4zM479.8 241.0h3.4V243.3h-3.4zM483.8 243.3h3.4V246.5h-3.4zM492.8 240.4h3.4V246.5h-3.4zM502.8 244.8h3.4V248.2h-3.4zM506.8 247.7h3.4V252.5h-3.4zM511.8 252.0h3.4V257.7h-3.4zM529.8 223.0h3.4V239.6h-3.4zM534.8 239.0h3.4V254.0h-3.4zM538.8 254.0h3.4V260.3h-3.4zM561.8 216.6h3.4V235.0h-3.4zM575.8 197.0h3.4V210.2h-3.4zM579.8 207.3h3.4V212.5h-3.4zM588.8 197.0h3.4V201.0h-3.4zM602.8 192.4h3.4V219.7h-3.4zM607.8 219.4h3.4V235.6h-3.4zM611.8 235.0h3.4V247.7h-3.4zM620.8 229.7h3.4V232.7h-3.4zM629.8 223.5h3.4V227.5h-3.4zM643.8 219.5h3.4V222.6h-3.4zM652.8 177.0h3.4V185.6h-3.4zM657.8 185.3h3.4V199.4h-3.4zM661.8 198.6h3.4V218.5h-3.4zM684.8 154.5h3.4V190.8h-3.4zM689.8 190.5h3.4V210.7h-3.4zM702.8 183.0h3.4V218.5h-3.4zM712.8 211.6h3.4V216.0h-3.4zM721.8 213.3h3.4V245.3h-3.4zM730.8 239.2h3.4V255.3h-3.4zM734.8 254.8h3.4V260.8h-3.4zM739.8 259.0h3.4V266.9h-3.4zM748.8 250.8h3.4V262.2h-3.4zM753.8 261.7h3.4V271.0h-3.4zM766.8 258.3h3.4V264.7h-3.4zM771.8 264.3h3.4V267.8h-3.4zM775.8 267.5h3.4V279.9h-3.4zM780.8 279.2h3.4V325.0h-3.4zM798.8 287.8h3.4V299.9h-3.4zM812.8 292.0h3.4V295.6h-3.4zM826.8 269.6h3.4V275.3h-3.4zM830.8 274.7h3.4V277.3h-3.4z" fill="#f0504f"/>
<path d="M50.8 122.0h3.4V127.0h-3.4zM54.8 118.7h3.4V122.0h-3.4zM63.8 119.6h3.4V122.0h-3.4zM73.8 123.0h3.4V131.0h-3.4zM77.8 120.5h3.4V123.0h-3.4zM82.8 99.4h3.4V121.3h-3.4zM86.8 93.7h3.4V100.6h-3.4zM91.8 79.9h3.4V93.7h-3.4zM95.8 54.0h3.4V79.0h-3.4zM105.8 37.0h3.4V57.6h-3.4zM123.8 80.4h3.4V87.0h-3.4zM136.8 77.3h3.4V92.3h-3.4zM141.8 73.0h3.4V77.0h-3.4zM150.8 85.0h3.4V93.7h-3.4zM155.8 79.9h3.4V85.9h-3.4zM178.8 79.9h3.4V154.0h-3.4zM205.8 192.0h3.4V217.4h-3.4zM209.8 170.4h3.4V192.0h-3.4zM223.8 199.0h3.4V203.5h-3.4zM246.8 234.0h3.4V246.8h-3.4zM255.8 252.0h3.4V278.7h-3.4zM260.8 223.8h3.4V252.5h-3.4zM264.8 220.8h3.4V224.3h-3.4zM273.8 216.5h3.4V225.0h-3.4zM278.8 210.4h3.4V217.4h-3.4zM283.8 209.6h3.4V211.3h-3.4zM319.8 263.7h3.4V267.5h-3.4zM324.8 241.6h3.4V263.7h-3.4zM342.8 258.3h3.4V262.8h-3.4zM351.8 271.5h3.4V273.2h-3.4zM360.8 269.8h3.4V275.5h-3.4zM365.8 267.2h3.4V269.8h-3.4zM374.8 271.0h3.4V272.0h-3.4zM378.8 264.6h3.4V271.5h-3.4zM383.8 263.7h3.4V265.0h-3.4zM387.8 258.5h3.4V264.6h-3.4zM392.8 253.0h3.4V258.5h-3.4zM397.8 251.3h3.4V253.4h-3.4zM410.8 269.2h3.4V271.0h-3.4zM415.8 261.0h3.4V269.8h-3.4zM424.8 262.5h3.4V267.2h-3.4zM429.8 249.0h3.4V262.9h-3.4zM447.8 249.0h3.4V252.0h-3.4zM451.8 246.0h3.4V250.0h-3.4zM456.8 244.7h3.4V247.3h-3.4zM465.8 243.3h3.4V246.8h-3.4zM470.8 241.3h3.4V243.0h-3.4zM474.8 239.9h3.4V242.0h-3.4zM488.8 240.0h3.4V246.3h-3.4zM497.8 244.4h3.4V246.5h-3.4zM515.8 249.0h3.4V257.7h-3.4zM520.8 236.0h3.4V250.0h-3.4zM524.8 223.0h3.4V237.0h-3.4zM543.8 238.7h3.4V259.8h-3.4zM547.8 235.3h3.4V239.0h-3.4zM552.8 227.0h3.4V236.0h-3.4zM556.8 217.0h3.4V227.5h-3.4zM565.8 214.2h3.4V235.0h-3.4zM570.8 197.0h3.4V215.0h-3.4zM584.8 197.0h3.4V212.0h-3.4zM593.8 195.2h3.4V200.4h-3.4zM597.8 192.4h3.4V195.9h-3.4zM616.8 230.0h3.4V247.4h-3.4zM625.8 223.5h3.4V232.7h-3.4zM634.8 219.7h3.4V227.5h-3.4zM639.8 219.5h3.4V220.5h-3.4zM648.8 176.0h3.4V222.6h-3.4zM666.8 214.0h3.4V218.5h-3.4zM670.8 192.3h3.4V217.6h-3.4zM675.8 169.2h3.4V192.5h-3.4zM680.8 154.5h3.4V169.2h-3.4zM693.8 203.8h3.4V211.6h-3.4zM698.8 183.0h3.4V204.3h-3.4zM707.8 212.5h3.4V218.5h-3.4zM716.8 213.3h3.4V216.0h-3.4zM725.8 239.2h3.4V245.6h-3.4zM743.8 250.8h3.4V266.4h-3.4zM757.8 258.0h3.4V270.6h-3.4zM762.8 258.0h3.4V259.2h-3.4zM785.8 301.3h3.4V325.0h-3.4zM789.8 293.9h3.4V301.6h-3.4zM794.8 287.8h3.4V293.9h-3.4zM803.8 296.5h3.4V300.2h-3.4zM807.8 291.6h3.4V297.3h-3.4zM816.8 273.7h3.4V296.0h-3.4zM821.8 269.2h3.4V274.9h-3.4zM835.8 274.7h3.4V276.4h-3.4z" fill="#0d3d9b"/>
<path d="M42.0 275H885.0" stroke="#2250a6" stroke-width="1.5" stroke-dasharray="1.2 1.1" fill="none"/>
<path d="M87.5 372.0h2.6v4.1h-2.6zM92.0 368.4h2.6v7.7h-2.6zM96.6 365.5h2.6v10.6h-2.6zM101.1 363.9h2.6v12.2h-2.6zM105.7 362.4h2.6v13.7h-2.6zM260.9 374.8h2.6v1.3h-2.6zM265.5 369.8h2.6v6.3h-2.6zM270.0 365.8h2.6v10.3h-2.6zM274.6 362.9h2.6v13.2h-2.6zM279.1 361.4h2.6v14.7h-2.6zM333.9 374.0h2.6v2.1h-2.6zM338.5 373.2h2.6v2.9h-2.6zM365.9 375.5h2.6v0.6h-2.6zM370.4 374.5h2.6v1.6h-2.6zM375.0 373.5h2.6v2.6h-2.6zM379.6 372.3h2.6v3.8h-2.6zM384.1 371.2h2.6v4.9h-2.6zM388.7 370.2h2.6v5.9h-2.6zM393.2 369.3h2.6v6.8h-2.6zM420.6 375.1h2.6v1.0h-2.6zM425.2 374.5h2.6v1.6h-2.6zM429.8 373.9h2.6v2.2h-2.6zM434.3 373.6h2.6v2.5h-2.6zM438.9 373.4h2.6v2.7h-2.6zM443.4 373.1h2.6v3.0h-2.6zM448.0 372.8h2.6v3.3h-2.6zM525.6 375.1h2.6v1.0h-2.6zM548.4 375.3h2.6v0.8h-2.6zM553.0 373.4h2.6v2.7h-2.6zM557.5 372.5h2.6v3.6h-2.6zM566.7 371.7h2.6v4.4h-2.6zM571.2 370.4h2.6v5.7h-2.6zM644.3 375.2h2.6v0.9h-2.6zM648.8 372.4h2.6v3.7h-2.6zM653.4 370.3h2.6v5.8h-2.6zM671.6 373.6h2.6v2.5h-2.6zM676.2 371.1h2.6v5.0h-2.6zM680.8 370.5h2.6v5.6h-2.6zM767.5 375.3h2.6v0.8h-2.6zM772.1 375.3h2.6v0.8h-2.6zM808.6 373.7h2.6v2.4h-2.6zM813.1 370.7h2.6v5.4h-2.6zM817.7 367.5h2.6v8.6h-2.6zM822.3 366.5h2.6v9.6h-2.6zM826.8 366.3h2.6v9.8h-2.6z" fill="#72e06a"/>
<path d="M110.3 364.2h2.6v11.9h-2.6zM114.8 369.4h2.6v6.7h-2.6zM119.4 373.5h2.6v2.6h-2.6zM283.7 361.4h2.6v14.7h-2.6zM288.3 364.4h2.6v11.7h-2.6zM292.8 367.3h2.6v8.8h-2.6zM297.4 369.8h2.6v6.3h-2.6zM302.0 372.0h2.6v4.1h-2.6zM306.5 374.7h2.6v1.4h-2.6zM343.0 373.4h2.6v2.7h-2.6zM347.6 374.1h2.6v2.0h-2.6zM352.2 375.1h2.6v1.0h-2.6zM397.8 369.6h2.6v6.5h-2.6zM402.4 372.5h2.6v3.6h-2.6zM406.9 374.7h2.6v1.4h-2.6zM411.5 374.9h2.6v1.2h-2.6zM416.1 375.2h2.6v0.9h-2.6zM452.6 372.9h2.6v3.2h-2.6zM457.1 373.3h2.6v2.8h-2.6zM461.7 373.6h2.6v2.5h-2.6zM466.3 373.8h2.6v2.3h-2.6zM470.8 374.7h2.6v1.4h-2.6zM475.4 375.3h2.6v0.8h-2.6zM562.1 372.8h2.6v3.3h-2.6zM575.8 370.8h2.6v5.3h-2.6zM580.4 371.2h2.6v4.9h-2.6zM584.9 371.6h2.6v4.5h-2.6zM589.5 372.1h2.6v4.0h-2.6zM594.1 372.6h2.6v3.5h-2.6zM598.6 373.0h2.6v3.1h-2.6zM658.0 371.8h2.6v4.3h-2.6zM662.5 373.7h2.6v2.4h-2.6zM685.3 372.6h2.6v3.5h-2.6zM831.4 367.0h2.6v9.1h-2.6zM836.0 367.9h2.6v8.2h-2.6z" fill="#3f9a4a"/>
<path d="M41.8 376.1h2.6v2.7h-2.6zM46.4 376.1h2.6v2.7h-2.6zM50.9 376.1h2.6v2.7h-2.6zM69.2 376.1h2.6v0.7h-2.6zM73.8 376.1h2.6v0.7h-2.6zM78.3 376.1h2.6v0.7h-2.6zM128.5 376.1h2.6v5.9h-2.6zM133.1 376.1h2.6v8.2h-2.6zM151.4 376.1h2.6v7.9h-2.6zM165.0 376.1h2.6v7.3h-2.6zM169.6 376.1h2.6v8.2h-2.6zM174.2 376.1h2.6v10.5h-2.6zM187.9 376.1h2.6v4.4h-2.6zM192.4 376.1h2.6v8.1h-2.6zM197.0 376.1h2.6v11.7h-2.6zM201.6 376.1h2.6v14.4h-2.6zM206.1 376.1h2.6v16.4h-2.6zM247.2 376.1h2.6v5.4h-2.6zM251.8 376.1h2.6v6.8h-2.6zM315.7 376.1h2.6v3.1h-2.6zM320.2 376.1h2.6v4.2h-2.6zM489.1 376.1h2.6v0.7h-2.6zM493.7 376.1h2.6v1.3h-2.6zM498.2 376.1h2.6v2.3h-2.6zM502.8 376.1h2.6v3.3h-2.6zM507.3 376.1h2.6v3.8h-2.6zM539.3 376.1h2.6v1.4h-2.6zM607.8 376.1h2.6v5.1h-2.6zM612.3 376.1h2.6v10.0h-2.6zM694.5 376.1h2.6v1.9h-2.6zM699.0 376.1h2.6v3.9h-2.6zM703.6 376.1h2.6v5.9h-2.6zM708.2 376.1h2.6v7.1h-2.6zM712.7 376.1h2.6v7.8h-2.6zM717.3 376.1h2.6v8.4h-2.6zM721.9 376.1h2.6v8.9h-2.6zM726.4 376.1h2.6v9.7h-2.6zM731.0 376.1h2.6v10.9h-2.6zM735.5 376.1h2.6v11.0h-2.6zM781.2 376.1h2.6v1.3h-2.6zM785.7 376.1h2.6v4.4h-2.6z" fill="#ee4a48"/>
<path d="M55.5 376.1h2.6v2.3h-2.6zM60.1 376.1h2.6v1.0h-2.6zM64.6 376.1h2.6v0.7h-2.6zM137.7 376.1h2.6v8.0h-2.6zM142.2 376.1h2.6v7.4h-2.6zM146.8 376.1h2.6v7.2h-2.6zM155.9 376.1h2.6v7.2h-2.6zM160.5 376.1h2.6v6.5h-2.6zM178.7 376.1h2.6v6.2h-2.6zM183.3 376.1h2.6v4.3h-2.6zM210.7 376.1h2.6v14.0h-2.6zM215.2 376.1h2.6v11.5h-2.6zM219.8 376.1h2.6v9.3h-2.6zM224.4 376.1h2.6v8.4h-2.6zM228.9 376.1h2.6v7.5h-2.6zM233.5 376.1h2.6v6.6h-2.6zM238.1 376.1h2.6v5.7h-2.6zM242.6 376.1h2.6v5.1h-2.6zM256.3 376.1h2.6v4.2h-2.6zM324.8 376.1h2.6v2.7h-2.6zM511.9 376.1h2.6v3.7h-2.6zM516.5 376.1h2.6v2.5h-2.6zM543.9 376.1h2.6v0.7h-2.6zM616.9 376.1h2.6v8.9h-2.6zM621.4 376.1h2.6v7.6h-2.6zM626.0 376.1h2.6v6.3h-2.6zM630.6 376.1h2.6v4.7h-2.6zM635.1 376.1h2.6v3.1h-2.6zM639.7 376.1h2.6v1.3h-2.6zM740.1 376.1h2.6v9.7h-2.6zM744.7 376.1h2.6v6.5h-2.6zM749.2 376.1h2.6v5.5h-2.6zM753.8 376.1h2.6v3.9h-2.6zM758.4 376.1h2.6v1.6h-2.6zM790.3 376.1h2.6v3.4h-2.6zM794.9 376.1h2.6v1.6h-2.6zM799.4 376.1h2.6v0.8h-2.6z" fill="#a83a3a"/>
<path d="M42.0 373.4 L55.0 373.6 L62.5 375.8 L82.8 377.0 L96.3 372.0 L107.6 367.5 L118.9 361.9 L130.0 360.3 L141.4 361.2 L152.7 365.3 L164.0 369.8 L175.2 374.3 L186.5 378.3 L197.7 383.3 L209.0 390.0 L220.3 396.8 L231.5 403.0 L240.0 407.0 L251.3 410.3 L261.4 412.6 L269.3 411.5 L278.3 407.0 L285.0 402.5 L296.3 395.7 L307.6 391.2 L318.9 390.7 L341.4 390.7 L352.7 390.0 L366.2 389.4 L375.2 389.0 L386.5 387.4 L397.7 384.4 L409.0 381.7 L420.3 380.0 L431.5 377.7 L440.0 377.0 L451.3 375.4 L462.5 373.2 L473.8 371.6 L485.0 371.0 L496.3 371.0 L507.6 372.0 L518.9 373.2 L530.0 373.2 L541.4 373.8 L552.0 373.8 L564.0 372.0 L575.2 368.7 L586.5 366.4 L597.7 364.2 L604.0 363.5 L615.8 366.4 L627.0 370.2 L638.3 373.8 L644.0 376.1 L655.7 373.2 L671.3 370.0 L680.0 368.2 L691.0 366.8 L703.7 367.3 L716.5 369.2 L725.6 373.7 L734.7 379.2 L743.9 385.6 L753.0 389.2 L763.6 392.3 L774.9 392.9 L781.5 393.8 L793.1 394.7 L804.6 394.7 L818.7 394.7 L826.0 392.0 L836.9 387.4" stroke="#f84fc2" stroke-width="1.4" fill="none" stroke-linejoin="round"/>
<path d="M42.0 376.1 L62.5 376.5 L82.8 377.7 L96.3 361.9 L107.6 353.6 L112.0 353.6 L118.9 358.5 L124.5 360.3 L127.0 362.5 L130.0 366.4 L134.6 369.0 L141.0 369.0 L146.0 369.8 L152.7 373.2 L161.7 375.4 L170.7 380.6 L175.2 385.1 L182.0 381.0 L188.7 383.3 L197.7 394.6 L206.7 405.4 L220.3 406.3 L231.5 410.3 L240.0 412.6 L246.8 413.7 L252.4 417.6 L256.9 416.7 L261.4 412.1 L269.3 402.5 L278.3 392.3 L285.0 387.8 L296.3 388.3 L305.3 389.0 L312.1 391.2 L318.9 394.9 L323.4 394.9 L330.1 391.2 L336.9 387.8 L346.0 387.8 L357.2 389.6 L366.2 389.0 L375.2 386.7 L386.5 382.2 L397.7 377.0 L401.0 378.3 L406.7 380.6 L420.3 379.2 L431.5 375.4 L440.0 374.3 L451.3 372.0 L467.0 370.2 L485.0 371.0 L496.3 372.5 L505.3 375.4 L512.0 376.5 L518.9 375.4 L525.6 372.0 L534.6 373.2 L541.4 375.4 L548.2 373.8 L557.2 369.3 L564.0 368.7 L573.0 363.5 L586.5 361.9 L600.0 360.8 L604.0 363.5 L609.0 369.8 L613.5 375.9 L627.0 376.6 L644.0 376.1 L654.0 367.6 L662.0 368.5 L668.2 370.7 L680.0 361.9 L685.5 363.1 L690.6 366.4 L698.2 370.0 L707.4 374.6 L716.5 377.4 L725.6 382.8 L732.9 389.2 L740.2 393.8 L745.7 392.9 L753.0 394.2 L758.5 392.9 L763.6 392.3 L771.2 391.6 L778.5 392.9 L781.5 393.8 L784.9 398.4 L789.5 398.9 L795.0 396.5 L800.4 395.6 L804.6 394.7 L811.4 391.6 L816.9 387.4 L822.3 383.8 L829.6 380.7 L836.9 379.2" stroke="#f9a040" stroke-width="1.5" fill="none" stroke-linejoin="round"/>
<path d="M42.0 376.1H884" stroke="#fbb239" stroke-width="2" fill="none"/>
<circle cx="84" cy="377.7" r="2.6" fill="#f9a040"/>
<circle cx="124.5" cy="360.3" r="2.6" fill="#f9a040"/>
<circle cx="261.4" cy="412.1" r="2.6" fill="#f9a040"/>
<circle cx="312.1" cy="391.2" r="2.6" fill="#f9a040"/>
<circle cx="330.1" cy="391.2" r="2.6" fill="#f9a040"/>
<circle cx="357.2" cy="389.6" r="2.6" fill="#f9a040"/>
<circle cx="366.2" cy="389" r="2.6" fill="#f9a040"/>
<circle cx="485" cy="371" r="2.6" fill="#f9a040"/>
<circle cx="525.6" cy="372" r="2.6" fill="#f9a040"/>
<circle cx="534.6" cy="373.2" r="2.6" fill="#f9a040"/>
<circle cx="548.2" cy="373.8" r="2.6" fill="#f9a040"/>
<circle cx="604" cy="363.5" r="2.6" fill="#f9a040"/>
<circle cx="644" cy="376.1" r="2.6" fill="#f9a040"/>
<circle cx="690.6" cy="366.4" r="2.6" fill="#f9a040"/>
<circle cx="763.6" cy="392.3" r="2.6" fill="#f9a040"/>
<circle cx="781.5" cy="393.8" r="2.6" fill="#f9a040"/>
<circle cx="804.6" cy="394.7" r="2.6" fill="#f9a040"/>
<path d="M43.3 474.2 L53.3 473.5 L63.3 474.2 L71.6 472.2 L78.3 473.2 L84.9 469.9 L90.0 468.9 L96.6 463.2 L101.5 464.9 L106.5 460.6 L119.8 457.2 L128.2 457.6 L134.8 454.9 L143.1 457.2 L149.8 458.2 L159.8 462.2 L166.4 463.2 L171.4 458.2 L176.4 440.0 L179.7 425.0 L189.7 435.6 L198.0 439.0 L203.0 431.0 L209.7 436.6 L216.3 444.3 L221.3 441.6 L226.3 447.6 L231.3 449.3 L236.3 444.9 L241.3 446.6 L246.3 445.6 L257.9 437.3 L264.6 443.3 L271.2 449.9 L279.5 454.9 L284.5 458.9 L289.5 459.9 L296.2 463.2 L306.1 464.9 L312.8 465.6 L317.8 467.2 L324.4 465.6 L331.1 468.2 L339.4 468.2 L344.4 469.9 L350.0 468.9 L358.3 467.2 L366.6 470.6 L376.6 474.2 L389.9 472.6 L398.0 472.3 L403.2 469.9 L413.2 471.6 L426.5 471.6 L431.5 469.9 L439.8 472.6 L449.8 474.2 L459.8 474.9 L473.1 475.5 L476.4 476.2 L481.4 473.2 L488.0 473.2 L494.7 472.6 L503.0 474.2 L509.7 472.2 L518.0 470.6 L526.3 466.6 L532.9 464.9 L536.3 463.2 L539.6 464.2 L544.6 461.6 L549.6 463.2 L556.2 462.2 L562.9 462.2 L567.9 460.2 L572.9 460.6 L577.9 462.2 L581.2 463.9 L586.2 463.2 L592.8 464.9 L599.5 466.2 L604.5 463.9 L609.5 463.2 L616.1 462.6 L621.1 463.9 L626.1 463.2 L631.1 463.9 L636.1 463.2 L643.6 462.2 L648.6 456.6 L653.6 456.2 L658.6 457.6 L663.6 457.6 L668.6 459.2 L673.6 458.2 L680.2 453.2 L686.9 448.3 L690.2 447.3 L695.2 450.9 L700.2 454.2 L704.5 452.2 L710.2 456.6 L718.5 460.9 L721.8 458.9 L731.8 462.2 L736.8 462.2 L745.1 463.9 L755.1 465.6 L763.4 465.6 L771.7 467.2 L776.7 467.2 L781.7 458.2 L785.0 457.6 L791.7 459.2 L800.0 460.6 L806.6 464.2 L813.3 467.6 L818.3 464.9 L823.3 464.9 L829.9 466.2 L836.6 467.6" stroke="#f59340" stroke-width="1.3" fill="none" stroke-linejoin="round"/><path d="M43.3 523.1 L53.3 521.5 L65.0 522.5 L73.3 518.1 L89.9 514.1 L101.5 504.8 L111.5 496.5 L119.8 497.5 L133.1 502.2 L146.5 506.5 L156.4 508.8 L166.4 511.5 L174.7 507.5 L181.4 509.8 L188.0 511.5 L198.0 511.5 L209.7 505.5 L219.6 503.2 L229.6 499.2 L242.9 491.5 L252.9 488.8 L257.9 485.5 L269.5 486.5 L282.8 488.8 L292.8 489.8 L306.1 488.8 L316.1 486.5 L326.0 487.5 L336.0 489.2 L350.0 487.5 L356.6 485.5 L373.3 482.9 L379.9 482.9 L389.9 484.9 L398.2 487.5 L411.5 489.2 L423.2 492.2 L436.5 499.8 L449.8 506.5 L464.7 512.1 L476.4 512.1 L486.4 512.1 L498.0 512.5 L509.7 514.1 L518.0 515.5 L523.0 514.8 L529.6 512.1 L539.6 514.8 L546.3 515.5 L552.9 514.1 L572.9 508.8 L589.5 502.2 L599.5 498.2 L607.8 502.5 L614.4 503.2 L622.8 505.5 L633.6 506.5 L642.0 509.8 L651.9 510.8 L658.6 509.8 L666.9 514.1 L673.6 514.8 L681.9 511.5 L688.5 512.5 L700.2 514.1 L710.2 516.5 L718.5 518.8 L728.4 519.1 L736.8 517.5 L743.4 515.8 L755.1 515.5 L765.0 514.1 L775.0 513.8 L781.7 509.8 L788.3 505.5 L795.0 503.8 L803.3 503.2 L813.3 501.8 L821.6 504.8 L829.9 509.1 L836.6 512.1" stroke="#fbb87c" stroke-width="1.3" fill="none" stroke-linejoin="round"/>
<path d="M0 349.5H932 M0 421.5H932 M0 479.4H932 M0 526.5H932 M42.3 0V550 M885.3 0V550" stroke="#50535e" stroke-width="1.15" fill="none"/>
<path d="M38.5 9.3H42.0 M38.5 49.2H42.0 M38.5 89.1H42.0 M38.5 129.0H42.0 M38.5 168.9H42.0 M38.5 208.8H42.0 M38.5 248.7H42.0 M38.5 288.6H42.0 M38.5 328.5H42.0 M885.0 351.2h3.5 M885.0 400.3h3.5 M885.0 445.6h3.5 M885.0 481.6h3.5 M885.0 509.8h3.5 M70.5 526.5v3.5 M180.0 526.5v3.5 M289.6 526.5v3.5 M399.1 526.5v3.5 M508.6 526.5v3.5 M618.1 526.5v3.5 M727.7 526.5v3.5 M837.2 526.5v3.5" stroke="#50535e" stroke-width="1" fill="none"/>
<g font-size="10.9" fill="#474a54">
<text x="49.7" y="17.6" textLength="171.3" lengthAdjust="spacingAndGlyphs" font-weight="bold" fill="#434651">British Pound / U.S. Dollar, 15, OANDA</text>
<text x="49.7" y="32.6" textLength="65.2" lengthAdjust="spacingAndGlyphs">EMA (75, close)</text>
<text x="49.7" y="47.2" textLength="65.2" lengthAdjust="spacingAndGlyphs">EMA (25, close)</text>
<text x="49.7" y="61.8" textLength="173" lengthAdjust="spacingAndGlyphs">Supertrend V1.0 - Buy or Sell Signal (4, 7)</text>
<text x="49.7" y="76.4" textLength="47.6" lengthAdjust="spacingAndGlyphs">VStop (7, 4)</text>
<text y="91"><tspan x="49.7" textLength="66.3" lengthAdjust="spacingAndGlyphs">CM SuperGuppy</tspan><tspan x="119.2" textLength="33.9" lengthAdjust="spacingAndGlyphs">(3, 6, 9,</tspan><tspan x="155.9" textLength="321.2" lengthAdjust="spacingAndGlyphs">12, 15, 18, 21, 24, 27, 30, 33, 36, 39, 42, 45, 48, 51, 54, 57, 60, 63, 66, 200)</tspan></text>
</g>
<g font-size="10.9" fill="#474a54">
<text x="49.5" y="367.8" textLength="146" lengthAdjust="spacingAndGlyphs">CM_Ult_MacD_MTF (1D, 8, 17, 9)</text>
<text x="49.3" y="440.2" textLength="57.2" lengthAdjust="spacingAndGlyphs">ATR (7, EMA)</text>
<text x="49.3" y="497.7" textLength="53.2" lengthAdjust="spacingAndGlyphs">ADX (14, 14)</text>
</g>
<g font-size="10" fill="#474a54">
<text x="6.3" y="12.9" text-anchor="start" textLength="29.3" lengthAdjust="spacingAndGlyphs">1.31400</text>
<text x="6.3" y="52.8" text-anchor="start" textLength="29.3" lengthAdjust="spacingAndGlyphs">1.31200</text>
<text x="6.3" y="92.7" text-anchor="start" textLength="29.3" lengthAdjust="spacingAndGlyphs">1.31000</text>
<text x="6.3" y="132.6" text-anchor="start" textLength="29.3" lengthAdjust="spacingAndGlyphs">1.30800</text>
<text x="6.3" y="172.5" text-anchor="start" textLength="29.3" lengthAdjust="spacingAndGlyphs">1.30600</text>
<text x="6.3" y="212.4" text-anchor="start" textLength="29.3" lengthAdjust="spacingAndGlyphs">1.30400</text>
<text x="6.3" y="252.3" text-anchor="start" textLength="29.3" lengthAdjust="spacingAndGlyphs">1.30200</text>
<text x="6.3" y="292.2" text-anchor="start" textLength="29.3" lengthAdjust="spacingAndGlyphs">1.30000</text>
<text x="6.3" y="332.1" text-anchor="start" textLength="29.3" lengthAdjust="spacingAndGlyphs">1.29800</text>
<clipPath id="cpm"><rect x="886" y="350.1" width="46" height="70"/></clipPath><clipPath id="cpa"><rect x="886" y="479.8" width="46" height="46"/></clipPath>
<g clip-path="url(#cpm)"><text x="891.6" y="355.0" text-anchor="start" textLength="29" lengthAdjust="spacingAndGlyphs">0.00100</text></g>
<g clip-path="url(#cpm)"><text x="891.6" y="404.2" text-anchor="start" textLength="33.4" lengthAdjust="spacingAndGlyphs">-0.00100</text></g>
<g><text x="891.6" y="449.8" text-anchor="start" textLength="30" lengthAdjust="spacingAndGlyphs">0.00200</text></g>
<g clip-path="url(#cpa)"><text x="891.6" y="485.3" text-anchor="start" textLength="20.3" lengthAdjust="spacingAndGlyphs">40.00</text></g>
<g clip-path="url(#cpa)"><text x="891.6" y="514.0" text-anchor="start" textLength="20.3" lengthAdjust="spacingAndGlyphs">20.00</text></g>
<text x="60.0" y="543.3" text-anchor="start" textLength="21" lengthAdjust="spacingAndGlyphs">06:00</text>
<text x="169.8" y="543.3" text-anchor="start" textLength="20.4" lengthAdjust="spacingAndGlyphs">12:00</text>
<text x="279.3" y="543.3" text-anchor="start" textLength="20.6" lengthAdjust="spacingAndGlyphs">18:00</text>
<text x="395.0" y="543.3" text-anchor="start" textLength="8.2" lengthAdjust="spacingAndGlyphs">20</text>
<text x="498.1" y="543.3" text-anchor="start" textLength="21" lengthAdjust="spacingAndGlyphs">06:00</text>
<text x="607.9" y="543.3" text-anchor="start" textLength="20.4" lengthAdjust="spacingAndGlyphs">12:00</text>
<text x="717.4" y="543.3" text-anchor="start" textLength="20.6" lengthAdjust="spacingAndGlyphs">18:00</text>
<text x="832.7" y="543.3" text-anchor="start" textLength="9" lengthAdjust="spacingAndGlyphs">23</text>
</g>
<rect x="0" y="267.9" width="42" height="13.8" fill="#1848a0"/>
<rect x="0" y="283.1" width="30.1" height="14.5" fill="#1848a0"/>
<g font-size="10" font-weight="bold" fill="#fff"><text x="6.2" y="278.1" text-anchor="start" textLength="29.4" lengthAdjust="spacingAndGlyphs">1.30067</text><text x="6.2" y="293.5" text-anchor="start" textLength="20.4" lengthAdjust="spacingAndGlyphs">02:47</text></g>
<circle cx="21.6" cy="537.6" r="7.5" fill="#eff1f5"/><circle cx="908.6" cy="537.6" r="7.5" fill="#eff1f5"/>
<g font-size="8.8" fill="#474a54" text-anchor="middle"><text x="21.6" y="540.8">Z</text><text x="908.6" y="540.8">A</text></g>
</svg>
</body></html>
